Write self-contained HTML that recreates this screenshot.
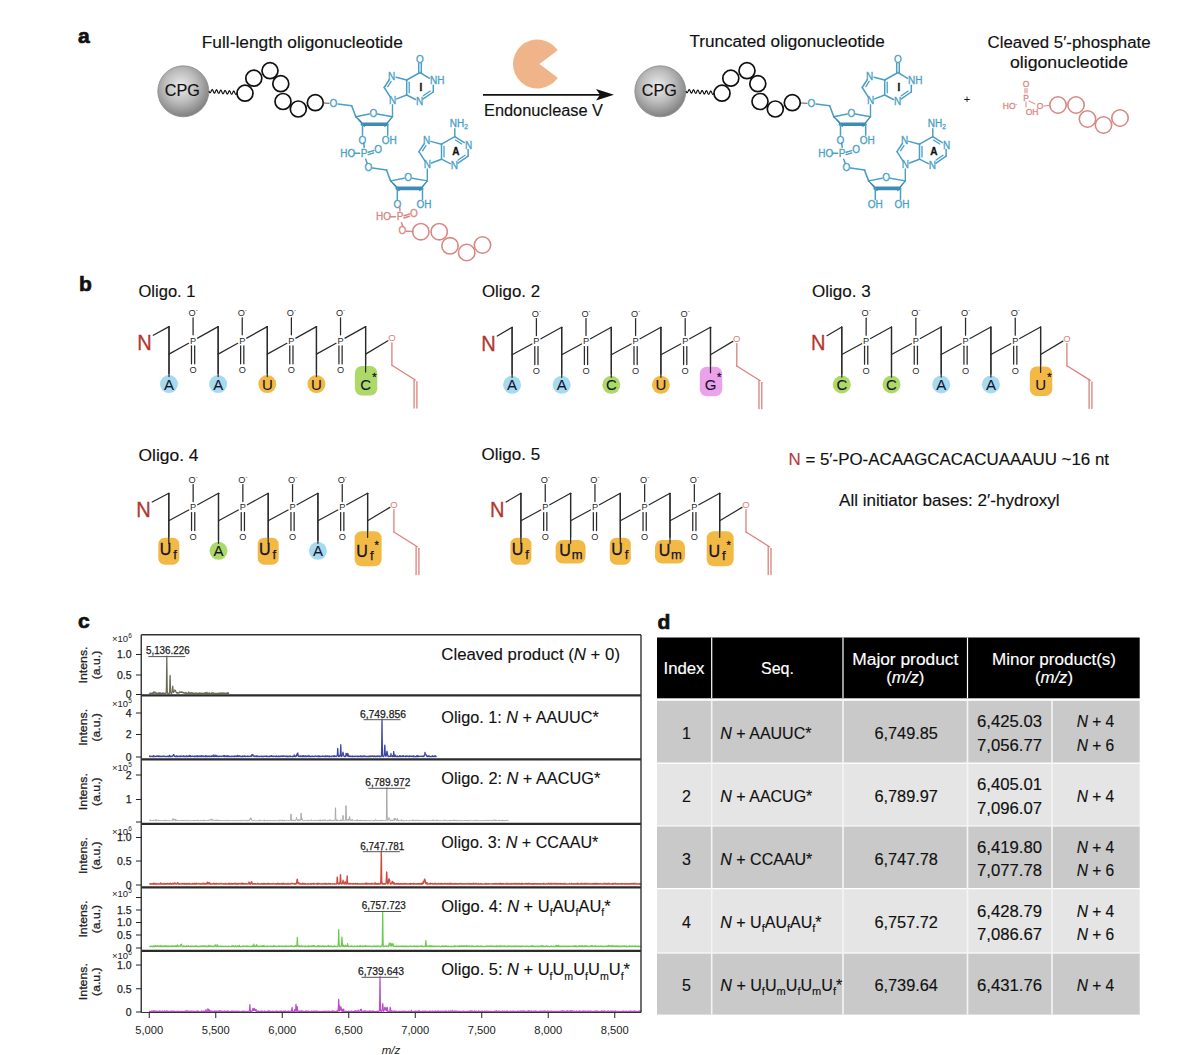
<!DOCTYPE html>
<html><head><meta charset="utf-8"><style>
html,body{margin:0;padding:0;background:#fff;width:1200px;height:1055px;overflow:hidden}
svg{display:block;font-family:"Liberation Sans", sans-serif}
</style></head><body>
<svg width="1200" height="1055" viewBox="0 0 1200 1055">
<defs>
<radialGradient id="sph" cx="0.45" cy="0.4" r="0.62">
<stop offset="0" stop-color="#ececec"/>
<stop offset="0.5" stop-color="#bdbdbd"/>
<stop offset="1" stop-color="#7c7c7c"/>
</radialGradient>
</defs>
<rect width="1200" height="1055" fill="#fff"/>
<text x="78" y="43" font-size="21" text-anchor="start" fill="#111" font-weight="bold" font-style="normal" stroke="#111" stroke-width="0.7" >a</text>
<text x="201.8" y="48.3" font-size="16" text-anchor="start" fill="#111" font-weight="normal" font-style="normal" textLength="201" lengthAdjust="spacingAndGlyphs" stroke="#111" stroke-width="0.15" >Full-length oligonucleotide</text>
<text x="689.4" y="47.3" font-size="16" text-anchor="start" fill="#111" font-weight="normal" font-style="normal" textLength="195.5" lengthAdjust="spacingAndGlyphs" stroke="#111" stroke-width="0.15" >Truncated oligonucleotide</text>
<text x="1069" y="48.3" font-size="16" text-anchor="middle" fill="#111" font-weight="normal" font-style="normal" textLength="163" lengthAdjust="spacingAndGlyphs" stroke="#111" stroke-width="0.15" >Cleaved 5′-phosphate</text>
<text x="1069" y="68.3" font-size="16" text-anchor="middle" fill="#111" font-weight="normal" font-style="normal" textLength="118" lengthAdjust="spacingAndGlyphs" stroke="#111" stroke-width="0.15" >oligonucleotide</text>
<circle cx="183.3" cy="91.3" r="25.5" fill="url(#sph)" stroke="#8a8a8a" stroke-width="0.8"/>
<text x="182.3" y="96.3" font-size="16.5" text-anchor="middle" fill="#111" font-weight="normal" font-style="normal" textLength="35" lengthAdjust="spacingAndGlyphs" stroke="#111" stroke-width="0.2" >CPG</text>
<polyline points="209.00,91.00 209.47,92.10 209.93,92.73 210.40,92.61 210.87,91.82 211.33,90.73 211.80,89.82 212.27,89.54 212.73,90.00 213.20,91.03 213.67,92.18 214.13,92.95 214.60,93.02 215.07,92.36 215.53,91.29 216.00,90.30 216.47,89.84 216.93,90.14 217.40,91.07 217.87,92.24 218.33,93.14 218.80,93.38 219.27,92.87 219.73,91.86 220.20,90.80 220.67,90.19 221.13,90.31 221.60,91.13 222.07,92.29 222.53,93.29 223.00,93.70 223.47,93.35 223.93,92.42 224.40,91.33 224.87,90.58 225.33,90.52 225.80,91.20 226.27,92.32 226.73,93.40 227.20,93.98 227.67,93.81 228.13,92.98 228.60,91.87 229.07,91.01 229.53,90.78 230.00,91.30 230.47,92.36 230.93,93.49 231.40,94.22 231.87,94.22 232.33,93.52 232.80,92.43 233.27,91.47 233.73,91.07 234.20,91.42 234.67,92.39 235.13,93.56 235.60,94.41 236.07,94.60 236.53,94.04 237.00,93.00" fill="none" stroke="#111" stroke-width="1.15"/>
<circle cx="245" cy="93.2" r="8" fill="none" stroke="#111" stroke-width="1.7"/>
<circle cx="253.8" cy="78.2" r="8" fill="none" stroke="#111" stroke-width="1.7"/>
<circle cx="270" cy="70.7" r="8" fill="none" stroke="#111" stroke-width="1.7"/>
<circle cx="280.8" cy="83.7" r="8" fill="none" stroke="#111" stroke-width="1.7"/>
<circle cx="283" cy="101.5" r="8" fill="none" stroke="#111" stroke-width="1.7"/>
<circle cx="298.3" cy="109.0" r="8" fill="none" stroke="#111" stroke-width="1.7"/>
<circle cx="315.3" cy="102.7" r="8" fill="none" stroke="#111" stroke-width="1.7"/>
<text x="333.3" y="107.10" font-size="10" text-anchor="middle" fill="#4a9fc6" font-weight="normal" stroke="#4a9fc6" stroke-width="0.3">O</text>
<line x1="323.50" y1="103.00" x2="329.00" y2="103.30" stroke="#555" stroke-width="1.1" stroke-linecap="round"/>
<line x1="338.00" y1="104.00" x2="351.70" y2="105.80" stroke="#4a9fc6" stroke-width="1.5" stroke-linecap="round"/>
<line x1="351.70" y1="105.80" x2="355.80" y2="116.70" stroke="#4a9fc6" stroke-width="1.6" stroke-linecap="round"/>
<line x1="355.80" y1="116.70" x2="369.30" y2="114.00" stroke="#4a9fc6" stroke-width="1.4" stroke-linecap="round"/>
<text x="373.3" y="116.90" font-size="10" text-anchor="middle" fill="#4a9fc6" font-weight="normal" stroke="#4a9fc6" stroke-width="0.3">O</text>
<line x1="377.30" y1="114.00" x2="392.50" y2="116.70" stroke="#4a9fc6" stroke-width="1.4" stroke-linecap="round"/>
<polygon points="355.8,116.7 361.1,121.8 364.3,126.4 " fill="#3f8bb2" stroke="#3f8bb2" stroke-width="1.2" stroke-linejoin="round"/>
<line x1="362.50" y1="124.20" x2="386.70" y2="124.20" stroke="#3f8bb2" stroke-width="3.6" stroke-linecap="round"/>
<polygon points="392.5,116.7 388.09999999999997,121.8 384.9,126.4" fill="#3f8bb2" stroke="#3f8bb2" stroke-width="1.2" stroke-linejoin="round"/>
<line x1="362.50" y1="124.20" x2="362.50" y2="135.20" stroke="#4a9fc6" stroke-width="1.5" stroke-linecap="round"/>
<text x="362.5" y="143.60" font-size="10" text-anchor="middle" fill="#4a9fc6" font-weight="normal" stroke="#4a9fc6" stroke-width="0.3">O</text>
<line x1="387.70" y1="124.20" x2="387.70" y2="135.20" stroke="#4a9fc6" stroke-width="1.5" stroke-linecap="round"/>
<text x="389.2" y="143.60" font-size="10" text-anchor="middle" fill="#4a9fc6" font-weight="normal" stroke="#4a9fc6" stroke-width="0.3">OH</text>
<line x1="392.50" y1="116.70" x2="392.50" y2="104.70" stroke="#4a9fc6" stroke-width="1.4" stroke-linecap="round"/>
<text x="392.5" y="104.10" font-size="10" text-anchor="middle" fill="#4a9fc6" font-weight="normal" stroke="#4a9fc6" stroke-width="0.3">N</text>
<line x1="390.08" y1="96.71" x2="384.20" y2="87.50" stroke="#4a9fc6" stroke-width="1.5" stroke-linecap="round"/>
<line x1="384.20" y1="87.50" x2="389.24" y2="79.77" stroke="#4a9fc6" stroke-width="1.5" stroke-linecap="round"/>
<line x1="387.79" y1="86.57" x2="391.17" y2="81.39" stroke="#4a9fc6" stroke-width="1.3" stroke-linecap="round"/>
<text x="391.7" y="79.60" font-size="10" text-anchor="middle" fill="#4a9fc6" font-weight="normal" stroke="#4a9fc6" stroke-width="0.3">N</text>
<line x1="396.05" y1="77.16" x2="406.70" y2="80.00" stroke="#4a9fc6" stroke-width="1.5" stroke-linecap="round"/>
<line x1="406.70" y1="80.00" x2="406.70" y2="95.00" stroke="#4a9fc6" stroke-width="1.5" stroke-linecap="round"/>
<line x1="409.20" y1="82.25" x2="409.20" y2="92.75" stroke="#4a9fc6" stroke-width="1.3" stroke-linecap="round"/>
<line x1="406.70" y1="95.00" x2="396.70" y2="98.87" stroke="#4a9fc6" stroke-width="1.5" stroke-linecap="round"/>
<line x1="406.70" y1="80.00" x2="420.00" y2="72.50" stroke="#4a9fc6" stroke-width="1.5" stroke-linecap="round"/>
<text x="419.5" y="105.10" font-size="10" text-anchor="middle" fill="#4a9fc6" font-weight="normal" stroke="#4a9fc6" stroke-width="0.3">N</text>
<line x1="433.30" y1="92.00" x2="423.21" y2="98.95" stroke="#4a9fc6" stroke-width="1.5" stroke-linecap="round"/>
<line x1="430.23" y1="91.08" x2="423.33" y2="95.83" stroke="#4a9fc6" stroke-width="1.3" stroke-linecap="round"/>
<line x1="415.49" y1="99.46" x2="406.70" y2="95.00" stroke="#4a9fc6" stroke-width="1.5" stroke-linecap="round"/>
<line x1="420.00" y1="72.50" x2="429.48" y2="78.42" stroke="#4a9fc6" stroke-width="1.5" stroke-linecap="round"/>
<text x="437.3" y="84.40" font-size="10" text-anchor="middle" fill="#4a9fc6" font-weight="normal" stroke="#4a9fc6" stroke-width="0.3">NH</text>
<line x1="433.30" y1="85.30" x2="433.30" y2="92.00" stroke="#4a9fc6" stroke-width="1.5" stroke-linecap="round"/>
<line x1="418.70" y1="72.50" x2="418.70" y2="63.50" stroke="#4a9fc6" stroke-width="1.5" stroke-linecap="round"/>
<line x1="421.30" y1="72.50" x2="421.30" y2="63.50" stroke="#4a9fc6" stroke-width="1.5" stroke-linecap="round"/>
<text x="420" y="62.60" font-size="10" text-anchor="middle" fill="#4a9fc6" font-weight="normal" stroke="#4a9fc6" stroke-width="0.3">O</text>
<text x="421.0" y="90.60" font-size="10" text-anchor="middle" fill="#111" font-weight="bold" stroke="#111" stroke-width="0.3">I</text>
<text x="364.2" y="156.90" font-size="10" text-anchor="middle" fill="#4a9fc6" font-weight="normal" stroke="#4a9fc6" stroke-width="0.3">P</text>
<text x="347.7" y="156.90" font-size="10" text-anchor="middle" fill="#4a9fc6" font-weight="normal" stroke="#4a9fc6" stroke-width="0.3">HO</text>
<line x1="354.20" y1="153.30" x2="359.70" y2="153.30" stroke="#4a9fc6" stroke-width="1.5" stroke-linecap="round"/>
<text x="378.2" y="153.40" font-size="10" text-anchor="middle" fill="#4a9fc6" font-weight="normal" stroke="#4a9fc6" stroke-width="0.3">O</text>
<line x1="368.20" y1="152.30" x2="373.70" y2="150.60" stroke="#4a9fc6" stroke-width="1.5" stroke-linecap="round"/>
<line x1="368.20" y1="154.60" x2="373.70" y2="152.90" stroke="#4a9fc6" stroke-width="1.5" stroke-linecap="round"/>
<line x1="363.70" y1="142.80" x2="364.20" y2="147.30" stroke="#4a9fc6" stroke-width="1.5" stroke-linecap="round"/>
<line x1="365.70" y1="159.30" x2="367.20" y2="163.30" stroke="#4a9fc6" stroke-width="1.5" stroke-linecap="round"/>
<text x="368.3" y="171.10" font-size="10" text-anchor="middle" fill="#4a9fc6" font-weight="normal" stroke="#4a9fc6" stroke-width="0.3">O</text>
<line x1="372.50" y1="168.00" x2="386.70" y2="170.00" stroke="#4a9fc6" stroke-width="1.5" stroke-linecap="round"/>
<line x1="386.50" y1="170.00" x2="390.60" y2="180.90" stroke="#4a9fc6" stroke-width="1.6" stroke-linecap="round"/>
<line x1="390.60" y1="180.90" x2="404.10" y2="178.20" stroke="#4a9fc6" stroke-width="1.4" stroke-linecap="round"/>
<text x="408.1" y="181.10" font-size="10" text-anchor="middle" fill="#4a9fc6" font-weight="normal" stroke="#4a9fc6" stroke-width="0.3">O</text>
<line x1="412.10" y1="178.20" x2="427.30" y2="180.90" stroke="#4a9fc6" stroke-width="1.4" stroke-linecap="round"/>
<polygon points="390.6,180.9 395.90000000000003,186.0 399.1,190.6 " fill="#3f8bb2" stroke="#3f8bb2" stroke-width="1.2" stroke-linejoin="round"/>
<line x1="397.30" y1="188.40" x2="421.50" y2="188.40" stroke="#3f8bb2" stroke-width="3.6" stroke-linecap="round"/>
<polygon points="427.3,180.9 422.9,186.0 419.7,190.6" fill="#3f8bb2" stroke="#3f8bb2" stroke-width="1.2" stroke-linejoin="round"/>
<line x1="397.30" y1="188.40" x2="397.30" y2="199.40" stroke="#4a9fc6" stroke-width="1.5" stroke-linecap="round"/>
<text x="397.3" y="207.80" font-size="10" text-anchor="middle" fill="#4a9fc6" font-weight="normal" stroke="#4a9fc6" stroke-width="0.3">O</text>
<line x1="422.50" y1="188.40" x2="422.50" y2="199.40" stroke="#4a9fc6" stroke-width="1.5" stroke-linecap="round"/>
<text x="424.0" y="207.80" font-size="10" text-anchor="middle" fill="#4a9fc6" font-weight="normal" stroke="#4a9fc6" stroke-width="0.3">OH</text>
<line x1="427.30" y1="180.90" x2="427.30" y2="168.90" stroke="#4a9fc6" stroke-width="1.4" stroke-linecap="round"/>
<text x="427.3" y="168.30" font-size="10" text-anchor="middle" fill="#4a9fc6" font-weight="normal" stroke="#4a9fc6" stroke-width="0.3">N</text>
<line x1="424.88" y1="160.91" x2="419.00" y2="151.70" stroke="#4a9fc6" stroke-width="1.5" stroke-linecap="round"/>
<line x1="419.00" y1="151.70" x2="424.04" y2="143.97" stroke="#4a9fc6" stroke-width="1.5" stroke-linecap="round"/>
<line x1="422.59" y1="150.77" x2="425.97" y2="145.59" stroke="#4a9fc6" stroke-width="1.3" stroke-linecap="round"/>
<text x="426.5" y="143.80" font-size="10" text-anchor="middle" fill="#4a9fc6" font-weight="normal" stroke="#4a9fc6" stroke-width="0.3">N</text>
<line x1="430.85" y1="141.36" x2="441.50" y2="144.20" stroke="#4a9fc6" stroke-width="1.5" stroke-linecap="round"/>
<line x1="441.50" y1="144.20" x2="441.50" y2="159.20" stroke="#4a9fc6" stroke-width="1.5" stroke-linecap="round"/>
<line x1="444.00" y1="146.45" x2="444.00" y2="156.95" stroke="#4a9fc6" stroke-width="1.3" stroke-linecap="round"/>
<line x1="441.50" y1="159.20" x2="431.50" y2="163.07" stroke="#4a9fc6" stroke-width="1.5" stroke-linecap="round"/>
<line x1="441.50" y1="144.20" x2="454.80" y2="136.70" stroke="#4a9fc6" stroke-width="1.5" stroke-linecap="round"/>
<text x="454.3" y="169.30" font-size="10" text-anchor="middle" fill="#4a9fc6" font-weight="normal" stroke="#4a9fc6" stroke-width="0.3">N</text>
<line x1="468.10" y1="156.20" x2="458.01" y2="163.15" stroke="#4a9fc6" stroke-width="1.5" stroke-linecap="round"/>
<line x1="465.03" y1="155.28" x2="458.13" y2="160.03" stroke="#4a9fc6" stroke-width="1.3" stroke-linecap="round"/>
<line x1="450.29" y1="163.66" x2="441.50" y2="159.20" stroke="#4a9fc6" stroke-width="1.5" stroke-linecap="round"/>
<line x1="454.80" y1="136.70" x2="464.28" y2="142.62" stroke="#4a9fc6" stroke-width="1.5" stroke-linecap="round"/>
<line x1="455.47" y1="140.07" x2="461.72" y2="143.97" stroke="#4a9fc6" stroke-width="1.3" stroke-linecap="round"/>
<text x="468.6" y="148.60" font-size="10" text-anchor="middle" fill="#4a9fc6" font-weight="normal" stroke="#4a9fc6" stroke-width="0.3">N</text>
<line x1="468.10" y1="149.50" x2="468.10" y2="156.20" stroke="#4a9fc6" stroke-width="1.5" stroke-linecap="round"/>
<line x1="454.80" y1="136.70" x2="454.80" y2="128.70" stroke="#4a9fc6" stroke-width="1.5" stroke-linecap="round"/>
<text x="458.8" y="126.80" font-size="10" text-anchor="middle" fill="#4a9fc6" font-weight="normal" stroke="#4a9fc6" stroke-width="0.3">NH<tspan font-size="6.5" dy="2">2</tspan></text>
<text x="455.8" y="154.80" font-size="10" text-anchor="middle" fill="#111" font-weight="bold" stroke="#111" stroke-width="0.3">A</text>
<text x="400" y="220.30" font-size="10" text-anchor="middle" fill="#d68884" font-weight="normal" stroke="#d68884" stroke-width="0.3">P</text>
<text x="383.5" y="220.30" font-size="10" text-anchor="middle" fill="#d68884" font-weight="normal" stroke="#d68884" stroke-width="0.3">HO</text>
<line x1="390.00" y1="216.70" x2="395.50" y2="216.70" stroke="#d68884" stroke-width="1.5" stroke-linecap="round"/>
<text x="414" y="216.80" font-size="10" text-anchor="middle" fill="#d68884" font-weight="normal" stroke="#d68884" stroke-width="0.3">O</text>
<line x1="404.00" y1="215.70" x2="409.50" y2="214.00" stroke="#d68884" stroke-width="1.5" stroke-linecap="round"/>
<line x1="404.00" y1="218.00" x2="409.50" y2="216.30" stroke="#d68884" stroke-width="1.5" stroke-linecap="round"/>
<line x1="399.50" y1="206.20" x2="400.00" y2="210.70" stroke="#d68884" stroke-width="1.5" stroke-linecap="round"/>
<line x1="401.50" y1="222.70" x2="403.00" y2="226.70" stroke="#d68884" stroke-width="1.5" stroke-linecap="round"/>
<text x="402.5" y="234.40" font-size="10" text-anchor="middle" fill="#d68884" font-weight="normal" stroke="#d68884" stroke-width="0.3">O</text>
<line x1="406.50" y1="231.30" x2="412.80" y2="231.50" stroke="#d68884" stroke-width="1.5" stroke-linecap="round"/>
<circle cx="420.8" cy="231.7" r="8.2" fill="none" stroke="#d68884" stroke-width="1.6"/>
<circle cx="439.2" cy="231.7" r="8.2" fill="none" stroke="#d68884" stroke-width="1.6"/>
<circle cx="450" cy="245.8" r="8.2" fill="none" stroke="#d68884" stroke-width="1.6"/>
<circle cx="466.7" cy="252.5" r="8.2" fill="none" stroke="#d68884" stroke-width="1.6"/>
<circle cx="482.5" cy="245" r="8.2" fill="none" stroke="#d68884" stroke-width="1.6"/>
<circle cx="660.3" cy="91.3" r="25.5" fill="url(#sph)" stroke="#8a8a8a" stroke-width="0.8"/>
<text x="659.3" y="96.3" font-size="16.5" text-anchor="middle" fill="#111" font-weight="normal" font-style="normal" textLength="35" lengthAdjust="spacingAndGlyphs" stroke="#111" stroke-width="0.2" >CPG</text>
<polyline points="686.00,91.00 686.47,92.10 686.93,92.73 687.40,92.61 687.87,91.82 688.33,90.73 688.80,89.82 689.27,89.54 689.73,90.00 690.20,91.03 690.67,92.18 691.13,92.95 691.60,93.02 692.07,92.36 692.53,91.29 693.00,90.30 693.47,89.84 693.93,90.14 694.40,91.07 694.87,92.24 695.33,93.14 695.80,93.38 696.27,92.87 696.73,91.86 697.20,90.80 697.67,90.19 698.13,90.31 698.60,91.13 699.07,92.29 699.53,93.29 700.00,93.70 700.47,93.35 700.93,92.42 701.40,91.33 701.87,90.58 702.33,90.52 702.80,91.20 703.27,92.32 703.73,93.40 704.20,93.98 704.67,93.81 705.13,92.98 705.60,91.87 706.07,91.01 706.53,90.78 707.00,91.30 707.47,92.36 707.93,93.49 708.40,94.22 708.87,94.22 709.33,93.52 709.80,92.43 710.27,91.47 710.73,91.07 711.20,91.42 711.67,92.39 712.13,93.56 712.60,94.41 713.07,94.60 713.53,94.04 714.00,93.00" fill="none" stroke="#111" stroke-width="1.15"/>
<circle cx="722" cy="93.2" r="8" fill="none" stroke="#111" stroke-width="1.7"/>
<circle cx="730.8" cy="78.2" r="8" fill="none" stroke="#111" stroke-width="1.7"/>
<circle cx="747" cy="70.7" r="8" fill="none" stroke="#111" stroke-width="1.7"/>
<circle cx="757.8" cy="83.7" r="8" fill="none" stroke="#111" stroke-width="1.7"/>
<circle cx="760" cy="101.5" r="8" fill="none" stroke="#111" stroke-width="1.7"/>
<circle cx="775.3" cy="109.0" r="8" fill="none" stroke="#111" stroke-width="1.7"/>
<circle cx="792.3" cy="102.7" r="8" fill="none" stroke="#111" stroke-width="1.7"/>
<text x="811.3" y="107.10" font-size="10" text-anchor="middle" fill="#4a9fc6" font-weight="normal" stroke="#4a9fc6" stroke-width="0.3">O</text>
<line x1="801.50" y1="103.00" x2="807.00" y2="103.30" stroke="#555" stroke-width="1.1" stroke-linecap="round"/>
<line x1="816.00" y1="104.00" x2="829.70" y2="105.80" stroke="#4a9fc6" stroke-width="1.5" stroke-linecap="round"/>
<line x1="829.70" y1="105.80" x2="833.80" y2="116.70" stroke="#4a9fc6" stroke-width="1.6" stroke-linecap="round"/>
<line x1="833.80" y1="116.70" x2="847.30" y2="114.00" stroke="#4a9fc6" stroke-width="1.4" stroke-linecap="round"/>
<text x="851.3" y="116.90" font-size="10" text-anchor="middle" fill="#4a9fc6" font-weight="normal" stroke="#4a9fc6" stroke-width="0.3">O</text>
<line x1="855.30" y1="114.00" x2="870.50" y2="116.70" stroke="#4a9fc6" stroke-width="1.4" stroke-linecap="round"/>
<polygon points="833.8,116.7 839.1,121.8 842.3,126.4 " fill="#3f8bb2" stroke="#3f8bb2" stroke-width="1.2" stroke-linejoin="round"/>
<line x1="840.50" y1="124.20" x2="864.70" y2="124.20" stroke="#3f8bb2" stroke-width="3.6" stroke-linecap="round"/>
<polygon points="870.5,116.7 866.1,121.8 862.9000000000001,126.4" fill="#3f8bb2" stroke="#3f8bb2" stroke-width="1.2" stroke-linejoin="round"/>
<line x1="840.50" y1="124.20" x2="840.50" y2="135.20" stroke="#4a9fc6" stroke-width="1.5" stroke-linecap="round"/>
<text x="840.5" y="143.60" font-size="10" text-anchor="middle" fill="#4a9fc6" font-weight="normal" stroke="#4a9fc6" stroke-width="0.3">O</text>
<line x1="865.70" y1="124.20" x2="865.70" y2="135.20" stroke="#4a9fc6" stroke-width="1.5" stroke-linecap="round"/>
<text x="867.2" y="143.60" font-size="10" text-anchor="middle" fill="#4a9fc6" font-weight="normal" stroke="#4a9fc6" stroke-width="0.3">OH</text>
<line x1="870.50" y1="116.70" x2="870.50" y2="104.70" stroke="#4a9fc6" stroke-width="1.4" stroke-linecap="round"/>
<text x="870.5" y="104.10" font-size="10" text-anchor="middle" fill="#4a9fc6" font-weight="normal" stroke="#4a9fc6" stroke-width="0.3">N</text>
<line x1="868.08" y1="96.71" x2="862.20" y2="87.50" stroke="#4a9fc6" stroke-width="1.5" stroke-linecap="round"/>
<line x1="862.20" y1="87.50" x2="867.24" y2="79.77" stroke="#4a9fc6" stroke-width="1.5" stroke-linecap="round"/>
<line x1="865.79" y1="86.57" x2="869.17" y2="81.39" stroke="#4a9fc6" stroke-width="1.3" stroke-linecap="round"/>
<text x="869.7" y="79.60" font-size="10" text-anchor="middle" fill="#4a9fc6" font-weight="normal" stroke="#4a9fc6" stroke-width="0.3">N</text>
<line x1="874.05" y1="77.16" x2="884.70" y2="80.00" stroke="#4a9fc6" stroke-width="1.5" stroke-linecap="round"/>
<line x1="884.70" y1="80.00" x2="884.70" y2="95.00" stroke="#4a9fc6" stroke-width="1.5" stroke-linecap="round"/>
<line x1="887.20" y1="82.25" x2="887.20" y2="92.75" stroke="#4a9fc6" stroke-width="1.3" stroke-linecap="round"/>
<line x1="884.70" y1="95.00" x2="874.70" y2="98.87" stroke="#4a9fc6" stroke-width="1.5" stroke-linecap="round"/>
<line x1="884.70" y1="80.00" x2="898.00" y2="72.50" stroke="#4a9fc6" stroke-width="1.5" stroke-linecap="round"/>
<text x="897.5" y="105.10" font-size="10" text-anchor="middle" fill="#4a9fc6" font-weight="normal" stroke="#4a9fc6" stroke-width="0.3">N</text>
<line x1="911.30" y1="92.00" x2="901.21" y2="98.95" stroke="#4a9fc6" stroke-width="1.5" stroke-linecap="round"/>
<line x1="908.23" y1="91.08" x2="901.33" y2="95.83" stroke="#4a9fc6" stroke-width="1.3" stroke-linecap="round"/>
<line x1="893.49" y1="99.46" x2="884.70" y2="95.00" stroke="#4a9fc6" stroke-width="1.5" stroke-linecap="round"/>
<line x1="898.00" y1="72.50" x2="907.48" y2="78.42" stroke="#4a9fc6" stroke-width="1.5" stroke-linecap="round"/>
<text x="915.3" y="84.40" font-size="10" text-anchor="middle" fill="#4a9fc6" font-weight="normal" stroke="#4a9fc6" stroke-width="0.3">NH</text>
<line x1="911.30" y1="85.30" x2="911.30" y2="92.00" stroke="#4a9fc6" stroke-width="1.5" stroke-linecap="round"/>
<line x1="896.70" y1="72.50" x2="896.70" y2="63.50" stroke="#4a9fc6" stroke-width="1.5" stroke-linecap="round"/>
<line x1="899.30" y1="72.50" x2="899.30" y2="63.50" stroke="#4a9fc6" stroke-width="1.5" stroke-linecap="round"/>
<text x="898" y="62.60" font-size="10" text-anchor="middle" fill="#4a9fc6" font-weight="normal" stroke="#4a9fc6" stroke-width="0.3">O</text>
<text x="899.0" y="90.60" font-size="10" text-anchor="middle" fill="#111" font-weight="bold" stroke="#111" stroke-width="0.3">I</text>
<text x="842.2" y="156.90" font-size="10" text-anchor="middle" fill="#4a9fc6" font-weight="normal" stroke="#4a9fc6" stroke-width="0.3">P</text>
<text x="825.7" y="156.90" font-size="10" text-anchor="middle" fill="#4a9fc6" font-weight="normal" stroke="#4a9fc6" stroke-width="0.3">HO</text>
<line x1="832.20" y1="153.30" x2="837.70" y2="153.30" stroke="#4a9fc6" stroke-width="1.5" stroke-linecap="round"/>
<text x="856.2" y="153.40" font-size="10" text-anchor="middle" fill="#4a9fc6" font-weight="normal" stroke="#4a9fc6" stroke-width="0.3">O</text>
<line x1="846.20" y1="152.30" x2="851.70" y2="150.60" stroke="#4a9fc6" stroke-width="1.5" stroke-linecap="round"/>
<line x1="846.20" y1="154.60" x2="851.70" y2="152.90" stroke="#4a9fc6" stroke-width="1.5" stroke-linecap="round"/>
<line x1="841.70" y1="142.80" x2="842.20" y2="147.30" stroke="#4a9fc6" stroke-width="1.5" stroke-linecap="round"/>
<line x1="843.70" y1="159.30" x2="845.20" y2="163.30" stroke="#4a9fc6" stroke-width="1.5" stroke-linecap="round"/>
<text x="846.3" y="171.10" font-size="10" text-anchor="middle" fill="#4a9fc6" font-weight="normal" stroke="#4a9fc6" stroke-width="0.3">O</text>
<line x1="850.50" y1="168.00" x2="864.70" y2="170.00" stroke="#4a9fc6" stroke-width="1.5" stroke-linecap="round"/>
<line x1="864.50" y1="170.00" x2="868.60" y2="180.90" stroke="#4a9fc6" stroke-width="1.6" stroke-linecap="round"/>
<line x1="868.60" y1="180.90" x2="882.10" y2="178.20" stroke="#4a9fc6" stroke-width="1.4" stroke-linecap="round"/>
<text x="886.0999999999999" y="181.10" font-size="10" text-anchor="middle" fill="#4a9fc6" font-weight="normal" stroke="#4a9fc6" stroke-width="0.3">O</text>
<line x1="890.10" y1="178.20" x2="905.30" y2="180.90" stroke="#4a9fc6" stroke-width="1.4" stroke-linecap="round"/>
<polygon points="868.5999999999999,180.9 873.9,186.0 877.0999999999999,190.6 " fill="#3f8bb2" stroke="#3f8bb2" stroke-width="1.2" stroke-linejoin="round"/>
<line x1="875.30" y1="188.40" x2="899.50" y2="188.40" stroke="#3f8bb2" stroke-width="3.6" stroke-linecap="round"/>
<polygon points="905.3,180.9 900.9,186.0 897.7,190.6" fill="#3f8bb2" stroke="#3f8bb2" stroke-width="1.2" stroke-linejoin="round"/>
<line x1="875.30" y1="188.40" x2="875.30" y2="199.40" stroke="#4a9fc6" stroke-width="1.5" stroke-linecap="round"/>
<text x="875.3" y="207.80" font-size="10" text-anchor="middle" fill="#4a9fc6" font-weight="normal" stroke="#4a9fc6" stroke-width="0.3">OH</text>
<line x1="900.50" y1="188.40" x2="900.50" y2="199.40" stroke="#4a9fc6" stroke-width="1.5" stroke-linecap="round"/>
<text x="902.0" y="207.80" font-size="10" text-anchor="middle" fill="#4a9fc6" font-weight="normal" stroke="#4a9fc6" stroke-width="0.3">OH</text>
<line x1="905.30" y1="180.90" x2="905.30" y2="168.90" stroke="#4a9fc6" stroke-width="1.4" stroke-linecap="round"/>
<text x="905.3" y="168.30" font-size="10" text-anchor="middle" fill="#4a9fc6" font-weight="normal" stroke="#4a9fc6" stroke-width="0.3">N</text>
<line x1="902.88" y1="160.91" x2="897.00" y2="151.70" stroke="#4a9fc6" stroke-width="1.5" stroke-linecap="round"/>
<line x1="897.00" y1="151.70" x2="902.04" y2="143.97" stroke="#4a9fc6" stroke-width="1.5" stroke-linecap="round"/>
<line x1="900.59" y1="150.77" x2="903.97" y2="145.59" stroke="#4a9fc6" stroke-width="1.3" stroke-linecap="round"/>
<text x="904.5" y="143.80" font-size="10" text-anchor="middle" fill="#4a9fc6" font-weight="normal" stroke="#4a9fc6" stroke-width="0.3">N</text>
<line x1="908.85" y1="141.36" x2="919.50" y2="144.20" stroke="#4a9fc6" stroke-width="1.5" stroke-linecap="round"/>
<line x1="919.50" y1="144.20" x2="919.50" y2="159.20" stroke="#4a9fc6" stroke-width="1.5" stroke-linecap="round"/>
<line x1="922.00" y1="146.45" x2="922.00" y2="156.95" stroke="#4a9fc6" stroke-width="1.3" stroke-linecap="round"/>
<line x1="919.50" y1="159.20" x2="909.50" y2="163.07" stroke="#4a9fc6" stroke-width="1.5" stroke-linecap="round"/>
<line x1="919.50" y1="144.20" x2="932.80" y2="136.70" stroke="#4a9fc6" stroke-width="1.5" stroke-linecap="round"/>
<text x="932.3" y="169.30" font-size="10" text-anchor="middle" fill="#4a9fc6" font-weight="normal" stroke="#4a9fc6" stroke-width="0.3">N</text>
<line x1="946.10" y1="156.20" x2="936.01" y2="163.15" stroke="#4a9fc6" stroke-width="1.5" stroke-linecap="round"/>
<line x1="943.03" y1="155.28" x2="936.13" y2="160.03" stroke="#4a9fc6" stroke-width="1.3" stroke-linecap="round"/>
<line x1="928.29" y1="163.66" x2="919.50" y2="159.20" stroke="#4a9fc6" stroke-width="1.5" stroke-linecap="round"/>
<line x1="932.80" y1="136.70" x2="942.28" y2="142.62" stroke="#4a9fc6" stroke-width="1.5" stroke-linecap="round"/>
<line x1="933.47" y1="140.07" x2="939.72" y2="143.97" stroke="#4a9fc6" stroke-width="1.3" stroke-linecap="round"/>
<text x="946.5999999999999" y="148.60" font-size="10" text-anchor="middle" fill="#4a9fc6" font-weight="normal" stroke="#4a9fc6" stroke-width="0.3">N</text>
<line x1="946.10" y1="149.50" x2="946.10" y2="156.20" stroke="#4a9fc6" stroke-width="1.5" stroke-linecap="round"/>
<line x1="932.80" y1="136.70" x2="932.80" y2="128.70" stroke="#4a9fc6" stroke-width="1.5" stroke-linecap="round"/>
<text x="936.8" y="126.80" font-size="10" text-anchor="middle" fill="#4a9fc6" font-weight="normal" stroke="#4a9fc6" stroke-width="0.3">NH<tspan font-size="6.5" dy="2">2</tspan></text>
<text x="933.8" y="154.80" font-size="10" text-anchor="middle" fill="#111" font-weight="bold" stroke="#111" stroke-width="0.3">A</text>
<path d="M539.5,64 L557.81,50.30 A24.5,24.5 0 1 0 557.81,77.70 Z" fill="#f0b48a"/>
<line x1="483" y1="94.8" x2="606" y2="94.8" stroke="#111" stroke-width="1.7"/>
<path d="M614,94.8 L596,89 L600,94.8 L596,100.6 Z" fill="#111"/>
<text x="484" y="116" font-size="16" text-anchor="start" fill="#111" font-weight="normal" font-style="normal" textLength="119" lengthAdjust="spacingAndGlyphs" stroke="#111" stroke-width="0.15" >Endonuclease V</text>
<text x="967" y="103" font-size="11" text-anchor="middle" fill="#111" font-weight="normal" font-style="normal" >+</text>
<text x="1026" y="87.06" font-size="8.5" text-anchor="middle" fill="#d68884" font-weight="normal" stroke="#d68884" stroke-width="0.3">O</text>
<line x1="1025.00" y1="88.50" x2="1025.00" y2="93.00" stroke="#d68884" stroke-width="1" stroke-linecap="round"/>
<line x1="1027.00" y1="88.50" x2="1027.00" y2="93.00" stroke="#d68884" stroke-width="1" stroke-linecap="round"/>
<text x="1026" y="101.06" font-size="8.5" text-anchor="middle" fill="#d68884" font-weight="normal" stroke="#d68884" stroke-width="0.3">P</text>
<text x="1010" y="109.06" font-size="8.5" text-anchor="middle" fill="#d68884" font-weight="normal" stroke="#d68884" stroke-width="0.3">HO<tspan font-size="5" dy="-3">-</tspan></text>
<text x="1032" y="115.06" font-size="8.5" text-anchor="middle" fill="#d68884" font-weight="normal" stroke="#d68884" stroke-width="0.3">OH</text>
<line x1="1026.00" y1="102.00" x2="1026.00" y2="107.00" stroke="#d68884" stroke-width="1" stroke-linecap="round"/>
<line x1="1029.00" y1="101.00" x2="1035.00" y2="104.00" stroke="#d68884" stroke-width="1" stroke-linecap="round"/>
<text x="1040" y="109.06" font-size="8.5" text-anchor="middle" fill="#d68884" font-weight="normal" stroke="#d68884" stroke-width="0.3">O</text>
<line x1="1044.00" y1="106.00" x2="1049.50" y2="105.50" stroke="#d68884" stroke-width="1" stroke-linecap="round"/>
<circle cx="1058" cy="105" r="8.2" fill="none" stroke="#d68884" stroke-width="1.6"/>
<circle cx="1076" cy="105" r="8.2" fill="none" stroke="#d68884" stroke-width="1.6"/>
<circle cx="1087.5" cy="119" r="8.2" fill="none" stroke="#d68884" stroke-width="1.6"/>
<circle cx="1103.5" cy="125" r="8.2" fill="none" stroke="#d68884" stroke-width="1.6"/>
<circle cx="1120" cy="118" r="8.2" fill="none" stroke="#d68884" stroke-width="1.6"/>
<text x="79" y="291.3" font-size="21" text-anchor="start" fill="#111" font-weight="bold" font-style="normal" stroke="#111" stroke-width="0.7" >b</text>
<text x="138.5" y="296.7" font-size="17" text-anchor="start" fill="#111" font-weight="normal" font-style="normal" textLength="57" lengthAdjust="spacingAndGlyphs" stroke="#111" stroke-width="0.15" >Oligo. 1</text>
<text x="144.5" y="349.8" font-size="22" text-anchor="middle" fill="#b3362f" font-weight="normal" font-style="normal" textLength="14.5" lengthAdjust="spacingAndGlyphs" stroke="#b3362f" stroke-width="0.3" >N</text>
<line x1="153.30" y1="335.30" x2="169.00" y2="326.60" stroke="#2a2a2a" stroke-width="1.25" stroke-linecap="round"/>
<line x1="169.00" y1="326.60" x2="169.00" y2="373.60" stroke="#2a2a2a" stroke-width="1.25" stroke-linecap="round"/>
<line x1="169.00" y1="354.10" x2="188.58" y2="343.30" stroke="#2a2a2a" stroke-width="1.25" stroke-linecap="round"/>
<text x="193.08" y="343.60" font-size="9.2" text-anchor="middle" fill="#2a2a2a">P</text>
<line x1="197.58" y1="338.10" x2="218.15" y2="326.60" stroke="#2a2a2a" stroke-width="1.25" stroke-linecap="round"/>
<line x1="193.08" y1="334.80" x2="193.08" y2="317.80" stroke="#2a2a2a" stroke-width="1.25" stroke-linecap="round"/>
<text x="193.08" y="316.00" font-size="9.2" text-anchor="middle" fill="#2a2a2a">O<tspan font-size="6" dy="-4">-</tspan></text>
<line x1="191.48" y1="345.80" x2="191.48" y2="363.80" stroke="#2a2a2a" stroke-width="1.25" stroke-linecap="round"/>
<line x1="194.68" y1="345.80" x2="194.68" y2="363.80" stroke="#2a2a2a" stroke-width="1.25" stroke-linecap="round"/>
<text x="193.08" y="373.10" font-size="9.2" text-anchor="middle" fill="#2a2a2a">O</text>
<circle cx="169.0" cy="384.1" r="9" fill="#a6dbef"/>
<line x1="169.00" y1="326.60" x2="169.00" y2="376.60" stroke="#2a2a2a" stroke-width="1.25" stroke-linecap="round"/>
<text x="169.00" y="389.50" font-size="15" text-anchor="middle" fill="#14142e" stroke="#14142e" stroke-width="0.1">A</text>
<line x1="218.15" y1="326.60" x2="218.15" y2="373.60" stroke="#2a2a2a" stroke-width="1.25" stroke-linecap="round"/>
<line x1="218.15" y1="354.10" x2="237.73" y2="343.30" stroke="#2a2a2a" stroke-width="1.25" stroke-linecap="round"/>
<text x="242.23" y="343.60" font-size="9.2" text-anchor="middle" fill="#2a2a2a">P</text>
<line x1="246.73" y1="338.10" x2="267.30" y2="326.60" stroke="#2a2a2a" stroke-width="1.25" stroke-linecap="round"/>
<line x1="242.23" y1="334.80" x2="242.23" y2="317.80" stroke="#2a2a2a" stroke-width="1.25" stroke-linecap="round"/>
<text x="242.23" y="316.00" font-size="9.2" text-anchor="middle" fill="#2a2a2a">O<tspan font-size="6" dy="-4">-</tspan></text>
<line x1="240.63" y1="345.80" x2="240.63" y2="363.80" stroke="#2a2a2a" stroke-width="1.25" stroke-linecap="round"/>
<line x1="243.83" y1="345.80" x2="243.83" y2="363.80" stroke="#2a2a2a" stroke-width="1.25" stroke-linecap="round"/>
<text x="242.23" y="373.10" font-size="9.2" text-anchor="middle" fill="#2a2a2a">O</text>
<circle cx="218.15" cy="384.1" r="9" fill="#a6dbef"/>
<line x1="218.15" y1="326.60" x2="218.15" y2="376.60" stroke="#2a2a2a" stroke-width="1.25" stroke-linecap="round"/>
<text x="218.15" y="389.50" font-size="15" text-anchor="middle" fill="#14142e" stroke="#14142e" stroke-width="0.1">A</text>
<line x1="267.30" y1="326.60" x2="267.30" y2="373.60" stroke="#2a2a2a" stroke-width="1.25" stroke-linecap="round"/>
<line x1="267.30" y1="354.10" x2="286.88" y2="343.30" stroke="#2a2a2a" stroke-width="1.25" stroke-linecap="round"/>
<text x="291.38" y="343.60" font-size="9.2" text-anchor="middle" fill="#2a2a2a">P</text>
<line x1="295.88" y1="338.10" x2="316.45" y2="326.60" stroke="#2a2a2a" stroke-width="1.25" stroke-linecap="round"/>
<line x1="291.38" y1="334.80" x2="291.38" y2="317.80" stroke="#2a2a2a" stroke-width="1.25" stroke-linecap="round"/>
<text x="291.38" y="316.00" font-size="9.2" text-anchor="middle" fill="#2a2a2a">O<tspan font-size="6" dy="-4">-</tspan></text>
<line x1="289.78" y1="345.80" x2="289.78" y2="363.80" stroke="#2a2a2a" stroke-width="1.25" stroke-linecap="round"/>
<line x1="292.98" y1="345.80" x2="292.98" y2="363.80" stroke="#2a2a2a" stroke-width="1.25" stroke-linecap="round"/>
<text x="291.38" y="373.10" font-size="9.2" text-anchor="middle" fill="#2a2a2a">O</text>
<circle cx="267.3" cy="384.1" r="9" fill="#f2b945"/>
<line x1="267.30" y1="326.60" x2="267.30" y2="376.60" stroke="#2a2a2a" stroke-width="1.25" stroke-linecap="round"/>
<text x="267.30" y="389.50" font-size="15" text-anchor="middle" fill="#14142e" stroke="#14142e" stroke-width="0.1">U</text>
<line x1="316.45" y1="326.60" x2="316.45" y2="373.60" stroke="#2a2a2a" stroke-width="1.25" stroke-linecap="round"/>
<line x1="316.45" y1="354.10" x2="336.03" y2="343.30" stroke="#2a2a2a" stroke-width="1.25" stroke-linecap="round"/>
<text x="340.53" y="343.60" font-size="9.2" text-anchor="middle" fill="#2a2a2a">P</text>
<line x1="345.03" y1="338.10" x2="365.60" y2="326.60" stroke="#2a2a2a" stroke-width="1.25" stroke-linecap="round"/>
<line x1="340.53" y1="334.80" x2="340.53" y2="317.80" stroke="#2a2a2a" stroke-width="1.25" stroke-linecap="round"/>
<text x="340.53" y="316.00" font-size="9.2" text-anchor="middle" fill="#2a2a2a">O<tspan font-size="6" dy="-4">-</tspan></text>
<line x1="338.93" y1="345.80" x2="338.93" y2="363.80" stroke="#2a2a2a" stroke-width="1.25" stroke-linecap="round"/>
<line x1="342.13" y1="345.80" x2="342.13" y2="363.80" stroke="#2a2a2a" stroke-width="1.25" stroke-linecap="round"/>
<text x="340.53" y="373.10" font-size="9.2" text-anchor="middle" fill="#2a2a2a">O</text>
<circle cx="316.45" cy="384.1" r="9" fill="#f2b945"/>
<line x1="316.45" y1="326.60" x2="316.45" y2="376.60" stroke="#2a2a2a" stroke-width="1.25" stroke-linecap="round"/>
<text x="316.45" y="389.50" font-size="15" text-anchor="middle" fill="#14142e" stroke="#14142e" stroke-width="0.1">U</text>
<line x1="365.60" y1="326.60" x2="365.60" y2="364.60" stroke="#2a2a2a" stroke-width="1.25" stroke-linecap="round"/>
<line x1="365.60" y1="354.10" x2="387.90" y2="340.70" stroke="#2a2a2a" stroke-width="1.25" stroke-linecap="round"/>
<text x="391.90" y="341.30" font-size="9.5" text-anchor="middle" fill="#d9827a">O</text>
<line x1="391.90" y1="343.00" x2="391.90" y2="365.30" stroke="#d9827a" stroke-width="1.3" stroke-linecap="round"/>
<line x1="391.90" y1="365.30" x2="415.30" y2="380.00" stroke="#d9827a" stroke-width="1.3" stroke-linecap="round"/>
<line x1="414.10" y1="380.00" x2="414.10" y2="408.00" stroke="#d9827a" stroke-width="1.3" stroke-linecap="round"/>
<line x1="416.90" y1="381.60" x2="416.90" y2="408.00" stroke="#d9827a" stroke-width="1.3" stroke-linecap="round"/>
<rect x="354.90" y="366.00" width="22.4" height="29.6" rx="7" fill="#acd967"/>
<line x1="365.60" y1="326.60" x2="365.60" y2="372.00" stroke="#2a2a2a" stroke-width="1.25" stroke-linecap="round"/>
<text x="365.60" y="389.50" font-size="15" text-anchor="middle" fill="#14142e" stroke="#14142e" stroke-width="0.1">C</text>
<text x="374.30" y="380.60" font-size="11" text-anchor="middle" fill="#14142e" stroke="#14142e" stroke-width="0.3">*</text>
<text x="482" y="296.7" font-size="17" text-anchor="start" fill="#111" font-weight="normal" font-style="normal" textLength="58" lengthAdjust="spacingAndGlyphs" stroke="#111" stroke-width="0.15" >Oligo. 2</text>
<text x="488.5" y="350.5" font-size="22" text-anchor="middle" fill="#b3362f" font-weight="normal" font-style="normal" textLength="14.5" lengthAdjust="spacingAndGlyphs" stroke="#b3362f" stroke-width="0.3" >N</text>
<line x1="497.30" y1="336.00" x2="512.10" y2="327.30" stroke="#2a2a2a" stroke-width="1.25" stroke-linecap="round"/>
<line x1="512.10" y1="327.30" x2="512.10" y2="374.30" stroke="#2a2a2a" stroke-width="1.25" stroke-linecap="round"/>
<line x1="512.10" y1="354.80" x2="531.90" y2="344.00" stroke="#2a2a2a" stroke-width="1.25" stroke-linecap="round"/>
<text x="536.40" y="344.30" font-size="9.2" text-anchor="middle" fill="#2a2a2a">P</text>
<line x1="540.90" y1="338.80" x2="561.70" y2="327.30" stroke="#2a2a2a" stroke-width="1.25" stroke-linecap="round"/>
<line x1="536.40" y1="335.50" x2="536.40" y2="318.50" stroke="#2a2a2a" stroke-width="1.25" stroke-linecap="round"/>
<text x="536.40" y="316.70" font-size="9.2" text-anchor="middle" fill="#2a2a2a">O<tspan font-size="6" dy="-4">-</tspan></text>
<line x1="534.80" y1="346.50" x2="534.80" y2="364.50" stroke="#2a2a2a" stroke-width="1.25" stroke-linecap="round"/>
<line x1="538.00" y1="346.50" x2="538.00" y2="364.50" stroke="#2a2a2a" stroke-width="1.25" stroke-linecap="round"/>
<text x="536.40" y="373.80" font-size="9.2" text-anchor="middle" fill="#2a2a2a">O</text>
<circle cx="512.1" cy="384.8" r="9" fill="#a6dbef"/>
<line x1="512.10" y1="327.30" x2="512.10" y2="377.30" stroke="#2a2a2a" stroke-width="1.25" stroke-linecap="round"/>
<text x="512.10" y="390.20" font-size="15" text-anchor="middle" fill="#14142e" stroke="#14142e" stroke-width="0.1">A</text>
<line x1="561.70" y1="327.30" x2="561.70" y2="374.30" stroke="#2a2a2a" stroke-width="1.25" stroke-linecap="round"/>
<line x1="561.70" y1="354.80" x2="581.50" y2="344.00" stroke="#2a2a2a" stroke-width="1.25" stroke-linecap="round"/>
<text x="586.00" y="344.30" font-size="9.2" text-anchor="middle" fill="#2a2a2a">P</text>
<line x1="590.50" y1="338.80" x2="611.30" y2="327.30" stroke="#2a2a2a" stroke-width="1.25" stroke-linecap="round"/>
<line x1="586.00" y1="335.50" x2="586.00" y2="318.50" stroke="#2a2a2a" stroke-width="1.25" stroke-linecap="round"/>
<text x="586.00" y="316.70" font-size="9.2" text-anchor="middle" fill="#2a2a2a">O<tspan font-size="6" dy="-4">-</tspan></text>
<line x1="584.40" y1="346.50" x2="584.40" y2="364.50" stroke="#2a2a2a" stroke-width="1.25" stroke-linecap="round"/>
<line x1="587.60" y1="346.50" x2="587.60" y2="364.50" stroke="#2a2a2a" stroke-width="1.25" stroke-linecap="round"/>
<text x="586.00" y="373.80" font-size="9.2" text-anchor="middle" fill="#2a2a2a">O</text>
<circle cx="561.7" cy="384.8" r="9" fill="#a6dbef"/>
<line x1="561.70" y1="327.30" x2="561.70" y2="377.30" stroke="#2a2a2a" stroke-width="1.25" stroke-linecap="round"/>
<text x="561.70" y="390.20" font-size="15" text-anchor="middle" fill="#14142e" stroke="#14142e" stroke-width="0.1">A</text>
<line x1="611.30" y1="327.30" x2="611.30" y2="374.30" stroke="#2a2a2a" stroke-width="1.25" stroke-linecap="round"/>
<line x1="611.30" y1="354.80" x2="631.10" y2="344.00" stroke="#2a2a2a" stroke-width="1.25" stroke-linecap="round"/>
<text x="635.60" y="344.30" font-size="9.2" text-anchor="middle" fill="#2a2a2a">P</text>
<line x1="640.10" y1="338.80" x2="660.90" y2="327.30" stroke="#2a2a2a" stroke-width="1.25" stroke-linecap="round"/>
<line x1="635.60" y1="335.50" x2="635.60" y2="318.50" stroke="#2a2a2a" stroke-width="1.25" stroke-linecap="round"/>
<text x="635.60" y="316.70" font-size="9.2" text-anchor="middle" fill="#2a2a2a">O<tspan font-size="6" dy="-4">-</tspan></text>
<line x1="634.00" y1="346.50" x2="634.00" y2="364.50" stroke="#2a2a2a" stroke-width="1.25" stroke-linecap="round"/>
<line x1="637.20" y1="346.50" x2="637.20" y2="364.50" stroke="#2a2a2a" stroke-width="1.25" stroke-linecap="round"/>
<text x="635.60" y="373.80" font-size="9.2" text-anchor="middle" fill="#2a2a2a">O</text>
<circle cx="611.3000000000001" cy="384.8" r="9" fill="#acd967"/>
<line x1="611.30" y1="327.30" x2="611.30" y2="377.30" stroke="#2a2a2a" stroke-width="1.25" stroke-linecap="round"/>
<text x="611.30" y="390.20" font-size="15" text-anchor="middle" fill="#14142e" stroke="#14142e" stroke-width="0.1">C</text>
<line x1="660.90" y1="327.30" x2="660.90" y2="374.30" stroke="#2a2a2a" stroke-width="1.25" stroke-linecap="round"/>
<line x1="660.90" y1="354.80" x2="680.70" y2="344.00" stroke="#2a2a2a" stroke-width="1.25" stroke-linecap="round"/>
<text x="685.20" y="344.30" font-size="9.2" text-anchor="middle" fill="#2a2a2a">P</text>
<line x1="689.70" y1="338.80" x2="710.50" y2="327.30" stroke="#2a2a2a" stroke-width="1.25" stroke-linecap="round"/>
<line x1="685.20" y1="335.50" x2="685.20" y2="318.50" stroke="#2a2a2a" stroke-width="1.25" stroke-linecap="round"/>
<text x="685.20" y="316.70" font-size="9.2" text-anchor="middle" fill="#2a2a2a">O<tspan font-size="6" dy="-4">-</tspan></text>
<line x1="683.60" y1="346.50" x2="683.60" y2="364.50" stroke="#2a2a2a" stroke-width="1.25" stroke-linecap="round"/>
<line x1="686.80" y1="346.50" x2="686.80" y2="364.50" stroke="#2a2a2a" stroke-width="1.25" stroke-linecap="round"/>
<text x="685.20" y="373.80" font-size="9.2" text-anchor="middle" fill="#2a2a2a">O</text>
<circle cx="660.9000000000001" cy="384.8" r="9" fill="#f2b945"/>
<line x1="660.90" y1="327.30" x2="660.90" y2="377.30" stroke="#2a2a2a" stroke-width="1.25" stroke-linecap="round"/>
<text x="660.90" y="390.20" font-size="15" text-anchor="middle" fill="#14142e" stroke="#14142e" stroke-width="0.1">U</text>
<line x1="710.50" y1="327.30" x2="710.50" y2="365.30" stroke="#2a2a2a" stroke-width="1.25" stroke-linecap="round"/>
<line x1="710.50" y1="354.80" x2="732.80" y2="341.40" stroke="#2a2a2a" stroke-width="1.25" stroke-linecap="round"/>
<text x="736.80" y="342.00" font-size="9.5" text-anchor="middle" fill="#d9827a">O</text>
<line x1="736.80" y1="343.70" x2="736.80" y2="366.00" stroke="#d9827a" stroke-width="1.3" stroke-linecap="round"/>
<line x1="736.80" y1="366.00" x2="760.20" y2="380.70" stroke="#d9827a" stroke-width="1.3" stroke-linecap="round"/>
<line x1="759.00" y1="380.70" x2="759.00" y2="408.70" stroke="#d9827a" stroke-width="1.3" stroke-linecap="round"/>
<line x1="761.80" y1="382.30" x2="761.80" y2="408.70" stroke="#d9827a" stroke-width="1.3" stroke-linecap="round"/>
<rect x="699.80" y="366.70" width="22.4" height="29.6" rx="7" fill="#eba2ea"/>
<line x1="710.50" y1="327.30" x2="710.50" y2="372.70" stroke="#2a2a2a" stroke-width="1.25" stroke-linecap="round"/>
<text x="710.50" y="390.20" font-size="15" text-anchor="middle" fill="#14142e" stroke="#14142e" stroke-width="0.1">G</text>
<text x="719.20" y="381.30" font-size="11" text-anchor="middle" fill="#14142e" stroke="#14142e" stroke-width="0.3">*</text>
<text x="812" y="296.8" font-size="17" text-anchor="start" fill="#111" font-weight="normal" font-style="normal" textLength="58.7" lengthAdjust="spacingAndGlyphs" stroke="#111" stroke-width="0.15" >Oligo. 3</text>
<text x="818.2" y="350.2" font-size="22" text-anchor="middle" fill="#b3362f" font-weight="normal" font-style="normal" textLength="14.5" lengthAdjust="spacingAndGlyphs" stroke="#b3362f" stroke-width="0.3" >N</text>
<line x1="827.00" y1="335.70" x2="841.80" y2="327.00" stroke="#2a2a2a" stroke-width="1.25" stroke-linecap="round"/>
<line x1="841.80" y1="327.00" x2="841.80" y2="374.00" stroke="#2a2a2a" stroke-width="1.25" stroke-linecap="round"/>
<line x1="841.80" y1="354.50" x2="861.65" y2="343.70" stroke="#2a2a2a" stroke-width="1.25" stroke-linecap="round"/>
<text x="866.15" y="344.00" font-size="9.2" text-anchor="middle" fill="#2a2a2a">P</text>
<line x1="870.65" y1="338.50" x2="891.50" y2="327.00" stroke="#2a2a2a" stroke-width="1.25" stroke-linecap="round"/>
<line x1="866.15" y1="335.20" x2="866.15" y2="318.20" stroke="#2a2a2a" stroke-width="1.25" stroke-linecap="round"/>
<text x="866.15" y="316.40" font-size="9.2" text-anchor="middle" fill="#2a2a2a">O<tspan font-size="6" dy="-4">-</tspan></text>
<line x1="864.55" y1="346.20" x2="864.55" y2="364.20" stroke="#2a2a2a" stroke-width="1.25" stroke-linecap="round"/>
<line x1="867.75" y1="346.20" x2="867.75" y2="364.20" stroke="#2a2a2a" stroke-width="1.25" stroke-linecap="round"/>
<text x="866.15" y="373.50" font-size="9.2" text-anchor="middle" fill="#2a2a2a">O</text>
<circle cx="841.8" cy="384.5" r="9" fill="#acd967"/>
<line x1="841.80" y1="327.00" x2="841.80" y2="377.00" stroke="#2a2a2a" stroke-width="1.25" stroke-linecap="round"/>
<text x="841.80" y="389.90" font-size="15" text-anchor="middle" fill="#14142e" stroke="#14142e" stroke-width="0.1">C</text>
<line x1="891.50" y1="327.00" x2="891.50" y2="374.00" stroke="#2a2a2a" stroke-width="1.25" stroke-linecap="round"/>
<line x1="891.50" y1="354.50" x2="911.35" y2="343.70" stroke="#2a2a2a" stroke-width="1.25" stroke-linecap="round"/>
<text x="915.85" y="344.00" font-size="9.2" text-anchor="middle" fill="#2a2a2a">P</text>
<line x1="920.35" y1="338.50" x2="941.20" y2="327.00" stroke="#2a2a2a" stroke-width="1.25" stroke-linecap="round"/>
<line x1="915.85" y1="335.20" x2="915.85" y2="318.20" stroke="#2a2a2a" stroke-width="1.25" stroke-linecap="round"/>
<text x="915.85" y="316.40" font-size="9.2" text-anchor="middle" fill="#2a2a2a">O<tspan font-size="6" dy="-4">-</tspan></text>
<line x1="914.25" y1="346.20" x2="914.25" y2="364.20" stroke="#2a2a2a" stroke-width="1.25" stroke-linecap="round"/>
<line x1="917.45" y1="346.20" x2="917.45" y2="364.20" stroke="#2a2a2a" stroke-width="1.25" stroke-linecap="round"/>
<text x="915.85" y="373.50" font-size="9.2" text-anchor="middle" fill="#2a2a2a">O</text>
<circle cx="891.5" cy="384.5" r="9" fill="#acd967"/>
<line x1="891.50" y1="327.00" x2="891.50" y2="377.00" stroke="#2a2a2a" stroke-width="1.25" stroke-linecap="round"/>
<text x="891.50" y="389.90" font-size="15" text-anchor="middle" fill="#14142e" stroke="#14142e" stroke-width="0.1">C</text>
<line x1="941.20" y1="327.00" x2="941.20" y2="374.00" stroke="#2a2a2a" stroke-width="1.25" stroke-linecap="round"/>
<line x1="941.20" y1="354.50" x2="961.05" y2="343.70" stroke="#2a2a2a" stroke-width="1.25" stroke-linecap="round"/>
<text x="965.55" y="344.00" font-size="9.2" text-anchor="middle" fill="#2a2a2a">P</text>
<line x1="970.05" y1="338.50" x2="990.90" y2="327.00" stroke="#2a2a2a" stroke-width="1.25" stroke-linecap="round"/>
<line x1="965.55" y1="335.20" x2="965.55" y2="318.20" stroke="#2a2a2a" stroke-width="1.25" stroke-linecap="round"/>
<text x="965.55" y="316.40" font-size="9.2" text-anchor="middle" fill="#2a2a2a">O<tspan font-size="6" dy="-4">-</tspan></text>
<line x1="963.95" y1="346.20" x2="963.95" y2="364.20" stroke="#2a2a2a" stroke-width="1.25" stroke-linecap="round"/>
<line x1="967.15" y1="346.20" x2="967.15" y2="364.20" stroke="#2a2a2a" stroke-width="1.25" stroke-linecap="round"/>
<text x="965.55" y="373.50" font-size="9.2" text-anchor="middle" fill="#2a2a2a">O</text>
<circle cx="941.1999999999999" cy="384.5" r="9" fill="#a6dbef"/>
<line x1="941.20" y1="327.00" x2="941.20" y2="377.00" stroke="#2a2a2a" stroke-width="1.25" stroke-linecap="round"/>
<text x="941.20" y="389.90" font-size="15" text-anchor="middle" fill="#14142e" stroke="#14142e" stroke-width="0.1">A</text>
<line x1="990.90" y1="327.00" x2="990.90" y2="374.00" stroke="#2a2a2a" stroke-width="1.25" stroke-linecap="round"/>
<line x1="990.90" y1="354.50" x2="1010.75" y2="343.70" stroke="#2a2a2a" stroke-width="1.25" stroke-linecap="round"/>
<text x="1015.25" y="344.00" font-size="9.2" text-anchor="middle" fill="#2a2a2a">P</text>
<line x1="1019.75" y1="338.50" x2="1040.60" y2="327.00" stroke="#2a2a2a" stroke-width="1.25" stroke-linecap="round"/>
<line x1="1015.25" y1="335.20" x2="1015.25" y2="318.20" stroke="#2a2a2a" stroke-width="1.25" stroke-linecap="round"/>
<text x="1015.25" y="316.40" font-size="9.2" text-anchor="middle" fill="#2a2a2a">O<tspan font-size="6" dy="-4">-</tspan></text>
<line x1="1013.65" y1="346.20" x2="1013.65" y2="364.20" stroke="#2a2a2a" stroke-width="1.25" stroke-linecap="round"/>
<line x1="1016.85" y1="346.20" x2="1016.85" y2="364.20" stroke="#2a2a2a" stroke-width="1.25" stroke-linecap="round"/>
<text x="1015.25" y="373.50" font-size="9.2" text-anchor="middle" fill="#2a2a2a">O</text>
<circle cx="990.9" cy="384.5" r="9" fill="#a6dbef"/>
<line x1="990.90" y1="327.00" x2="990.90" y2="377.00" stroke="#2a2a2a" stroke-width="1.25" stroke-linecap="round"/>
<text x="990.90" y="389.90" font-size="15" text-anchor="middle" fill="#14142e" stroke="#14142e" stroke-width="0.1">A</text>
<line x1="1040.60" y1="327.00" x2="1040.60" y2="365.00" stroke="#2a2a2a" stroke-width="1.25" stroke-linecap="round"/>
<line x1="1040.60" y1="354.50" x2="1062.90" y2="341.10" stroke="#2a2a2a" stroke-width="1.25" stroke-linecap="round"/>
<text x="1066.90" y="341.70" font-size="9.5" text-anchor="middle" fill="#d9827a">O</text>
<line x1="1066.90" y1="343.40" x2="1066.90" y2="365.70" stroke="#d9827a" stroke-width="1.3" stroke-linecap="round"/>
<line x1="1066.90" y1="365.70" x2="1090.30" y2="380.40" stroke="#d9827a" stroke-width="1.3" stroke-linecap="round"/>
<line x1="1089.10" y1="380.40" x2="1089.10" y2="408.40" stroke="#d9827a" stroke-width="1.3" stroke-linecap="round"/>
<line x1="1091.90" y1="382.00" x2="1091.90" y2="408.40" stroke="#d9827a" stroke-width="1.3" stroke-linecap="round"/>
<rect x="1029.90" y="366.40" width="22.4" height="29.6" rx="7" fill="#f2b945"/>
<line x1="1040.60" y1="327.00" x2="1040.60" y2="372.40" stroke="#2a2a2a" stroke-width="1.25" stroke-linecap="round"/>
<text x="1040.60" y="389.90" font-size="15" text-anchor="middle" fill="#14142e" stroke="#14142e" stroke-width="0.1">U</text>
<text x="1049.30" y="381.00" font-size="11" text-anchor="middle" fill="#14142e" stroke="#14142e" stroke-width="0.3">*</text>
<text x="138.5" y="460.7" font-size="17" text-anchor="start" fill="#111" font-weight="normal" font-style="normal" textLength="60" lengthAdjust="spacingAndGlyphs" stroke="#111" stroke-width="0.15" >Oligo. 4</text>
<text x="143.39999999999998" y="516.5" font-size="22" text-anchor="middle" fill="#b3362f" font-weight="normal" font-style="normal" textLength="14.5" lengthAdjust="spacingAndGlyphs" stroke="#b3362f" stroke-width="0.3" >N</text>
<line x1="152.20" y1="502.00" x2="168.80" y2="493.30" stroke="#2a2a2a" stroke-width="1.25" stroke-linecap="round"/>
<line x1="168.80" y1="493.30" x2="168.80" y2="537.30" stroke="#2a2a2a" stroke-width="1.25" stroke-linecap="round"/>
<line x1="168.80" y1="520.80" x2="188.65" y2="510.00" stroke="#2a2a2a" stroke-width="1.25" stroke-linecap="round"/>
<text x="193.15" y="510.30" font-size="9.2" text-anchor="middle" fill="#2a2a2a">P</text>
<line x1="197.65" y1="504.80" x2="218.50" y2="493.30" stroke="#2a2a2a" stroke-width="1.25" stroke-linecap="round"/>
<line x1="193.15" y1="501.50" x2="193.15" y2="484.50" stroke="#2a2a2a" stroke-width="1.25" stroke-linecap="round"/>
<text x="193.15" y="482.70" font-size="9.2" text-anchor="middle" fill="#2a2a2a">O<tspan font-size="6" dy="-4">-</tspan></text>
<line x1="191.55" y1="512.50" x2="191.55" y2="530.50" stroke="#2a2a2a" stroke-width="1.25" stroke-linecap="round"/>
<line x1="194.75" y1="512.50" x2="194.75" y2="530.50" stroke="#2a2a2a" stroke-width="1.25" stroke-linecap="round"/>
<text x="193.15" y="539.80" font-size="9.2" text-anchor="middle" fill="#2a2a2a">O</text>
<rect x="158.30" y="537.70" width="21" height="27" rx="6.5" fill="#f2b945"/>
<line x1="168.80" y1="493.30" x2="168.80" y2="543.30" stroke="#2a2a2a" stroke-width="1.25" stroke-linecap="round"/>
<text x="165.50" y="555.10" font-size="16" text-anchor="middle" fill="#14142e" stroke="#14142e" stroke-width="0.3">U</text>
<text x="175.00" y="558.60" font-size="13" text-anchor="middle" fill="#14142e" stroke="#14142e" stroke-width="0.25">f</text>
<line x1="218.50" y1="493.30" x2="218.50" y2="540.30" stroke="#2a2a2a" stroke-width="1.25" stroke-linecap="round"/>
<line x1="218.50" y1="520.80" x2="238.35" y2="510.00" stroke="#2a2a2a" stroke-width="1.25" stroke-linecap="round"/>
<text x="242.85" y="510.30" font-size="9.2" text-anchor="middle" fill="#2a2a2a">P</text>
<line x1="247.35" y1="504.80" x2="268.20" y2="493.30" stroke="#2a2a2a" stroke-width="1.25" stroke-linecap="round"/>
<line x1="242.85" y1="501.50" x2="242.85" y2="484.50" stroke="#2a2a2a" stroke-width="1.25" stroke-linecap="round"/>
<text x="242.85" y="482.70" font-size="9.2" text-anchor="middle" fill="#2a2a2a">O<tspan font-size="6" dy="-4">-</tspan></text>
<line x1="241.25" y1="512.50" x2="241.25" y2="530.50" stroke="#2a2a2a" stroke-width="1.25" stroke-linecap="round"/>
<line x1="244.45" y1="512.50" x2="244.45" y2="530.50" stroke="#2a2a2a" stroke-width="1.25" stroke-linecap="round"/>
<text x="242.85" y="539.80" font-size="9.2" text-anchor="middle" fill="#2a2a2a">O</text>
<circle cx="218.5" cy="550.8" r="9" fill="#acd967"/>
<line x1="218.50" y1="493.30" x2="218.50" y2="543.30" stroke="#2a2a2a" stroke-width="1.25" stroke-linecap="round"/>
<text x="218.50" y="556.20" font-size="15" text-anchor="middle" fill="#14142e" stroke="#14142e" stroke-width="0.1">A</text>
<line x1="268.20" y1="493.30" x2="268.20" y2="537.30" stroke="#2a2a2a" stroke-width="1.25" stroke-linecap="round"/>
<line x1="268.20" y1="520.80" x2="288.05" y2="510.00" stroke="#2a2a2a" stroke-width="1.25" stroke-linecap="round"/>
<text x="292.55" y="510.30" font-size="9.2" text-anchor="middle" fill="#2a2a2a">P</text>
<line x1="297.05" y1="504.80" x2="317.90" y2="493.30" stroke="#2a2a2a" stroke-width="1.25" stroke-linecap="round"/>
<line x1="292.55" y1="501.50" x2="292.55" y2="484.50" stroke="#2a2a2a" stroke-width="1.25" stroke-linecap="round"/>
<text x="292.55" y="482.70" font-size="9.2" text-anchor="middle" fill="#2a2a2a">O<tspan font-size="6" dy="-4">-</tspan></text>
<line x1="290.95" y1="512.50" x2="290.95" y2="530.50" stroke="#2a2a2a" stroke-width="1.25" stroke-linecap="round"/>
<line x1="294.15" y1="512.50" x2="294.15" y2="530.50" stroke="#2a2a2a" stroke-width="1.25" stroke-linecap="round"/>
<text x="292.55" y="539.80" font-size="9.2" text-anchor="middle" fill="#2a2a2a">O</text>
<rect x="257.70" y="537.70" width="21" height="27" rx="6.5" fill="#f2b945"/>
<line x1="268.20" y1="493.30" x2="268.20" y2="543.30" stroke="#2a2a2a" stroke-width="1.25" stroke-linecap="round"/>
<text x="264.90" y="555.10" font-size="16" text-anchor="middle" fill="#14142e" stroke="#14142e" stroke-width="0.3">U</text>
<text x="274.40" y="558.60" font-size="13" text-anchor="middle" fill="#14142e" stroke="#14142e" stroke-width="0.25">f</text>
<line x1="317.90" y1="493.30" x2="317.90" y2="540.30" stroke="#2a2a2a" stroke-width="1.25" stroke-linecap="round"/>
<line x1="317.90" y1="520.80" x2="337.75" y2="510.00" stroke="#2a2a2a" stroke-width="1.25" stroke-linecap="round"/>
<text x="342.25" y="510.30" font-size="9.2" text-anchor="middle" fill="#2a2a2a">P</text>
<line x1="346.75" y1="504.80" x2="367.60" y2="493.30" stroke="#2a2a2a" stroke-width="1.25" stroke-linecap="round"/>
<line x1="342.25" y1="501.50" x2="342.25" y2="484.50" stroke="#2a2a2a" stroke-width="1.25" stroke-linecap="round"/>
<text x="342.25" y="482.70" font-size="9.2" text-anchor="middle" fill="#2a2a2a">O<tspan font-size="6" dy="-4">-</tspan></text>
<line x1="340.65" y1="512.50" x2="340.65" y2="530.50" stroke="#2a2a2a" stroke-width="1.25" stroke-linecap="round"/>
<line x1="343.85" y1="512.50" x2="343.85" y2="530.50" stroke="#2a2a2a" stroke-width="1.25" stroke-linecap="round"/>
<text x="342.25" y="539.80" font-size="9.2" text-anchor="middle" fill="#2a2a2a">O</text>
<circle cx="317.90000000000003" cy="550.8" r="9" fill="#a6dbef"/>
<line x1="317.90" y1="493.30" x2="317.90" y2="543.30" stroke="#2a2a2a" stroke-width="1.25" stroke-linecap="round"/>
<text x="317.90" y="556.20" font-size="15" text-anchor="middle" fill="#14142e" stroke="#14142e" stroke-width="0.1">A</text>
<line x1="367.60" y1="493.30" x2="367.60" y2="531.30" stroke="#2a2a2a" stroke-width="1.25" stroke-linecap="round"/>
<line x1="367.60" y1="520.80" x2="389.90" y2="507.40" stroke="#2a2a2a" stroke-width="1.25" stroke-linecap="round"/>
<text x="393.90" y="508.00" font-size="9.5" text-anchor="middle" fill="#d9827a">O</text>
<line x1="393.90" y1="509.70" x2="393.90" y2="532.00" stroke="#d9827a" stroke-width="1.3" stroke-linecap="round"/>
<line x1="393.90" y1="532.00" x2="417.30" y2="546.70" stroke="#d9827a" stroke-width="1.3" stroke-linecap="round"/>
<line x1="416.10" y1="546.70" x2="416.10" y2="574.70" stroke="#d9827a" stroke-width="1.3" stroke-linecap="round"/>
<line x1="418.90" y1="548.30" x2="418.90" y2="574.70" stroke="#d9827a" stroke-width="1.3" stroke-linecap="round"/>
<rect x="354.60" y="531.30" width="27" height="35" rx="7" fill="#f2b945"/>
<line x1="367.60" y1="493.30" x2="367.60" y2="537.30" stroke="#2a2a2a" stroke-width="1.25" stroke-linecap="round"/>
<text x="362.10" y="556.60" font-size="16" text-anchor="middle" fill="#14142e" stroke="#14142e" stroke-width="0.3">U</text>
<text x="371.80" y="560.30" font-size="13" text-anchor="middle" fill="#14142e" stroke="#14142e" stroke-width="0.25">f</text>
<text x="376.60" y="548.80" font-size="11" text-anchor="middle" fill="#14142e" stroke="#14142e" stroke-width="0.3">*</text>
<text x="481.5" y="460.3" font-size="17" text-anchor="start" fill="#111" font-weight="normal" font-style="normal" textLength="58.6" lengthAdjust="spacingAndGlyphs" stroke="#111" stroke-width="0.15" >Oligo. 5</text>
<text x="497.3" y="516.5" font-size="22" text-anchor="middle" fill="#b3362f" font-weight="normal" font-style="normal" textLength="14.5" lengthAdjust="spacingAndGlyphs" stroke="#b3362f" stroke-width="0.3" >N</text>
<line x1="506.10" y1="502.00" x2="520.90" y2="493.30" stroke="#2a2a2a" stroke-width="1.25" stroke-linecap="round"/>
<line x1="520.90" y1="493.30" x2="520.90" y2="537.30" stroke="#2a2a2a" stroke-width="1.25" stroke-linecap="round"/>
<line x1="520.90" y1="520.80" x2="540.75" y2="510.00" stroke="#2a2a2a" stroke-width="1.25" stroke-linecap="round"/>
<text x="545.25" y="510.30" font-size="9.2" text-anchor="middle" fill="#2a2a2a">P</text>
<line x1="549.75" y1="504.80" x2="570.60" y2="493.30" stroke="#2a2a2a" stroke-width="1.25" stroke-linecap="round"/>
<line x1="545.25" y1="501.50" x2="545.25" y2="484.50" stroke="#2a2a2a" stroke-width="1.25" stroke-linecap="round"/>
<text x="545.25" y="482.70" font-size="9.2" text-anchor="middle" fill="#2a2a2a">O<tspan font-size="6" dy="-4">-</tspan></text>
<line x1="543.65" y1="512.50" x2="543.65" y2="530.50" stroke="#2a2a2a" stroke-width="1.25" stroke-linecap="round"/>
<line x1="546.85" y1="512.50" x2="546.85" y2="530.50" stroke="#2a2a2a" stroke-width="1.25" stroke-linecap="round"/>
<text x="545.25" y="539.80" font-size="9.2" text-anchor="middle" fill="#2a2a2a">O</text>
<rect x="510.40" y="537.70" width="21" height="27" rx="6.5" fill="#f2b945"/>
<line x1="520.90" y1="493.30" x2="520.90" y2="543.30" stroke="#2a2a2a" stroke-width="1.25" stroke-linecap="round"/>
<text x="517.60" y="555.10" font-size="16" text-anchor="middle" fill="#14142e" stroke="#14142e" stroke-width="0.3">U</text>
<text x="527.10" y="558.60" font-size="13" text-anchor="middle" fill="#14142e" stroke="#14142e" stroke-width="0.25">f</text>
<line x1="570.60" y1="493.30" x2="570.60" y2="537.30" stroke="#2a2a2a" stroke-width="1.25" stroke-linecap="round"/>
<line x1="570.60" y1="520.80" x2="590.45" y2="510.00" stroke="#2a2a2a" stroke-width="1.25" stroke-linecap="round"/>
<text x="594.95" y="510.30" font-size="9.2" text-anchor="middle" fill="#2a2a2a">P</text>
<line x1="599.45" y1="504.80" x2="620.30" y2="493.30" stroke="#2a2a2a" stroke-width="1.25" stroke-linecap="round"/>
<line x1="594.95" y1="501.50" x2="594.95" y2="484.50" stroke="#2a2a2a" stroke-width="1.25" stroke-linecap="round"/>
<text x="594.95" y="482.70" font-size="9.2" text-anchor="middle" fill="#2a2a2a">O<tspan font-size="6" dy="-4">-</tspan></text>
<line x1="593.35" y1="512.50" x2="593.35" y2="530.50" stroke="#2a2a2a" stroke-width="1.25" stroke-linecap="round"/>
<line x1="596.55" y1="512.50" x2="596.55" y2="530.50" stroke="#2a2a2a" stroke-width="1.25" stroke-linecap="round"/>
<text x="594.95" y="539.80" font-size="9.2" text-anchor="middle" fill="#2a2a2a">O</text>
<rect x="555.60" y="540.00" width="30" height="23.5" rx="7" fill="#f2b945"/>
<line x1="570.60" y1="493.30" x2="570.60" y2="543.30" stroke="#2a2a2a" stroke-width="1.25" stroke-linecap="round"/>
<text x="565.10" y="555.60" font-size="16" text-anchor="middle" fill="#14142e" stroke="#14142e" stroke-width="0.3">U</text>
<text x="577.10" y="558.60" font-size="13" text-anchor="middle" fill="#14142e" stroke="#14142e" stroke-width="0.25">m</text>
<line x1="620.30" y1="493.30" x2="620.30" y2="537.30" stroke="#2a2a2a" stroke-width="1.25" stroke-linecap="round"/>
<line x1="620.30" y1="520.80" x2="640.15" y2="510.00" stroke="#2a2a2a" stroke-width="1.25" stroke-linecap="round"/>
<text x="644.65" y="510.30" font-size="9.2" text-anchor="middle" fill="#2a2a2a">P</text>
<line x1="649.15" y1="504.80" x2="670.00" y2="493.30" stroke="#2a2a2a" stroke-width="1.25" stroke-linecap="round"/>
<line x1="644.65" y1="501.50" x2="644.65" y2="484.50" stroke="#2a2a2a" stroke-width="1.25" stroke-linecap="round"/>
<text x="644.65" y="482.70" font-size="9.2" text-anchor="middle" fill="#2a2a2a">O<tspan font-size="6" dy="-4">-</tspan></text>
<line x1="643.05" y1="512.50" x2="643.05" y2="530.50" stroke="#2a2a2a" stroke-width="1.25" stroke-linecap="round"/>
<line x1="646.25" y1="512.50" x2="646.25" y2="530.50" stroke="#2a2a2a" stroke-width="1.25" stroke-linecap="round"/>
<text x="644.65" y="539.80" font-size="9.2" text-anchor="middle" fill="#2a2a2a">O</text>
<rect x="609.80" y="537.70" width="21" height="27" rx="6.5" fill="#f2b945"/>
<line x1="620.30" y1="493.30" x2="620.30" y2="543.30" stroke="#2a2a2a" stroke-width="1.25" stroke-linecap="round"/>
<text x="617.00" y="555.10" font-size="16" text-anchor="middle" fill="#14142e" stroke="#14142e" stroke-width="0.3">U</text>
<text x="626.50" y="558.60" font-size="13" text-anchor="middle" fill="#14142e" stroke="#14142e" stroke-width="0.25">f</text>
<line x1="670.00" y1="493.30" x2="670.00" y2="537.30" stroke="#2a2a2a" stroke-width="1.25" stroke-linecap="round"/>
<line x1="670.00" y1="520.80" x2="689.85" y2="510.00" stroke="#2a2a2a" stroke-width="1.25" stroke-linecap="round"/>
<text x="694.35" y="510.30" font-size="9.2" text-anchor="middle" fill="#2a2a2a">P</text>
<line x1="698.85" y1="504.80" x2="719.70" y2="493.30" stroke="#2a2a2a" stroke-width="1.25" stroke-linecap="round"/>
<line x1="694.35" y1="501.50" x2="694.35" y2="484.50" stroke="#2a2a2a" stroke-width="1.25" stroke-linecap="round"/>
<text x="694.35" y="482.70" font-size="9.2" text-anchor="middle" fill="#2a2a2a">O<tspan font-size="6" dy="-4">-</tspan></text>
<line x1="692.75" y1="512.50" x2="692.75" y2="530.50" stroke="#2a2a2a" stroke-width="1.25" stroke-linecap="round"/>
<line x1="695.95" y1="512.50" x2="695.95" y2="530.50" stroke="#2a2a2a" stroke-width="1.25" stroke-linecap="round"/>
<text x="694.35" y="539.80" font-size="9.2" text-anchor="middle" fill="#2a2a2a">O</text>
<rect x="655.00" y="540.00" width="30" height="23.5" rx="7" fill="#f2b945"/>
<line x1="670.00" y1="493.30" x2="670.00" y2="543.30" stroke="#2a2a2a" stroke-width="1.25" stroke-linecap="round"/>
<text x="664.50" y="555.60" font-size="16" text-anchor="middle" fill="#14142e" stroke="#14142e" stroke-width="0.3">U</text>
<text x="676.50" y="558.60" font-size="13" text-anchor="middle" fill="#14142e" stroke="#14142e" stroke-width="0.25">m</text>
<line x1="719.70" y1="493.30" x2="719.70" y2="531.30" stroke="#2a2a2a" stroke-width="1.25" stroke-linecap="round"/>
<line x1="719.70" y1="520.80" x2="742.00" y2="507.40" stroke="#2a2a2a" stroke-width="1.25" stroke-linecap="round"/>
<text x="746.00" y="508.00" font-size="9.5" text-anchor="middle" fill="#d9827a">O</text>
<line x1="746.00" y1="509.70" x2="746.00" y2="532.00" stroke="#d9827a" stroke-width="1.3" stroke-linecap="round"/>
<line x1="746.00" y1="532.00" x2="769.40" y2="546.70" stroke="#d9827a" stroke-width="1.3" stroke-linecap="round"/>
<line x1="768.20" y1="546.70" x2="768.20" y2="574.70" stroke="#d9827a" stroke-width="1.3" stroke-linecap="round"/>
<line x1="771.00" y1="548.30" x2="771.00" y2="574.70" stroke="#d9827a" stroke-width="1.3" stroke-linecap="round"/>
<rect x="706.70" y="531.30" width="27" height="35" rx="7" fill="#f2b945"/>
<line x1="719.70" y1="493.30" x2="719.70" y2="537.30" stroke="#2a2a2a" stroke-width="1.25" stroke-linecap="round"/>
<text x="714.20" y="556.60" font-size="16" text-anchor="middle" fill="#14142e" stroke="#14142e" stroke-width="0.3">U</text>
<text x="723.90" y="560.30" font-size="13" text-anchor="middle" fill="#14142e" stroke="#14142e" stroke-width="0.25">f</text>
<text x="728.70" y="548.80" font-size="11" text-anchor="middle" fill="#14142e" stroke="#14142e" stroke-width="0.3">*</text>
<text x="788.5" y="464.6" font-size="17" fill="#111" stroke="#111" stroke-width="0.15" textLength="320.5" lengthAdjust="spacingAndGlyphs"><tspan fill="#b83a38" stroke="#b83a38">N</tspan> = 5′-PO-ACAAGCACACUAAAUU ~16 nt</text>
<text x="839" y="506" font-size="17" text-anchor="start" fill="#111" font-weight="normal" font-style="normal" textLength="220.5" lengthAdjust="spacingAndGlyphs" stroke="#111" stroke-width="0.15" >All initiator bases: 2′-hydroxyl</text>
<text x="78" y="628" font-size="21" text-anchor="start" fill="#111" font-weight="bold" font-style="normal" stroke="#111" stroke-width="0.7" >c</text>
<polyline points="149.25,693.52 149.45,693.24 149.65,693.36 149.85,693.56 150.05,693.22 150.25,693.44 150.45,693.57 150.65,693.35 150.85,693.52 151.05,693.22 151.25,693.58 151.44,693.53 151.64,693.37 151.84,693.22 152.04,693.46 152.24,693.42 152.44,692.91 152.64,693.57 152.84,693.37 153.04,693.38 153.24,693.34 153.44,692.17 153.60,691.92 153.64,692.16 153.84,692.84 154.04,693.08 154.24,693.28 154.44,692.43 154.56,692.11 154.64,692.12 154.84,691.92 154.97,692.09 155.04,691.84 155.24,692.44 155.27,692.49 155.43,692.76 155.63,693.31 155.83,693.21 156.03,693.45 156.23,693.10 156.43,693.33 156.63,693.33 156.83,692.99 157.03,693.57 157.23,693.25 157.43,693.55 157.63,693.51 157.83,693.59 158.03,693.07 158.23,693.45 158.43,693.13 158.63,693.55 158.83,693.43 159.03,693.47 159.22,692.61 159.42,693.59 159.62,693.54 159.82,693.17 160.02,693.44 160.22,693.40 160.42,692.74 160.62,693.53 160.82,693.26 161.02,693.42 161.22,693.55 161.42,693.16 161.62,693.56 161.82,693.59 162.02,693.46 162.22,692.97 162.42,693.17 162.62,693.22 162.82,693.45 163.02,693.21 163.22,693.26 163.41,693.46 163.61,692.94 163.81,693.36 164.01,693.39 164.21,693.50 164.41,693.20 164.61,693.59 164.81,693.40 165.01,693.35 165.21,693.13 165.41,693.48 165.61,693.31 165.81,693.35 166.01,693.31 166.21,692.79 166.41,686.67 166.61,668.71 166.80,656.20 166.81,656.13 167.01,670.20 167.21,686.93 167.40,692.92 167.60,692.90 167.80,693.53 168.00,693.47 168.20,693.54 168.40,693.59 168.60,693.59 168.80,693.33 169.00,693.22 169.20,693.27 169.40,693.28 169.60,691.47 169.80,685.23 170.00,676.80 170.10,675.46 170.20,676.79 170.40,685.17 170.60,691.13 170.80,693.16 171.00,693.23 171.19,693.26 171.39,693.55 171.59,693.37 171.79,693.32 171.99,692.29 172.19,690.94 172.39,688.79 172.59,686.92 172.70,686.04 172.79,686.39 172.99,688.63 173.19,691.00 173.39,692.05 173.59,692.33 173.79,692.33 173.99,691.79 174.19,691.62 174.39,690.97 174.59,690.80 174.79,689.76 174.99,690.47 175.00,690.19 175.19,690.58 175.38,690.41 175.58,690.92 175.78,691.43 175.98,691.94 176.18,692.10 176.38,692.59 176.58,692.99 176.78,692.54 176.98,693.19 177.18,693.13 177.38,692.72 177.58,693.04 177.78,692.54 177.98,693.25 178.18,692.85 178.38,693.15 178.58,693.04 178.78,692.95 178.98,692.88 179.18,692.49 179.37,691.99 179.57,692.53 179.77,692.57 179.97,691.96 180.17,691.84 180.37,692.37 180.57,692.05 180.77,692.19 180.97,692.18 181.17,692.26 181.17,691.90 181.37,692.20 181.57,692.33 181.77,692.04 181.97,692.18 182.17,692.42 182.37,692.20 182.57,692.34 182.77,692.10 182.97,692.75 183.16,692.83 183.36,692.85 183.56,692.72 183.76,692.48 183.96,693.10 184.16,693.08 184.36,693.06 184.56,693.01 184.76,692.77 184.96,693.11 185.16,693.30 185.36,693.07 185.56,693.08 185.76,692.24 185.91,693.05 185.96,693.11 186.16,692.85 186.36,693.36 186.56,693.46 186.76,693.37 186.96,693.45 187.16,693.56 187.35,693.12 187.55,693.41 187.75,693.31 187.95,693.44 188.15,693.35 188.35,693.17 188.55,692.63 188.71,691.93 188.75,692.45 188.95,692.93 189.15,693.23 189.35,693.52 189.55,693.54 189.75,692.97 189.95,693.29 190.15,693.44 190.35,692.96 190.55,693.34 190.75,693.19 190.95,693.45 191.15,692.96 191.24,693.01 191.34,693.17 191.54,693.10 191.74,692.82 191.83,692.53 191.94,692.73 192.14,693.11 192.34,693.42 192.54,693.50 192.74,692.99 192.94,693.57 193.14,693.55 193.34,693.53 193.54,693.47 193.74,693.05 193.94,693.12 194.14,693.35 194.34,693.54 194.54,693.24 194.74,693.57 194.94,693.44 195.13,693.46 195.33,693.57 195.53,693.02 195.73,692.99 195.93,693.14 196.13,692.93 196.33,692.96 196.53,693.35 196.73,693.44 196.93,693.59 197.13,693.20 197.33,693.19 197.53,693.30 197.73,693.55 197.93,693.59 198.13,693.31 198.33,693.57 198.53,693.29 198.73,693.38 198.93,693.55 199.12,693.48 199.32,692.81 199.52,693.12 199.72,693.43 199.92,693.57 200.12,693.49 200.32,693.13 200.52,693.17 200.72,693.54 200.92,693.40 201.12,693.12 201.32,693.58 201.52,693.16 201.72,693.51 201.92,693.35 202.12,693.35 202.32,693.46 202.52,693.22 202.72,693.56 202.92,693.31 203.12,693.19 203.31,693.28 203.51,693.47 203.71,693.49 203.91,693.31 204.11,693.32 204.31,692.98 204.51,693.37 204.71,693.41 204.91,693.33 205.11,692.88 205.31,692.51 205.31,692.70 205.51,693.24 205.71,693.48 205.91,693.59 206.11,693.46 206.31,693.47 206.51,693.51 206.71,692.76 206.91,692.43 206.94,692.48 207.11,692.41 207.30,692.80 207.50,693.57 207.70,693.37 207.90,693.26 208.10,693.56 208.30,693.47 208.50,693.39 208.70,693.53 208.90,693.43 209.10,692.60 209.30,693.47 209.50,693.32 209.70,693.27 209.90,693.34 210.10,693.34 210.30,693.46 210.50,693.45 210.70,693.48 210.90,693.52 211.09,693.55 211.29,693.30 211.49,692.91 211.69,693.35 211.89,692.86 212.09,693.13 212.29,692.68 212.30,693.07 212.49,692.76 212.60,692.78 212.69,692.99 212.89,693.34 213.09,693.08 213.29,693.60 213.49,693.47 213.69,692.98 213.89,693.45 214.09,693.18 214.29,693.47 214.49,693.37 214.69,693.29 214.89,693.35 215.09,693.41 215.28,693.60 215.48,693.52 215.68,693.38 215.88,693.31 216.08,693.49 216.28,693.55 216.48,693.48 216.68,693.45 216.88,693.41 217.08,693.41 217.28,693.43 217.48,693.29 217.68,693.21 217.88,693.32 218.08,693.60 218.28,693.56 218.48,693.19 218.68,693.53 218.88,693.38 219.07,693.30 219.27,693.38 219.47,693.08 219.67,693.57 219.87,693.19 220.07,693.35 220.27,693.57 220.47,693.22 220.67,693.36 220.87,692.95 221.07,693.17 221.27,693.52 221.47,693.10 221.67,693.47 221.87,693.56 222.07,692.88 222.27,693.55 222.47,693.28 222.67,693.10 222.87,693.38 223.06,693.40 223.26,693.36 223.46,692.96 223.66,693.22 223.86,693.21 224.06,693.56 224.26,693.13 224.46,693.14 224.66,693.01 224.86,693.16 225.06,693.49 225.26,693.48 225.46,693.36 225.66,693.51 225.86,693.15 226.06,693.59 226.26,693.49 226.46,693.37 226.66,693.09 226.86,693.36 227.06,693.26 227.25,693.31 227.45,693.11 227.65,692.65 227.85,693.35 228.05,693.42 228.25,693.14 228.45,693.52 228.65,692.83 228.85,693.41 229.05,693.55" fill="none" stroke="#6a6a55" stroke-width="1.2" stroke-linejoin="round"/>
<polyline points="149.25,756.30 149.45,756.41 149.65,755.78 149.85,756.28 150.05,756.61 150.25,756.19 150.45,756.63 150.65,756.31 150.85,756.62 151.05,756.44 151.25,756.40 151.44,756.51 151.64,756.37 151.84,756.50 152.04,756.02 152.24,756.51 152.44,756.16 152.64,756.69 152.84,756.35 153.04,756.21 153.24,756.58 153.44,756.42 153.64,755.65 153.84,756.62 154.04,756.57 154.24,756.58 154.44,756.39 154.64,756.05 154.84,756.45 155.04,756.54 155.24,756.69 155.43,756.54 155.63,756.49 155.83,756.41 156.03,756.57 156.23,755.79 156.43,756.27 156.63,756.36 156.83,756.50 157.03,756.43 157.23,756.47 157.43,755.80 157.63,756.07 157.83,756.37 158.03,756.28 158.23,756.62 158.43,756.38 158.63,756.11 158.83,755.73 159.03,756.14 159.22,755.98 159.42,756.58 159.62,756.36 159.82,756.65 160.02,756.60 160.22,756.46 160.42,756.42 160.62,756.07 160.82,756.60 161.02,756.61 161.22,756.44 161.42,756.68 161.62,756.30 161.82,756.61 162.02,756.14 162.22,756.21 162.42,756.39 162.62,756.43 162.82,756.22 163.02,756.61 163.22,756.63 163.41,755.97 163.61,756.08 163.81,756.26 164.01,756.24 164.21,756.16 164.41,756.38 164.61,756.65 164.81,756.49 165.01,756.37 165.21,756.31 165.41,756.41 165.61,756.53 165.81,756.53 166.01,756.31 166.21,756.47 166.41,756.45 166.61,756.68 166.81,756.36 167.01,756.61 167.21,756.33 167.40,756.41 167.60,756.13 167.80,756.63 168.00,756.60 168.20,756.58 168.40,756.44 168.60,756.64 168.80,756.17 169.00,756.34 169.20,755.41 169.40,756.63 169.60,755.37 169.80,756.12 170.00,756.65 170.20,756.21 170.40,756.70 170.60,756.10 170.80,756.13 171.00,756.13 171.19,756.61 171.39,756.36 171.59,756.21 171.79,756.44 171.99,756.58 172.19,756.69 172.39,756.38 172.59,755.94 172.72,755.78 172.79,755.56 172.99,756.06 173.19,755.61 173.32,755.11 173.39,754.72 173.42,754.55 173.59,755.43 173.79,755.07 173.89,754.57 173.99,755.19 174.19,755.41 174.39,755.97 174.59,756.53 174.79,756.21 174.99,756.48 175.19,756.57 175.38,756.63 175.58,756.22 175.78,756.43 175.98,756.62 176.18,756.52 176.38,756.56 176.58,756.29 176.78,755.69 176.98,756.58 177.18,756.41 177.38,756.46 177.58,756.27 177.78,756.66 177.98,756.02 178.18,756.62 178.38,756.39 178.58,756.47 178.78,756.34 178.98,756.13 179.18,756.21 179.37,756.65 179.57,756.26 179.77,756.42 179.97,756.54 180.17,756.12 180.37,756.37 180.57,756.54 180.77,755.97 180.97,755.95 181.17,756.03 181.37,756.35 181.57,756.49 181.77,756.15 181.97,756.31 182.17,756.38 182.37,756.69 182.57,756.25 182.77,756.53 182.97,756.54 183.16,755.93 183.36,756.28 183.56,755.98 183.76,755.82 183.96,756.66 184.16,756.61 184.36,756.28 184.56,756.04 184.76,756.61 184.96,756.18 185.16,756.39 185.36,756.31 185.56,756.59 185.76,756.36 185.96,756.19 186.16,756.62 186.36,755.92 186.56,756.47 186.76,755.92 186.96,756.35 187.16,756.61 187.35,756.39 187.55,756.35 187.75,756.68 187.95,756.09 188.15,756.40 188.35,756.18 188.55,756.41 188.75,756.62 188.95,756.52 189.15,755.73 189.35,755.46 189.55,756.42 189.75,756.33 189.95,756.53 190.15,756.62 190.35,755.63 190.55,755.88 190.75,756.56 190.95,756.51 191.15,756.61 191.34,756.39 191.54,756.37 191.74,756.10 191.94,756.19 192.14,756.49 192.34,756.27 192.54,756.34 192.74,755.98 192.94,756.47 193.14,756.25 193.34,756.39 193.54,756.63 193.74,756.36 193.94,756.30 194.14,756.39 194.34,756.57 194.54,756.26 194.74,755.91 194.94,756.68 195.13,756.47 195.33,756.59 195.53,756.60 195.73,756.66 195.93,755.93 196.13,756.18 196.33,756.47 196.53,756.21 196.73,756.24 196.93,756.65 197.13,756.44 197.33,755.68 197.53,756.56 197.73,756.21 197.93,756.31 198.13,756.60 198.33,756.68 198.53,756.04 198.73,756.64 198.93,755.82 199.12,756.60 199.32,756.08 199.52,756.15 199.72,756.32 199.92,756.07 200.12,756.61 200.32,756.20 200.52,756.66 200.72,756.48 200.92,755.79 201.12,756.21 201.32,756.03 201.52,755.63 201.72,756.58 201.92,756.62 202.12,756.09 202.32,755.93 202.52,756.18 202.72,756.03 202.92,756.21 203.12,756.67 203.31,756.40 203.51,756.68 203.71,756.10 203.91,756.41 204.11,755.94 204.31,756.30 204.51,756.23 204.71,756.38 204.91,756.56 205.11,756.24 205.31,756.50 205.51,756.37 205.71,755.57 205.91,756.67 206.11,756.68 206.31,755.85 206.51,756.62 206.71,756.29 206.91,756.07 207.11,756.03 207.30,756.64 207.50,756.52 207.70,756.39 207.90,756.59 208.10,756.70 208.30,756.04 208.50,756.34 208.70,756.35 208.90,756.03 209.10,756.60 209.30,756.25 209.50,756.34 209.70,755.99 209.90,756.54 210.10,756.52 210.30,756.47 210.50,756.32 210.70,756.33 210.90,756.62 211.09,756.13 211.29,756.66 211.49,756.28 211.69,756.60 211.89,756.11 212.09,756.14 212.15,755.37 212.29,756.04 212.49,756.40 212.69,756.09 212.89,756.14 213.09,756.64 213.29,756.53 213.49,756.35 213.69,755.41 213.78,754.92 213.86,754.77 213.89,754.69 214.09,755.96 214.29,756.28 214.49,756.59 214.69,756.53 214.89,756.40 215.09,756.37 215.28,755.82 215.48,756.33 215.68,755.68 215.79,755.07 215.88,755.69 216.08,756.14 216.28,756.37 216.48,756.61 216.68,756.51 216.88,755.58 217.08,756.07 217.28,756.16 217.48,756.39 217.68,756.41 217.88,756.62 218.08,756.54 218.28,756.44 218.48,756.63 218.68,756.35 218.88,756.57 219.07,755.90 219.27,756.08 219.47,756.10 219.67,756.47 219.87,756.34 220.07,756.53 220.27,756.43 220.47,756.51 220.67,756.45 220.87,756.07 221.07,756.40 221.27,756.40 221.47,756.61 221.67,756.39 221.87,756.47 222.07,756.11 222.27,756.02 222.47,756.21 222.67,756.19 222.87,755.93 223.06,756.22 223.26,756.46 223.46,756.30 223.66,755.68 223.86,756.66 224.06,755.95 224.26,755.98 224.46,755.93 224.66,756.67 224.86,755.45 225.06,756.54 225.26,756.09 225.46,756.49 225.66,756.32 225.86,756.48 226.06,756.53 226.26,756.29 226.46,756.59 226.66,755.76 226.86,756.56 227.06,756.25 227.25,755.65 227.45,756.63 227.65,756.62 227.85,756.45 228.05,756.36 228.25,755.89 228.45,756.24 228.65,756.67 228.85,756.22 229.05,756.38 229.25,756.61 229.45,756.48 229.65,756.31 229.85,756.56 230.05,756.07 230.25,756.47 230.45,756.38 230.65,756.52 230.85,756.61 231.05,756.51 231.24,756.46 231.44,756.70 231.64,756.23 231.84,756.70 232.04,756.29 232.24,756.69 232.44,756.37 232.64,756.39 232.84,756.44 233.04,756.16 233.24,756.15 233.44,756.47 233.64,756.61 233.84,756.42 234.04,756.32 234.24,756.66 234.44,756.46 234.64,755.84 234.84,756.57 235.04,756.30 235.23,756.05 235.43,756.35 235.63,756.41 235.83,756.25 236.03,756.69 236.23,756.08 236.43,756.60 236.63,756.35 236.83,755.92 237.03,756.21 237.23,756.36 237.43,755.43 237.63,756.39 237.83,755.84 238.03,756.64 238.23,756.26 238.43,756.57 238.63,756.56 238.83,756.68 239.03,755.56 239.22,755.77 239.42,755.97 239.62,755.94 239.82,756.27 240.02,755.80 240.22,756.36 240.42,756.52 240.62,756.68 240.82,756.64 241.02,756.37 241.22,756.44 241.42,756.58 241.62,756.48 241.82,756.60 242.02,756.53 242.22,756.06 242.42,756.58 242.62,755.78 242.82,756.40 243.01,756.67 243.21,756.18 243.41,756.47 243.61,756.61 243.81,756.54 244.01,756.70 244.21,756.39 244.41,755.74 244.61,756.46 244.81,756.21 245.01,756.32 245.21,755.86 245.41,756.37 245.61,756.30 245.81,756.55 246.01,756.54 246.21,756.46 246.41,756.50 246.61,756.40 246.81,756.60 247.00,756.24 247.20,756.27 247.40,756.09 247.60,755.94 247.80,756.59 248.00,756.18 248.20,756.47 248.40,756.57 248.60,756.05 248.80,756.19 249.00,756.48 249.20,756.48 249.40,756.43 249.60,756.44 249.80,756.27 250.00,756.50 250.20,756.05 250.40,756.22 250.60,756.48 250.80,756.16 251.00,756.34 251.19,756.60 251.39,756.28 251.59,754.80 251.60,756.02 251.79,755.50 251.99,755.64 252.07,754.95 252.19,754.56 252.36,754.76 252.39,754.85 252.59,755.71 252.79,755.89 252.99,755.52 253.14,754.93 253.19,754.98 253.39,756.12 253.59,756.17 253.79,755.96 253.99,756.47 254.19,756.32 254.39,755.93 254.59,756.60 254.79,756.63 254.99,756.63 255.18,756.50 255.38,756.33 255.58,756.27 255.78,756.26 255.98,755.66 256.18,755.75 256.38,756.57 256.58,756.34 256.78,756.62 256.98,756.49 257.18,755.89 257.38,756.59 257.58,756.35 257.78,756.22 257.98,756.36 258.18,756.30 258.38,756.46 258.58,756.61 258.78,756.21 258.98,756.58 259.17,756.51 259.37,756.59 259.57,756.36 259.77,756.44 259.97,756.53 260.17,756.42 260.37,756.22 260.57,756.27 260.77,756.36 260.97,756.43 261.17,756.56 261.37,756.60 261.57,756.01 261.77,756.59 261.97,756.22 262.17,756.30 262.37,756.58 262.57,756.36 262.77,756.64 262.97,756.51 263.16,756.22 263.36,756.52 263.56,756.23 263.76,756.35 263.96,756.53 264.16,756.41 264.36,756.16 264.56,756.50 264.76,756.45 264.96,756.21 265.16,756.26 265.36,756.19 265.56,756.25 265.76,756.59 265.96,756.41 266.16,756.50 266.36,756.38 266.56,755.79 266.76,756.63 266.96,756.57 267.15,756.33 267.35,756.55 267.55,756.39 267.75,756.63 267.95,756.29 268.15,756.26 268.35,756.53 268.55,756.66 268.75,756.63 268.95,756.49 269.15,756.58 269.35,756.34 269.55,756.20 269.75,756.58 269.95,756.58 270.15,755.85 270.35,756.18 270.55,756.38 270.75,756.28 270.94,756.39 271.14,755.75 271.34,756.48 271.54,756.39 271.74,755.70 271.94,756.47 272.14,756.50 272.34,756.03 272.54,756.28 272.74,756.27 272.94,756.54 273.14,756.18 273.34,756.67 273.54,756.39 273.74,756.08 273.94,756.45 274.14,756.30 274.34,756.22 274.54,756.33 274.74,756.40 274.94,756.26 275.13,756.62 275.33,756.27 275.53,756.63 275.73,756.63 275.93,756.39 276.13,755.89 276.33,756.53 276.53,755.78 276.73,756.12 276.93,756.63 277.13,756.57 277.33,756.58 277.53,756.26 277.73,756.49 277.93,756.68 278.13,756.16 278.33,756.66 278.53,756.58 278.73,756.12 278.93,756.49 279.12,756.00 279.32,756.68 279.52,756.60 279.72,756.47 279.92,756.67 280.12,756.45 280.32,756.39 280.52,756.09 280.72,756.55 280.92,756.05 281.12,755.84 281.32,756.24 281.52,756.36 281.72,756.13 281.92,756.35 282.12,756.47 282.32,756.61 282.52,756.45 282.72,756.09 282.92,755.63 283.11,756.52 283.31,756.45 283.51,756.38 283.71,756.16 283.91,756.41 284.11,756.08 284.31,756.21 284.51,755.99 284.71,755.87 284.91,756.17 285.11,756.09 285.31,756.27 285.51,756.37 285.71,756.60 285.91,756.68 286.11,756.24 286.31,755.98 286.51,756.03 286.71,756.67 286.90,755.99 287.10,756.70 287.30,756.58 287.50,756.56 287.70,756.10 287.90,756.55 288.10,756.27 288.30,756.52 288.50,756.63 288.70,756.44 288.90,756.12 289.10,756.53 289.30,755.88 289.50,756.52 289.70,756.53 289.90,756.37 290.10,756.59 290.30,756.63 290.50,756.68 290.70,755.91 290.89,756.34 291.09,756.42 291.29,756.52 291.49,756.58 291.69,756.56 291.89,756.60 292.09,756.67 292.29,756.41 292.49,756.24 292.69,756.68 292.89,756.33 293.09,756.70 293.29,756.61 293.49,756.58 293.69,756.14 293.89,756.46 294.09,754.99 294.23,754.87 294.29,755.17 294.49,755.94 294.69,756.24 294.88,756.59 295.08,756.12 295.28,756.60 295.48,756.22 295.68,756.65 295.88,755.68 296.08,756.27 296.28,756.37 296.48,755.13 296.68,754.58 296.68,754.38 296.88,755.42 297.08,755.35 297.28,753.29 297.34,753.67 297.48,753.53 297.68,753.78 297.82,752.96 297.88,753.34 298.08,755.12 298.28,756.42 298.48,756.38 298.68,756.53 298.88,756.56 299.07,755.96 299.27,755.90 299.47,756.45 299.67,756.62 299.87,756.63 300.07,756.42 300.27,755.88 300.47,756.14 300.67,756.60 300.87,756.08 301.07,756.41 301.27,756.69 301.47,755.99 301.67,756.12 301.87,756.05 302.07,756.06 302.27,756.54 302.47,756.18 302.67,756.51 302.87,755.62 303.06,756.43 303.26,756.69 303.46,756.23 303.66,755.74 303.86,756.67 304.06,756.69 304.26,756.05 304.46,756.48 304.66,756.64 304.86,756.19 305.06,756.34 305.26,755.59 305.46,756.37 305.66,756.26 305.86,756.61 306.06,756.13 306.26,756.19 306.46,756.56 306.66,756.30 306.86,756.58 307.05,756.30 307.25,756.30 307.45,756.17 307.65,756.43 307.85,756.33 308.05,755.36 308.25,756.69 308.45,756.54 308.65,756.27 308.85,756.20 309.05,756.39 309.25,756.16 309.45,756.33 309.65,756.50 309.85,755.76 310.05,756.38 310.25,756.11 310.45,756.60 310.65,756.62 310.85,756.49 311.04,756.64 311.24,756.30 311.44,756.55 311.64,756.12 311.84,756.25 312.04,756.33 312.24,755.93 312.44,756.62 312.64,756.54 312.84,756.33 313.04,756.43 313.24,756.27 313.44,756.46 313.64,756.63 313.84,756.65 314.04,756.18 314.24,756.60 314.44,756.67 314.64,756.56 314.84,756.45 315.03,756.25 315.23,755.74 315.43,755.98 315.63,756.25 315.83,756.25 316.03,756.42 316.23,756.55 316.43,756.49 316.63,756.52 316.83,756.42 317.03,755.90 317.23,756.04 317.43,756.40 317.63,756.34 317.83,756.62 318.03,756.11 318.23,756.69 318.43,756.65 318.63,755.83 318.83,756.42 319.02,756.67 319.22,756.66 319.42,755.88 319.62,756.64 319.82,756.38 320.02,756.42 320.22,756.53 320.42,756.31 320.62,756.25 320.82,756.43 321.02,756.68 321.22,756.28 321.42,756.42 321.62,756.52 321.82,756.48 322.02,756.48 322.22,756.04 322.42,755.93 322.62,756.31 322.81,756.10 323.01,756.17 323.21,756.49 323.41,756.47 323.61,756.69 323.81,756.68 324.01,756.02 324.21,756.31 324.41,756.61 324.61,756.43 324.81,756.02 325.01,756.18 325.21,755.78 325.41,756.64 325.61,756.50 325.81,756.15 326.01,756.47 326.21,756.66 326.41,756.43 326.61,756.63 326.81,756.39 327.00,755.83 327.20,755.60 327.40,756.37 327.60,756.47 327.80,756.60 328.00,756.52 328.20,756.68 328.40,756.50 328.60,756.19 328.80,756.59 329.00,756.35 329.20,755.77 329.40,756.54 329.60,756.58 329.80,756.25 330.00,756.28 330.20,756.28 330.40,756.41 330.60,756.63 330.80,756.30 330.99,756.60 331.19,756.65 331.39,756.45 331.59,756.62 331.79,756.08 331.99,756.16 332.19,756.09 332.39,756.16 332.59,756.01 332.79,756.13 332.99,755.86 333.19,756.48 333.39,756.66 333.59,756.08 333.79,756.23 333.99,755.69 334.19,756.67 334.39,755.60 334.59,756.53 334.78,756.38 334.98,756.42 335.18,756.00 335.38,756.51 335.58,756.51 335.78,756.16 335.98,756.62 336.18,756.69 336.38,756.24 336.58,756.15 336.78,756.21 336.98,756.08 337.18,755.75 337.38,753.74 337.58,749.85 337.75,748.62 337.78,748.38 337.98,751.55 338.18,754.48 338.38,756.19 338.58,756.46 338.77,756.65 338.97,756.29 339.17,755.83 339.37,756.18 339.57,756.00 339.77,756.48 339.97,756.32 340.17,755.22 340.37,752.98 340.57,747.68 340.75,744.96 340.77,744.51 340.97,748.77 341.17,754.11 341.37,755.96 341.57,756.56 341.77,756.50 341.97,756.37 342.17,755.80 342.37,755.01 342.57,754.14 342.76,753.13 342.96,752.36 343.00,752.12 343.16,752.73 343.36,753.90 343.56,754.98 343.76,755.42 343.96,756.30 344.16,755.98 344.36,756.51 344.56,756.36 344.76,756.37 344.96,756.67 345.16,756.38 345.36,756.63 345.56,756.09 345.76,755.86 345.96,754.03 346.05,753.34 346.16,753.56 346.36,755.75 346.56,755.93 346.75,755.36 346.93,754.42 346.95,754.38 347.15,753.64 347.25,753.33 347.35,754.31 347.55,755.65 347.75,756.17 347.95,754.60 348.09,753.92 348.15,754.01 348.35,755.48 348.55,755.93 348.75,756.41 348.95,756.67 349.15,756.13 349.35,756.53 349.55,756.43 349.75,755.97 349.95,755.82 350.15,755.93 350.35,756.35 350.55,756.58 350.75,756.47 350.94,756.40 351.14,756.47 351.34,756.65 351.54,756.68 351.74,756.09 351.94,756.38 352.14,756.55 352.34,756.45 352.54,755.90 352.74,756.69 352.94,756.42 353.14,756.43 353.34,756.50 353.54,756.41 353.74,756.66 353.94,756.36 354.14,756.64 354.34,756.16 354.54,756.55 354.74,756.34 354.93,756.25 355.13,756.44 355.33,756.28 355.53,756.06 355.73,756.42 355.93,756.67 356.13,756.57 356.33,756.35 356.53,756.21 356.73,756.45 356.93,756.35 357.13,756.52 357.33,756.65 357.53,756.68 357.73,755.86 357.93,756.29 358.13,756.51 358.33,756.65 358.53,756.42 358.73,756.25 358.92,756.07 359.12,756.58 359.32,756.53 359.52,756.44 359.72,756.41 359.92,756.03 360.12,756.22 360.32,756.65 360.52,755.77 360.72,756.53 360.92,755.75 361.12,756.65 361.32,756.61 361.52,756.55 361.72,756.60 361.92,756.47 362.12,755.97 362.32,756.63 362.52,756.56 362.72,756.41 362.91,756.67 363.11,756.57 363.31,755.81 363.51,756.34 363.71,756.33 363.91,756.59 364.11,755.98 364.31,756.69 364.51,756.45 364.71,755.77 364.91,756.16 365.11,756.47 365.31,756.46 365.51,756.23 365.71,756.69 365.91,756.34 366.11,756.69 366.31,756.60 366.51,756.37 366.71,756.39 366.90,756.58 367.10,756.62 367.30,756.64 367.50,756.41 367.70,756.53 367.90,756.37 368.10,756.07 368.30,756.53 368.50,756.42 368.70,756.64 368.90,756.29 369.10,756.57 369.30,756.22 369.50,756.62 369.70,756.28 369.90,755.87 370.10,756.32 370.30,756.58 370.50,756.42 370.70,756.54 370.89,756.20 371.09,756.24 371.29,756.24 371.49,756.18 371.69,756.51 371.89,756.07 372.09,756.33 372.29,756.00 372.49,755.96 372.69,756.29 372.89,756.12 373.09,756.58 373.29,756.27 373.49,756.64 373.69,756.05 373.89,756.60 374.09,756.67 374.29,756.19 374.49,755.79 374.69,756.34 374.88,756.24 375.08,756.31 375.28,756.66 375.48,756.67 375.68,756.50 375.88,756.01 376.08,756.26 376.28,756.07 376.48,756.62 376.68,756.63 376.88,756.36 377.08,756.64 377.28,756.11 377.48,756.63 377.68,755.83 377.88,756.29 378.08,756.18 378.28,756.29 378.48,756.39 378.68,756.12 378.87,756.42 379.07,756.53 379.27,755.96 379.47,756.06 379.67,756.58 379.87,756.15 380.07,756.35 380.27,756.63 380.47,756.68 380.67,756.37 380.87,756.56 381.07,756.04 381.27,756.48 381.47,754.82 381.67,745.77 381.87,726.26 382.00,719.13 382.07,721.30 382.27,739.54 382.47,753.03 382.67,756.09 382.86,755.83 383.06,756.63 383.26,756.47 383.46,756.62 383.66,756.36 383.86,756.22 384.06,755.90 384.26,754.47 384.46,750.55 384.66,746.40 384.80,745.02 384.86,745.19 385.06,748.40 385.26,753.12 385.46,755.47 385.66,756.34 385.86,755.47 386.06,756.26 386.26,755.82 386.46,754.66 386.65,753.08 386.85,751.37 387.00,751.60 387.05,751.42 387.25,752.35 387.45,753.46 387.65,755.24 387.85,755.71 388.05,756.53 388.25,756.54 388.45,756.53 388.65,756.07 388.85,756.56 389.05,756.63 389.25,756.07 389.45,756.36 389.65,756.33 389.85,756.30 390.05,756.38 390.25,756.53 390.45,756.45 390.64,755.98 390.84,754.55 391.03,753.46 391.04,753.63 391.24,755.14 391.44,756.21 391.64,756.31 391.84,756.24 392.04,756.31 392.24,756.63 392.44,755.70 392.64,756.69 392.84,756.49 393.04,756.63 393.24,756.37 393.44,754.59 393.64,751.62 393.69,751.59 393.75,751.64 393.84,751.96 394.04,755.53 394.24,756.59 394.44,756.26 394.63,756.27 394.83,755.69 395.03,755.14 395.07,754.75 395.23,755.66 395.43,756.55 395.63,756.42 395.83,755.85 396.03,756.16 396.23,756.61 396.43,756.54 396.63,756.58 396.83,756.17 397.03,756.35 397.23,756.62 397.43,756.58 397.63,755.89 397.83,756.65 398.03,756.32 398.23,756.68 398.43,756.51 398.62,756.65 398.82,756.60 399.02,756.49 399.22,756.69 399.42,755.96 399.62,755.64 399.82,756.07 400.02,756.57 400.22,755.96 400.42,756.25 400.62,755.88 400.82,756.54 401.02,756.61 401.22,756.55 401.42,756.41 401.62,756.47 401.82,756.65 402.02,755.80 402.22,756.55 402.42,756.44 402.62,755.93 402.81,756.29 403.01,755.85 403.21,755.56 403.41,756.61 403.61,756.08 403.81,756.39 404.01,756.39 404.21,756.43 404.41,756.53 404.61,756.40 404.81,756.32 405.01,756.05 405.21,756.64 405.41,756.35 405.61,755.95 405.81,756.24 406.01,756.58 406.21,756.60 406.41,756.04 406.61,756.47 406.80,755.81 407.00,756.53 407.20,756.27 407.40,756.14 407.60,755.99 407.80,756.08 408.00,756.47 408.20,756.25 408.40,756.62 408.60,756.43 408.80,756.45 409.00,756.70 409.20,755.77 409.40,755.95 409.60,756.64 409.80,756.09 410.00,756.12 410.20,756.35 410.40,756.11 410.60,756.19 410.79,756.15 410.99,756.58 411.19,756.01 411.39,756.33 411.59,756.39 411.79,756.62 411.99,756.03 412.19,756.28 412.39,756.21 412.59,756.41 412.79,756.59 412.99,756.25 413.19,755.81 413.39,756.68 413.59,755.94 413.79,756.48 413.99,756.22 414.19,756.59 414.39,756.55 414.59,756.18 414.78,756.47 414.98,756.58 415.18,756.53 415.38,756.69 415.58,756.66 415.78,756.61 415.98,756.36 416.18,756.25 416.38,755.74 416.58,756.59 416.78,756.20 416.98,756.18 417.18,756.62 417.38,755.63 417.58,756.42 417.78,756.25 417.98,756.59 418.18,756.06 418.38,756.59 418.57,755.88 418.77,756.54 418.97,756.29 419.17,756.41 419.37,756.57 419.57,756.46 419.77,756.41 419.97,756.15 420.17,756.35 420.37,756.25 420.57,756.49 420.77,756.50 420.97,756.30 421.17,756.02 421.37,756.23 421.57,756.30 421.77,756.39 421.97,756.37 422.17,756.10 422.37,756.61 422.56,756.58 422.76,756.58 422.96,756.70 423.16,756.10 423.36,756.02 423.56,756.50 423.76,755.92 423.96,756.36 424.16,756.15 424.36,754.97 424.42,755.37 424.56,755.10 424.76,754.15 424.85,752.95 424.96,752.30 424.96,752.43 425.00,752.45 425.16,753.19 425.36,753.86 425.50,753.68 425.56,754.20 425.76,754.12 425.96,754.82 426.16,755.15 426.36,755.89 426.56,755.68 426.75,755.77 426.95,756.47 427.15,756.66 427.35,756.66 427.55,756.26 427.75,756.09 427.95,756.63 428.15,755.69 428.35,756.30 428.55,756.44 428.75,756.01 428.95,756.11 429.15,756.55 429.35,755.96 429.55,756.37 429.75,756.61 429.95,756.43 430.15,756.67 430.35,756.51 430.55,756.45 430.74,756.51 430.94,756.64 431.14,756.37 431.34,756.44 431.54,756.34 431.74,756.50 431.94,756.18 432.14,756.27 432.34,756.38 432.54,755.68 432.74,756.55 432.94,756.39 433.14,756.13 433.34,756.66 433.54,756.65 433.74,756.35 433.94,756.20 434.14,756.48 434.34,756.21 434.54,756.40 434.73,756.29 434.93,756.52 435.13,755.55 435.33,755.81 435.53,756.49 435.73,756.67 435.93,756.10 436.13,756.22 436.33,756.62 436.53,756.53" fill="none" stroke="#3b45a6" stroke-width="1.2" stroke-linejoin="round"/>
<polyline points="149.25,820.05 149.45,820.36 149.65,820.42 149.85,819.96 150.05,820.04 150.25,819.84 150.45,820.69 150.65,820.59 150.85,820.14 151.05,820.01 151.25,820.37 151.44,820.51 151.64,820.74 151.84,820.53 152.04,820.54 152.24,820.34 152.44,820.77 152.64,820.66 152.84,820.06 153.04,819.84 153.24,820.19 153.44,820.42 153.64,820.61 153.84,820.68 154.04,820.61 154.24,820.14 154.44,820.72 154.64,820.71 154.84,820.71 155.04,820.72 155.24,820.73 155.43,820.45 155.63,819.98 155.83,820.04 156.03,819.36 156.23,820.75 156.43,820.74 156.63,820.65 156.83,820.72 157.03,820.74 157.23,820.67 157.43,820.41 157.63,820.62 157.83,820.65 158.03,820.02 158.23,820.59 158.43,820.41 158.63,819.87 158.83,820.49 159.03,820.56 159.22,820.33 159.42,820.68 159.62,820.47 159.82,820.38 160.02,820.28 160.22,820.60 160.42,820.36 160.62,820.63 160.82,820.22 161.02,820.53 161.22,820.77 161.42,820.46 161.62,820.32 161.82,820.73 162.02,820.74 162.22,820.78 162.42,820.35 162.62,820.53 162.82,820.25 163.02,820.73 163.22,820.71 163.41,820.70 163.61,820.49 163.81,820.48 164.01,820.64 164.21,820.46 164.41,820.63 164.61,820.17 164.81,820.66 165.01,820.78 165.21,820.34 165.41,819.88 165.61,820.80 165.81,820.36 166.01,820.51 166.21,820.61 166.41,820.57 166.61,820.54 166.81,820.43 167.01,820.41 167.21,820.68 167.40,820.43 167.60,820.79 167.80,820.71 168.00,820.21 168.20,820.53 168.40,820.70 168.60,820.54 168.80,820.70 169.00,820.52 169.20,820.64 169.40,820.41 169.60,820.74 169.80,820.62 170.00,820.64 170.20,820.48 170.40,820.58 170.60,820.43 170.80,820.65 171.00,820.61 171.19,820.50 171.39,820.30 171.59,820.47 171.79,820.51 171.99,820.77 172.19,820.60 172.39,820.54 172.59,820.70 172.79,819.99 172.99,818.44 173.06,818.90 173.19,819.18 173.39,820.31 173.59,820.10 173.79,819.81 173.95,819.08 173.99,819.21 174.19,819.67 174.39,819.41 174.48,819.04 174.59,819.36 174.79,820.15 174.99,820.41 175.19,820.47 175.38,820.05 175.50,820.00 175.58,819.22 175.78,820.59 175.98,819.93 176.18,819.99 176.38,819.90 176.58,820.41 176.78,820.55 176.98,820.68 177.18,820.78 177.38,820.04 177.58,820.55 177.78,820.39 177.98,820.71 178.18,820.45 178.38,820.78 178.58,820.65 178.78,820.52 178.98,820.63 179.18,820.76 179.37,820.69 179.57,820.29 179.77,820.45 179.97,820.04 180.17,820.41 180.37,820.38 180.57,820.49 180.77,820.14 180.97,820.75 181.17,820.64 181.37,820.50 181.57,820.55 181.77,820.38 181.97,819.99 182.17,820.31 182.37,820.52 182.57,820.56 182.77,820.79 182.97,820.00 183.16,820.11 183.36,820.70 183.56,820.64 183.76,820.59 183.96,820.08 184.16,820.64 184.36,820.46 184.56,820.18 184.76,820.16 184.96,820.46 185.16,820.78 185.36,820.76 185.56,820.25 185.76,820.22 185.96,820.50 186.16,820.70 186.36,820.74 186.56,820.31 186.76,820.40 186.96,820.59 187.16,820.80 187.35,820.78 187.55,820.60 187.75,820.73 187.95,820.69 188.15,820.69 188.35,820.02 188.55,820.68 188.75,820.40 188.95,820.56 189.15,820.66 189.35,820.48 189.55,820.46 189.75,820.34 189.95,820.48 190.15,820.60 190.35,820.67 190.55,820.47 190.75,820.44 190.95,820.44 191.15,820.72 191.34,820.42 191.54,820.58 191.74,820.68 191.94,820.42 192.14,820.41 192.34,820.72 192.54,820.42 192.74,820.62 192.94,820.27 193.14,820.45 193.34,820.64 193.54,820.18 193.74,820.78 193.94,820.26 194.14,820.51 194.34,820.51 194.54,820.73 194.74,820.20 194.94,820.66 195.13,820.42 195.33,820.62 195.53,820.06 195.73,820.43 195.93,820.44 196.13,820.65 196.33,820.23 196.53,820.38 196.73,820.77 196.93,820.35 197.13,820.28 197.33,820.29 197.53,820.36 197.73,820.09 197.93,820.64 198.13,820.23 198.33,820.75 198.53,820.29 198.73,820.38 198.93,820.48 199.12,820.58 199.32,820.79 199.52,820.78 199.72,820.68 199.92,820.65 200.12,820.70 200.32,820.62 200.52,820.63 200.72,820.04 200.92,820.69 201.12,820.24 201.32,820.27 201.52,820.45 201.72,820.13 201.92,820.30 202.12,820.64 202.32,820.77 202.52,820.70 202.72,820.75 202.92,820.32 203.12,820.76 203.31,820.61 203.51,820.79 203.71,819.87 203.91,820.47 204.11,820.67 204.31,820.11 204.51,820.51 204.71,820.79 204.91,820.55 205.11,820.80 205.31,820.25 205.51,820.79 205.71,820.40 205.91,820.53 206.11,820.50 206.31,820.55 206.51,820.46 206.71,820.39 206.91,820.56 207.11,820.39 207.30,820.73 207.50,820.80 207.70,820.56 207.90,820.56 208.10,820.17 208.30,820.58 208.50,820.36 208.70,820.09 208.90,820.07 209.04,819.69 209.10,819.79 209.30,819.95 209.50,820.40 209.70,820.38 209.90,820.56 210.10,820.18 210.30,820.31 210.50,819.91 210.55,819.70 210.70,820.05 210.90,820.13 211.09,820.22 211.29,819.31 211.34,819.17 211.49,818.99 211.69,820.13 211.89,819.08 211.98,818.87 212.09,819.38 212.29,820.29 212.49,820.62 212.69,820.78 212.89,820.72 213.09,820.41 213.29,820.75 213.49,820.62 213.69,820.47 213.89,820.50 214.09,820.18 214.29,820.04 214.49,819.83 214.69,820.26 214.89,820.73 215.09,820.06 215.28,820.65 215.48,820.58 215.68,820.34 215.88,820.17 216.08,820.73 216.28,820.55 216.48,820.48 216.68,820.70 216.88,819.79 217.08,820.52 217.28,820.74 217.48,820.74 217.68,820.17 217.88,820.34 218.08,819.90 218.28,820.62 218.48,820.56 218.68,820.69 218.88,820.51 219.07,820.56 219.27,820.22 219.47,820.26 219.67,820.13 219.87,820.77 220.07,820.00 220.27,820.64 220.47,820.41 220.67,820.78 220.87,820.63 221.07,820.17 221.27,820.38 221.47,820.70 221.67,820.44 221.87,820.27 222.07,820.51 222.27,820.44 222.47,820.78 222.67,820.38 222.87,820.62 223.06,820.67 223.26,820.29 223.46,820.42 223.66,820.69 223.86,820.61 224.06,820.74 224.26,820.71 224.46,820.22 224.66,820.16 224.86,820.26 225.06,820.65 225.26,820.70 225.46,820.44 225.66,820.66 225.86,820.71 226.06,820.13 226.26,820.63 226.46,820.22 226.66,820.39 226.86,820.20 227.06,820.73 227.25,820.13 227.45,820.22 227.65,820.66 227.85,820.61 228.05,820.76 228.25,820.43 228.45,820.79 228.65,820.68 228.85,820.21 229.05,820.57 229.25,820.70 229.45,820.46 229.65,820.35 229.85,820.44 230.05,820.04 230.25,820.69 230.45,820.63 230.65,820.60 230.85,820.71 231.05,820.49 231.24,820.24 231.44,820.38 231.64,820.51 231.84,820.53 232.04,820.45 232.24,820.70 232.44,820.57 232.64,820.22 232.84,820.53 233.04,820.79 233.24,820.30 233.44,820.78 233.64,820.42 233.84,820.76 234.04,820.41 234.24,820.72 234.44,820.72 234.64,820.50 234.84,820.79 235.04,820.76 235.23,820.43 235.43,820.60 235.63,820.45 235.83,820.14 236.03,820.62 236.23,820.33 236.43,820.18 236.63,820.56 236.83,820.59 237.03,820.64 237.23,820.69 237.43,820.68 237.63,820.17 237.83,820.70 238.03,820.56 238.23,820.23 238.43,820.47 238.63,820.53 238.83,820.19 239.03,820.61 239.22,820.68 239.42,820.59 239.62,820.64 239.82,820.29 240.02,820.71 240.22,820.71 240.42,820.51 240.62,820.78 240.82,820.70 241.02,820.52 241.22,820.00 241.42,820.43 241.62,820.68 241.82,820.30 242.02,820.63 242.22,820.07 242.42,819.98 242.62,820.67 242.82,820.49 243.01,820.51 243.21,820.45 243.41,820.28 243.61,820.42 243.81,820.11 244.01,820.79 244.21,820.56 244.41,820.40 244.61,820.36 244.81,820.73 245.01,820.63 245.21,820.34 245.41,820.34 245.61,820.69 245.81,820.54 246.01,820.46 246.21,819.87 246.41,820.39 246.61,820.63 246.81,820.66 247.00,820.65 247.20,820.26 247.40,820.44 247.60,820.68 247.80,820.78 248.00,820.64 248.20,819.91 248.40,820.58 248.60,820.44 248.80,820.08 249.00,820.73 249.20,820.60 249.40,820.46 249.60,820.36 249.80,819.88 250.00,818.95 250.12,818.72 250.20,818.54 250.40,819.47 250.60,817.95 250.72,817.79 250.80,817.73 250.91,818.66 251.00,818.78 251.19,819.39 251.37,818.91 251.39,818.77 251.59,819.88 251.79,820.46 251.99,820.40 252.19,820.64 252.39,820.33 252.59,820.29 252.79,820.53 252.99,820.65 253.19,820.38 253.39,820.78 253.59,820.40 253.79,820.44 253.99,820.02 254.19,820.73 254.39,820.42 254.59,820.46 254.79,820.44 254.99,820.57 255.18,820.64 255.38,820.53 255.58,820.80 255.78,820.75 255.98,820.58 256.18,820.54 256.38,820.73 256.58,820.74 256.78,820.56 256.98,820.60 257.18,820.66 257.38,820.61 257.58,820.77 257.78,820.57 257.98,820.40 258.18,820.72 258.38,820.77 258.58,820.41 258.78,820.67 258.98,820.76 259.17,820.68 259.37,820.47 259.57,820.57 259.77,819.78 259.97,820.63 260.17,820.77 260.37,820.63 260.57,820.56 260.77,820.76 260.97,820.54 261.17,820.54 261.37,820.71 261.57,820.71 261.77,820.76 261.97,820.48 262.17,820.69 262.37,820.36 262.57,820.49 262.77,820.66 262.97,820.80 263.16,820.49 263.36,820.58 263.56,820.28 263.76,820.70 263.96,820.65 264.16,820.36 264.36,819.84 264.56,820.77 264.76,820.78 264.96,820.63 265.16,820.77 265.36,820.75 265.56,820.70 265.76,820.25 265.96,820.61 266.16,820.58 266.36,820.64 266.56,820.35 266.76,820.73 266.96,820.50 267.15,819.96 267.35,820.70 267.55,820.76 267.75,820.62 267.95,820.29 268.15,820.64 268.35,820.74 268.55,820.59 268.75,820.05 268.95,820.50 269.15,820.54 269.35,820.50 269.55,820.28 269.75,820.58 269.95,820.69 270.15,820.76 270.35,820.15 270.55,820.54 270.75,820.36 270.94,820.46 271.14,820.62 271.34,820.55 271.54,820.65 271.74,820.72 271.94,820.35 272.14,820.77 272.34,820.56 272.54,820.70 272.74,820.26 272.94,820.70 273.14,820.42 273.34,820.57 273.54,820.78 273.74,820.78 273.94,820.72 274.14,820.14 274.34,820.66 274.54,820.72 274.74,820.64 274.94,820.74 275.13,820.03 275.33,820.29 275.53,820.16 275.73,820.50 275.93,820.49 276.13,820.28 276.33,820.41 276.53,820.61 276.73,820.47 276.93,820.44 277.13,820.62 277.33,820.62 277.53,820.75 277.73,820.62 277.93,820.72 278.13,820.29 278.33,820.52 278.53,820.79 278.73,820.67 278.93,820.47 279.12,820.33 279.32,820.75 279.52,820.77 279.72,820.67 279.92,819.76 280.12,820.70 280.32,820.29 280.52,820.19 280.72,820.46 280.92,820.24 281.12,820.37 281.32,820.55 281.52,820.74 281.72,820.73 281.92,820.65 282.12,820.71 282.32,820.63 282.52,819.77 282.72,820.64 282.92,820.53 283.11,820.00 283.31,820.42 283.51,820.57 283.71,820.67 283.91,820.06 284.11,820.37 284.31,820.42 284.51,820.74 284.71,819.99 284.91,820.49 285.11,820.35 285.31,820.62 285.51,820.73 285.71,820.53 285.91,820.34 286.11,820.69 286.31,820.55 286.51,820.37 286.71,820.69 286.90,820.78 287.10,820.64 287.30,820.54 287.50,820.42 287.70,820.34 287.90,820.58 288.10,820.76 288.30,820.38 288.50,820.47 288.70,820.36 288.90,820.72 289.10,820.44 289.30,820.44 289.50,820.79 289.70,820.65 289.90,820.73 290.10,820.75 290.30,820.55 290.50,819.97 290.70,818.66 290.89,814.75 291.00,813.97 291.09,814.73 291.29,818.17 291.49,820.11 291.69,820.69 291.89,819.98 292.09,820.52 292.29,820.36 292.49,820.66 292.69,820.74 292.89,820.40 293.09,819.90 293.29,820.78 293.49,820.56 293.69,819.90 293.89,820.73 294.09,820.64 294.29,820.74 294.49,820.47 294.69,820.23 294.88,820.73 295.08,820.16 295.28,820.63 295.48,820.73 295.68,820.35 295.88,820.23 296.08,819.38 296.28,818.65 296.48,817.48 296.50,817.53 296.68,818.21 296.88,819.58 297.08,820.44 297.28,820.37 297.48,820.24 297.68,820.46 297.88,819.76 298.08,819.99 298.28,820.69 298.48,820.60 298.68,820.24 298.88,819.44 298.94,819.10 299.07,819.34 299.27,820.51 299.47,820.29 299.67,820.20 299.87,820.70 300.07,820.36 300.27,820.25 300.47,820.32 300.67,820.55 300.87,818.53 301.07,814.14 301.14,813.34 301.16,813.07 301.27,814.54 301.47,819.11 301.67,819.96 301.87,818.26 301.94,818.19 302.07,818.78 302.27,819.91 302.47,820.08 302.67,820.71 302.87,820.69 303.06,820.79 303.26,820.77 303.46,820.74 303.66,820.47 303.86,820.65 304.06,820.32 304.26,820.64 304.46,820.51 304.66,820.61 304.86,820.79 305.06,820.08 305.26,820.53 305.46,820.65 305.66,820.39 305.86,820.68 306.06,820.38 306.26,820.37 306.46,820.18 306.66,820.42 306.86,820.80 307.05,820.58 307.25,820.76 307.45,820.09 307.65,820.05 307.85,820.76 308.05,820.49 308.25,820.70 308.45,820.76 308.65,820.74 308.85,820.27 309.05,820.13 309.25,820.43 309.45,820.55 309.65,820.33 309.85,820.01 310.05,820.59 310.25,820.30 310.45,820.38 310.65,820.55 310.85,820.68 311.04,820.58 311.24,820.30 311.44,819.66 311.64,820.41 311.84,820.68 312.04,820.54 312.24,820.45 312.44,820.66 312.64,820.39 312.84,820.58 313.04,820.74 313.24,820.61 313.44,820.35 313.64,820.14 313.84,820.39 314.04,820.37 314.24,819.98 314.44,820.72 314.64,820.74 314.84,820.35 315.03,820.57 315.23,820.48 315.43,820.77 315.63,820.58 315.83,819.95 316.03,820.32 316.23,820.44 316.43,820.47 316.63,820.45 316.83,819.99 317.03,820.18 317.23,820.64 317.43,820.59 317.63,820.58 317.83,820.68 318.03,820.24 318.23,820.30 318.43,820.67 318.63,820.51 318.83,819.89 319.02,820.50 319.22,820.64 319.42,820.44 319.62,820.76 319.82,820.59 320.02,820.80 320.22,819.68 320.42,820.55 320.62,820.66 320.82,820.75 321.02,820.65 321.22,820.15 321.42,820.69 321.62,820.50 321.82,820.32 322.02,820.78 322.22,820.76 322.42,820.60 322.62,819.80 322.81,820.51 323.01,820.67 323.21,820.49 323.41,820.77 323.61,820.68 323.81,820.76 324.01,820.71 324.21,819.80 324.41,820.26 324.61,820.12 324.81,820.25 325.01,819.67 325.21,820.54 325.41,820.29 325.61,820.72 325.81,820.70 326.01,820.79 326.21,820.55 326.41,820.52 326.61,820.11 326.81,820.71 327.00,820.71 327.20,820.32 327.40,820.68 327.60,820.66 327.80,820.67 328.00,819.89 328.20,820.04 328.40,820.76 328.60,820.59 328.80,820.67 329.00,820.64 329.20,820.27 329.40,820.09 329.60,820.57 329.80,820.68 330.00,819.54 330.20,820.29 330.40,820.50 330.60,820.76 330.80,820.20 330.99,820.02 331.19,820.18 331.39,820.74 331.59,820.77 331.79,820.72 331.99,820.43 332.19,820.25 332.39,820.70 332.59,820.29 332.79,820.32 332.99,820.69 333.19,820.34 333.39,820.62 333.59,820.67 333.79,820.57 333.99,820.03 334.19,820.28 334.39,820.65 334.59,820.59 334.78,820.05 334.98,820.34 335.18,817.57 335.38,809.84 335.50,807.76 335.58,808.90 335.78,816.28 335.98,820.29 336.18,820.65 336.38,820.66 336.58,820.00 336.78,820.73 336.98,820.46 337.18,819.61 337.38,820.61 337.58,820.35 337.78,820.78 337.98,820.62 338.18,820.38 338.38,820.69 338.58,820.47 338.77,820.37 338.97,820.59 339.17,820.37 339.37,820.55 339.57,820.55 339.77,820.46 339.97,820.38 340.17,819.87 340.37,820.69 340.57,820.31 340.77,820.22 340.97,820.55 341.17,819.73 341.37,820.77 341.57,820.60 341.77,820.15 341.97,820.79 342.17,820.45 342.37,820.02 342.57,819.27 342.76,816.39 342.96,815.41 343.00,815.67 343.16,815.87 343.36,818.67 343.56,819.78 343.76,820.68 343.96,820.27 344.16,820.60 344.36,820.42 344.56,820.62 344.76,820.40 344.96,820.23 345.16,820.07 345.36,820.47 345.56,819.06 345.76,813.63 345.96,806.01 346.00,805.59 346.16,809.47 346.36,818.14 346.56,819.89 346.75,820.46 346.95,820.71 347.15,820.43 347.35,820.65 347.55,820.33 347.75,820.22 347.95,819.47 348.06,818.97 348.15,818.94 348.35,820.27 348.55,820.66 348.75,820.73 348.95,820.38 349.15,820.00 349.35,818.08 349.44,817.02 349.55,816.60 349.71,817.11 349.75,817.39 349.95,818.81 350.15,820.47 350.35,820.16 350.55,820.66 350.75,820.44 350.94,820.13 351.14,820.43 351.34,820.58 351.54,820.69 351.74,820.30 351.94,819.51 352.02,819.43 352.14,819.12 352.34,820.48 352.54,820.73 352.74,820.55 352.94,820.56 353.14,820.32 353.34,820.72 353.54,820.75 353.74,820.77 353.94,820.76 354.14,820.67 354.34,820.58 354.54,820.74 354.74,820.41 354.93,820.38 355.13,820.77 355.33,820.39 355.53,820.38 355.73,820.63 355.93,820.73 356.13,820.19 356.33,820.72 356.53,820.43 356.73,820.58 356.93,820.77 357.13,819.56 357.33,820.75 357.53,820.78 357.73,820.38 357.93,820.75 358.13,820.21 358.33,820.34 358.53,820.60 358.73,820.44 358.92,820.08 359.12,820.39 359.32,820.68 359.52,820.42 359.72,820.31 359.92,820.50 360.12,819.88 360.32,820.64 360.52,820.28 360.72,820.72 360.92,820.55 361.12,820.65 361.32,820.03 361.52,820.65 361.72,820.48 361.92,820.72 362.12,820.22 362.32,820.73 362.52,820.54 362.72,820.75 362.91,820.54 363.11,819.98 363.31,820.47 363.51,820.43 363.71,820.53 363.91,820.54 364.11,820.70 364.31,819.93 364.51,820.39 364.71,820.29 364.91,820.76 365.11,820.67 365.31,820.48 365.51,820.66 365.71,820.52 365.91,820.04 366.11,820.64 366.31,820.07 366.51,820.61 366.71,820.72 366.90,820.46 367.10,820.59 367.30,820.74 367.50,820.55 367.70,820.34 367.90,820.69 368.10,820.22 368.30,820.28 368.50,820.73 368.70,820.68 368.90,820.48 369.10,820.57 369.30,820.67 369.50,820.53 369.70,820.75 369.90,820.19 370.10,820.70 370.30,820.64 370.50,820.72 370.70,820.38 370.89,820.52 371.09,820.68 371.29,820.71 371.49,820.54 371.69,820.54 371.89,820.32 372.09,820.50 372.29,820.20 372.49,820.41 372.69,820.49 372.89,820.34 373.09,820.48 373.29,820.67 373.49,820.75 373.69,820.62 373.89,820.03 374.09,820.27 374.29,820.77 374.49,820.70 374.69,819.95 374.88,820.69 375.08,820.54 375.28,820.32 375.48,819.73 375.68,820.05 375.88,819.72 376.08,820.55 376.28,820.77 376.48,820.72 376.68,820.44 376.88,820.74 377.08,820.27 377.28,820.42 377.48,820.49 377.68,820.53 377.88,820.43 378.08,820.03 378.28,820.60 378.48,820.36 378.68,820.65 378.87,820.15 379.07,820.43 379.27,820.75 379.47,820.63 379.67,820.76 379.87,820.29 380.07,820.53 380.27,820.00 380.47,820.43 380.67,820.47 380.87,820.04 381.07,820.74 381.27,820.80 381.47,820.47 381.67,820.20 381.87,820.76 382.07,820.77 382.27,820.43 382.47,820.29 382.67,820.73 382.86,820.80 383.06,820.18 383.26,820.44 383.46,820.65 383.66,820.41 383.86,820.48 384.06,820.53 384.26,820.22 384.46,820.61 384.66,820.45 384.86,820.66 385.06,820.41 385.26,820.63 385.46,820.71 385.66,820.37 385.86,820.64 386.06,820.65 386.26,819.89 386.46,814.84 386.65,796.64 386.80,787.42 386.85,789.45 387.05,807.66 387.25,818.77 387.45,820.61 387.65,820.70 387.85,820.69 388.05,820.28 388.25,820.10 388.45,819.57 388.65,818.33 388.85,817.86 389.00,817.51 389.05,817.70 389.25,818.08 389.45,819.14 389.65,819.56 389.85,820.28 390.05,820.62 390.25,820.51 390.45,820.09 390.64,820.73 390.84,820.71 391.04,819.94 391.24,820.29 391.44,820.44 391.64,820.80 391.84,820.51 392.04,819.76 392.24,820.51 392.44,820.49 392.64,820.20 392.84,820.50 393.04,820.29 393.24,820.74 393.44,820.33 393.64,820.23 393.84,820.00 394.04,819.47 394.21,818.20 394.24,818.54 394.44,819.52 394.63,820.49 394.83,819.65 395.03,818.58 395.04,818.94 395.23,819.74 395.43,820.01 395.63,819.03 395.67,818.76 395.83,819.63 396.03,819.97 396.23,819.80 396.43,820.77 396.63,820.43 396.83,820.27 397.03,820.65 397.23,820.06 397.43,818.43 397.48,818.75 397.63,819.32 397.83,820.44 398.03,820.18 398.23,819.86 398.43,820.77 398.62,820.34 398.82,820.78 399.02,820.57 399.22,820.23 399.42,820.64 399.62,820.61 399.82,820.66 400.02,820.43 400.22,820.38 400.42,820.64 400.62,820.66 400.82,820.63 401.02,820.79 401.22,820.71 401.42,820.41 401.62,819.57 401.82,820.45 402.02,820.56 402.22,820.60 402.42,820.79 402.62,820.78 402.81,820.68 403.01,820.19 403.21,820.75 403.41,820.71 403.61,820.45 403.81,820.76 404.01,820.62 404.21,820.77 404.41,820.67 404.61,820.42 404.81,820.65 405.01,820.39 405.21,820.62 405.41,820.49 405.61,820.73 405.81,820.37 406.01,820.69 406.21,820.45 406.41,820.75 406.61,820.39 406.80,820.51 407.00,820.60 407.20,820.35 407.40,820.58 407.60,820.53 407.80,820.61 408.00,820.71 408.20,820.79 408.40,820.66 408.60,820.58 408.80,820.51 409.00,820.67 409.20,820.76 409.40,820.26 409.60,820.46 409.80,820.24 410.00,820.38 410.20,820.74 410.40,820.75 410.60,820.67 410.79,820.67 410.99,820.35 411.19,820.06 411.39,820.26 411.59,820.31 411.79,820.52 411.99,820.61 412.19,820.72 412.39,820.56 412.59,820.80 412.79,819.78 412.99,819.66 413.19,820.46 413.39,820.47 413.59,820.50 413.79,820.76 413.99,820.43 414.19,820.61 414.39,820.35 414.59,820.77 414.78,820.17 414.98,820.78 415.18,820.21 415.38,820.16 415.58,820.23 415.78,820.62 415.98,820.65 416.18,820.37 416.38,820.69 416.58,820.48 416.78,820.42 416.98,820.38 417.18,819.92 417.38,820.25 417.58,819.81 417.78,820.52 417.98,820.74 418.18,820.64 418.38,820.78 418.57,820.31 418.77,820.74 418.97,820.33 419.17,820.69 419.37,820.68 419.57,820.58 419.77,820.37 419.97,820.76 420.17,820.79 420.37,820.25 420.57,820.55 420.77,820.43 420.97,820.61 421.17,820.68 421.37,820.30 421.57,820.45 421.77,820.52 421.97,820.72 422.17,820.74 422.37,820.58 422.56,820.18 422.76,820.78 422.96,820.35 423.16,820.78 423.36,820.42 423.56,820.41 423.76,820.26 423.96,820.36 424.16,820.68 424.36,820.69 424.56,820.45 424.76,820.52 424.96,820.69 425.16,820.33 425.36,820.52 425.56,820.79 425.76,820.55 425.96,820.60 426.16,820.65 426.36,820.49 426.56,820.80 426.75,820.42 426.95,820.46 427.15,820.57 427.35,820.44 427.55,820.17 427.75,820.64 427.95,820.80 428.15,820.42 428.35,820.75 428.55,820.48 428.75,820.75 428.95,820.52 429.15,820.62 429.35,820.28 429.55,820.40 429.75,820.30 429.95,820.26 430.15,820.39 430.35,820.41 430.55,820.75 430.74,820.37 430.94,820.79 431.14,820.68 431.34,820.42 431.54,820.41 431.74,820.30 431.94,820.57 432.14,820.67 432.34,820.24 432.54,820.35 432.74,820.54 432.94,819.71 433.14,820.35 433.34,820.27 433.54,820.64 433.74,820.68 433.94,820.00 434.14,820.26 434.34,820.59 434.54,820.04 434.73,820.44 434.93,820.56 435.13,820.63 435.33,820.58 435.53,820.60 435.73,820.43 435.93,820.63 436.13,820.40 436.33,820.52 436.53,820.67 436.73,819.83 436.93,820.69 437.13,820.64 437.33,820.44 437.53,820.48 437.73,820.75 437.93,820.08 438.13,820.37 438.33,820.79 438.53,820.52 438.72,820.53 438.92,820.69 439.12,820.51 439.32,820.59 439.52,820.71 439.72,820.54 439.92,820.31 440.12,820.67 440.32,820.42 440.52,820.52 440.72,820.57 440.92,820.07 441.12,820.19 441.32,820.53 441.52,820.73 441.72,820.66 441.92,820.80 442.12,820.53 442.32,820.21 442.52,819.93 442.71,820.07 442.91,820.30 443.11,820.61 443.31,820.73 443.51,820.68 443.71,820.74 443.91,820.54 444.11,820.62 444.31,820.57 444.51,819.86 444.71,820.52 444.91,819.94 445.11,820.58 445.31,820.25 445.51,820.13 445.71,820.27 445.91,820.50 446.11,820.58 446.31,820.50 446.50,820.36 446.70,820.80 446.90,820.59 447.10,820.72 447.30,820.76 447.50,820.55 447.70,820.53 447.90,820.63 448.10,820.49 448.30,820.54 448.50,820.57 448.70,820.41 448.90,820.69 449.10,820.63 449.30,820.51 449.50,820.11 449.70,820.74 449.90,820.17 450.10,820.54 450.30,820.60 450.50,820.78 450.69,820.43 450.89,820.12 451.09,820.41 451.29,820.75 451.49,820.03 451.69,820.72 451.89,820.53 452.09,820.53 452.29,820.76 452.49,820.76 452.69,820.36 452.89,820.67 453.09,820.36 453.29,820.79 453.49,820.18 453.69,820.69 453.89,820.36 454.09,819.76 454.29,820.20 454.49,820.27 454.68,820.48 454.88,820.17 455.08,820.79 455.28,820.64 455.48,820.06 455.68,820.61 455.88,820.34 456.08,820.12 456.28,820.67 456.48,820.78 456.68,820.66 456.88,820.67 457.08,820.79 457.28,820.36 457.48,820.77 457.68,820.09 457.88,820.20 458.08,820.80 458.28,820.44 458.48,820.44 458.67,820.06 458.87,820.39 459.07,820.66 459.27,820.71 459.47,820.64 459.67,820.52 459.87,820.75 460.07,820.72 460.27,820.65 460.47,820.18 460.67,820.34 460.87,820.69 461.07,820.54 461.27,820.69 461.47,820.61 461.67,820.17 461.87,820.30 462.07,820.33 462.27,820.78 462.47,820.74 462.66,820.62 462.86,820.34 463.06,820.53 463.26,820.75 463.46,820.62 463.66,820.69 463.86,820.55 464.06,820.44 464.26,820.21 464.46,820.72 464.66,820.38 464.86,820.31 465.06,820.56 465.26,820.05 465.46,820.74 465.66,820.51 465.86,820.36 466.06,820.06 466.26,820.43 466.46,820.65 466.65,820.19 466.85,820.72 467.05,820.65 467.25,820.47 467.45,820.73 467.65,820.11 467.85,820.76 468.05,820.65 468.25,820.22 468.45,820.52 468.65,820.46 468.85,820.57 469.05,820.39 469.25,820.69 469.45,820.76 469.65,820.62 469.85,820.48 470.05,820.36 470.25,820.16 470.44,820.07 470.64,820.54 470.84,820.44 471.04,820.51 471.24,820.34 471.44,820.45 471.64,820.49 471.84,820.34 472.04,820.73 472.24,820.67 472.44,820.57 472.64,820.73 472.84,820.47 473.04,820.71 473.24,820.67 473.44,820.37 473.64,820.76 473.84,820.74 474.04,820.54 474.24,820.78 474.44,820.59 474.63,820.31 474.83,820.60 475.03,820.55 475.23,820.80 475.43,820.49 475.63,819.85 475.83,820.30 476.03,820.66 476.23,820.66 476.43,820.23 476.63,820.57 476.83,820.25 477.03,820.37 477.23,820.80 477.43,820.68 477.63,820.79 477.83,820.71 478.03,820.46 478.23,820.65 478.43,820.26 478.62,820.40 478.82,820.56 479.02,820.49 479.22,820.43 479.42,820.72 479.62,820.68 479.82,820.44 480.02,820.68 480.22,820.44 480.42,820.72 480.62,820.69 480.82,820.80 481.02,820.70 481.22,820.65 481.42,820.49 481.62,820.38 481.82,820.75 482.02,820.17 482.22,820.70 482.42,820.69 482.61,820.80 482.81,820.51 483.01,820.58 483.21,820.80 483.41,820.73 483.61,820.50 483.81,820.32 484.01,820.24 484.21,820.60 484.41,820.69 484.61,820.24 484.81,820.53 485.01,819.96 485.21,820.48 485.41,820.30 485.61,820.02 485.81,820.62 486.01,820.27 486.21,820.49 486.41,820.75 486.60,820.73 486.80,820.61 487.00,820.50 487.20,820.15 487.40,820.25 487.60,820.43 487.80,820.15 488.00,820.30 488.20,820.76 488.40,820.19 488.60,820.73 488.80,820.70 489.00,820.76 489.20,820.42 489.40,820.26 489.60,820.54 489.80,820.32 490.00,820.35 490.20,820.24 490.40,820.53 490.59,820.50 490.79,820.43 490.99,820.79 491.19,820.07 491.39,820.54 491.59,820.53 491.79,820.58 491.99,820.61 492.19,820.80 492.39,820.80 492.59,820.53 492.79,820.43 492.99,820.62 493.19,820.31 493.39,819.79 493.59,820.63 493.79,820.40 493.99,820.45 494.19,820.23 494.38,820.20 494.58,820.42 494.78,820.15 494.98,820.19 495.18,819.74 495.38,820.78 495.58,820.40 495.78,820.64 495.98,820.24 496.18,820.64 496.38,820.15 496.58,820.13 496.78,820.46 496.98,820.59 497.18,820.53 497.38,820.31 497.58,820.47 497.78,820.43 497.98,820.44 498.18,820.27 498.38,820.57 498.57,820.47 498.77,820.77 498.97,819.97 499.17,820.69 499.37,820.78 499.57,820.48 499.77,820.58 499.97,820.19 500.17,820.54 500.37,820.28 500.57,820.65 500.77,820.18 500.97,820.42 501.17,820.74 501.37,820.43 501.57,820.57 501.77,820.40 501.97,820.26 502.17,820.61 502.37,820.78 502.56,819.93 502.76,820.38 502.96,820.51 503.16,820.36 503.36,820.74 503.56,820.72 503.76,820.65 503.96,820.26 504.16,820.50 504.36,820.63 504.56,820.65 504.76,820.66 504.96,820.50 505.16,820.75 505.36,820.14 505.56,820.50 505.76,820.14 505.96,820.69 506.16,820.44 506.36,820.48 506.55,820.38 506.75,820.13 506.95,820.74 507.15,820.13 507.35,820.16 507.55,820.43 507.75,820.29 507.95,820.76 508.15,820.66 508.35,820.79" fill="none" stroke="#a8a8a8" stroke-width="1.0" stroke-linejoin="round"/>
<polyline points="149.25,883.97 149.45,884.06 149.65,883.98 149.85,883.96 150.05,883.79 150.25,883.68 150.45,883.98 150.65,883.74 150.85,884.05 151.05,884.10 151.25,883.93 151.44,884.09 151.64,884.15 151.84,883.65 152.04,884.17 152.24,883.84 152.44,884.01 152.64,883.80 152.84,883.60 153.04,884.04 153.24,883.41 153.44,883.59 153.64,884.10 153.84,883.19 154.04,883.87 154.24,884.16 154.44,883.52 154.64,884.05 154.84,883.39 155.04,883.69 155.24,883.66 155.43,883.69 155.63,884.13 155.83,883.95 156.03,884.00 156.23,884.13 156.43,883.45 156.63,883.51 156.83,884.17 157.03,884.15 157.23,883.97 157.43,884.13 157.63,884.12 157.83,883.83 158.03,884.15 158.23,884.02 158.43,883.78 158.63,884.15 158.83,884.16 159.03,884.06 159.22,883.97 159.42,884.12 159.62,884.10 159.82,884.00 160.02,883.75 160.22,884.08 160.42,884.19 160.62,882.81 160.82,883.85 161.02,883.86 161.22,884.14 161.42,883.79 161.62,883.75 161.82,884.16 162.02,884.18 162.22,883.79 162.42,883.79 162.62,884.10 162.82,884.19 163.02,883.36 163.22,883.97 163.41,883.79 163.61,883.90 163.81,884.14 164.01,884.19 164.21,883.93 164.41,884.11 164.61,883.40 164.81,884.12 165.01,884.10 165.21,883.74 165.41,883.97 165.61,883.79 165.81,884.18 166.01,883.73 166.21,883.86 166.41,884.03 166.61,883.56 166.81,884.02 167.01,884.19 167.21,884.00 167.40,883.41 167.60,883.47 167.80,883.66 168.00,883.90 168.20,883.70 168.40,884.02 168.60,883.65 168.80,884.01 169.00,883.75 169.20,883.86 169.40,883.70 169.60,884.10 169.80,883.30 170.00,884.05 170.20,884.16 170.40,883.19 170.60,884.02 170.80,884.14 171.00,884.09 171.19,884.03 171.39,884.08 171.59,883.62 171.79,884.08 171.99,883.98 172.19,884.11 172.39,883.86 172.59,883.81 172.79,884.18 172.99,883.28 173.19,884.19 173.39,884.17 173.59,884.14 173.79,884.15 173.99,883.83 174.19,883.28 174.27,883.07 174.39,882.85 174.59,883.61 174.79,883.48 174.95,883.45 174.99,883.47 175.19,883.77 175.38,883.55 175.58,883.05 175.59,883.15 175.78,883.40 175.98,884.07 176.18,884.09 176.38,884.18 176.58,883.82 176.78,883.94 176.98,883.84 177.18,883.76 177.38,883.63 177.58,882.78 177.67,882.86 177.78,882.67 177.98,883.18 178.18,884.13 178.38,884.12 178.58,884.05 178.78,883.82 178.98,884.09 179.18,884.12 179.37,883.86 179.57,884.15 179.77,883.74 179.97,884.03 180.17,884.16 180.37,883.78 180.57,883.83 180.77,883.84 180.97,883.88 181.17,883.48 181.37,883.88 181.57,884.18 181.77,884.05 181.97,884.01 182.17,884.02 182.37,883.95 182.57,883.48 182.77,883.57 182.97,883.86 183.16,883.80 183.36,883.49 183.56,884.10 183.76,884.00 183.96,883.84 184.16,884.19 184.36,883.36 184.56,883.97 184.76,884.19 184.96,884.16 185.16,884.01 185.36,883.74 185.56,883.57 185.76,884.15 185.96,884.04 186.16,884.18 186.36,884.18 186.56,883.42 186.76,883.78 186.96,883.67 187.16,883.64 187.35,884.15 187.55,883.96 187.75,883.71 187.95,883.86 188.15,883.39 188.35,883.34 188.55,884.02 188.75,883.92 188.95,883.44 189.15,884.07 189.35,883.66 189.55,883.99 189.75,884.12 189.95,884.15 190.15,883.82 190.35,884.09 190.55,884.02 190.75,884.01 190.95,884.09 191.15,884.11 191.34,883.97 191.54,883.89 191.74,883.98 191.94,883.87 192.14,884.03 192.34,884.07 192.54,884.08 192.74,883.43 192.94,883.66 193.14,883.95 193.34,883.67 193.54,884.04 193.74,883.90 193.94,884.12 194.14,884.19 194.34,883.49 194.54,883.96 194.74,883.97 194.94,883.51 195.13,883.98 195.33,884.13 195.53,883.80 195.73,883.96 195.93,883.36 196.13,883.78 196.33,884.13 196.53,883.15 196.73,883.77 196.93,883.81 197.13,883.90 197.33,883.61 197.53,883.64 197.73,883.69 197.93,883.90 198.13,883.33 198.33,883.75 198.53,883.90 198.73,883.70 198.93,883.82 199.12,884.09 199.32,883.93 199.52,883.94 199.72,883.70 199.92,883.34 200.12,884.18 200.32,883.87 200.52,883.96 200.72,884.07 200.92,883.90 201.12,884.14 201.32,884.17 201.52,884.00 201.72,883.74 201.92,884.01 202.12,883.68 202.32,883.55 202.52,883.46 202.72,884.03 202.92,884.04 203.12,883.22 203.31,883.75 203.51,883.30 203.71,884.13 203.91,883.92 204.11,883.99 204.31,883.94 204.51,884.03 204.71,884.04 204.91,883.30 205.11,883.66 205.31,883.77 205.51,884.02 205.71,883.96 205.91,883.90 206.11,883.27 206.31,883.83 206.51,883.59 206.71,883.98 206.91,883.56 207.11,882.93 207.19,882.66 207.30,882.16 207.36,882.39 207.50,883.00 207.70,883.94 207.90,884.11 208.10,884.01 208.30,882.94 208.50,883.21 208.65,883.26 208.70,882.68 208.90,883.76 209.10,883.54 209.30,883.42 209.50,882.74 209.56,883.06 209.70,883.27 209.90,883.53 210.10,883.97 210.30,884.12 210.50,883.70 210.70,883.97 210.90,884.20 211.09,883.94 211.29,883.82 211.49,883.98 211.69,884.10 211.89,883.98 212.09,883.98 212.29,883.73 212.49,883.82 212.69,883.97 212.89,883.93 213.09,883.88 213.29,883.93 213.49,883.39 213.69,884.06 213.89,883.19 214.09,884.08 214.29,884.07 214.49,884.01 214.69,883.77 214.89,883.59 215.09,884.14 215.28,883.70 215.48,883.57 215.68,884.11 215.88,883.90 216.08,883.51 216.28,883.57 216.48,884.19 216.68,883.37 216.88,883.75 217.08,883.64 217.28,883.67 217.48,883.93 217.68,883.74 217.88,883.77 218.08,883.85 218.28,883.91 218.48,884.02 218.68,883.68 218.88,883.52 219.07,884.11 219.27,884.14 219.47,883.99 219.67,883.97 219.87,883.83 220.07,883.74 220.27,883.90 220.47,883.40 220.67,883.94 220.87,883.94 221.07,883.77 221.27,883.47 221.47,883.55 221.67,883.68 221.87,883.86 222.07,883.68 222.27,883.81 222.47,883.90 222.67,883.83 222.87,884.17 223.06,883.65 223.26,883.89 223.46,883.70 223.66,884.19 223.86,883.95 224.06,884.03 224.26,884.15 224.46,884.05 224.66,884.03 224.86,883.34 225.06,884.13 225.26,884.01 225.46,883.46 225.66,884.10 225.86,884.18 226.06,884.20 226.26,883.89 226.46,883.74 226.66,884.14 226.86,884.15 227.06,884.19 227.25,884.09 227.45,883.98 227.65,884.17 227.85,883.66 228.05,883.55 228.25,884.19 228.45,883.46 228.65,884.08 228.85,883.82 229.05,884.12 229.25,884.14 229.45,883.27 229.65,883.63 229.85,884.18 230.05,883.40 230.25,884.02 230.45,883.62 230.65,884.05 230.85,883.59 231.05,883.97 231.24,884.10 231.44,883.37 231.64,884.11 231.84,883.91 232.04,884.07 232.24,884.19 232.44,883.79 232.64,883.67 232.84,883.65 233.04,883.96 233.24,883.70 233.44,884.18 233.64,883.72 233.84,883.89 234.04,884.14 234.24,883.99 234.44,883.34 234.64,883.75 234.84,883.70 235.04,883.20 235.23,883.59 235.43,884.11 235.63,884.05 235.83,883.98 236.03,883.30 236.23,883.79 236.43,883.47 236.63,884.00 236.83,884.20 237.03,883.96 237.23,883.83 237.43,883.96 237.63,884.19 237.83,884.17 238.03,883.43 238.23,883.40 238.43,883.50 238.63,884.05 238.83,883.70 239.03,883.74 239.22,883.46 239.42,883.51 239.62,883.85 239.82,883.93 240.02,883.63 240.22,883.53 240.42,884.08 240.62,884.09 240.82,883.95 241.02,883.85 241.22,884.12 241.42,883.66 241.62,883.19 241.82,883.90 242.02,883.96 242.22,883.95 242.42,884.18 242.62,883.98 242.82,883.22 243.01,883.62 243.21,884.02 243.41,884.06 243.61,884.18 243.81,883.69 244.01,883.84 244.21,883.82 244.41,883.53 244.61,883.99 244.81,884.04 245.01,883.90 245.21,883.85 245.41,883.72 245.61,884.06 245.81,883.77 246.01,883.70 246.21,883.84 246.41,883.63 246.61,883.98 246.81,884.15 247.00,884.14 247.20,883.91 247.40,883.96 247.60,884.08 247.80,883.94 248.00,883.94 248.20,883.79 248.40,883.72 248.60,883.85 248.80,883.37 248.99,882.22 249.00,881.95 249.20,883.55 249.40,884.03 249.60,883.93 249.80,883.50 250.00,884.09 250.20,883.26 250.40,884.08 250.60,884.20 250.80,883.91 251.00,882.98 251.19,882.39 251.23,882.34 251.39,882.25 251.59,881.88 251.60,881.91 251.75,881.75 251.79,882.20 251.99,883.49 252.19,884.00 252.39,883.56 252.59,884.03 252.79,884.10 252.99,884.06 253.19,883.71 253.39,883.84 253.59,883.92 253.79,883.72 253.99,884.12 254.19,883.97 254.39,883.70 254.59,883.76 254.79,883.88 254.99,884.19 255.18,884.12 255.38,883.54 255.58,883.92 255.78,884.12 255.98,884.11 256.18,884.07 256.38,883.90 256.58,883.88 256.78,884.06 256.98,884.04 257.18,884.02 257.38,883.86 257.58,883.70 257.78,883.23 257.98,883.92 258.18,883.92 258.38,884.08 258.58,883.95 258.78,883.77 258.98,883.83 259.17,884.10 259.37,884.03 259.57,884.00 259.77,884.00 259.97,884.16 260.17,883.80 260.37,883.84 260.57,883.98 260.77,884.18 260.97,884.07 261.17,883.68 261.37,883.50 261.57,883.96 261.77,884.08 261.97,884.08 262.17,883.55 262.37,883.95 262.57,883.80 262.77,883.89 262.97,884.19 263.16,884.06 263.36,883.41 263.56,884.08 263.76,884.09 263.96,883.76 264.16,884.08 264.36,883.60 264.56,883.39 264.76,883.99 264.96,884.10 265.16,883.80 265.36,883.71 265.56,884.19 265.76,883.73 265.96,883.59 266.16,883.82 266.36,884.01 266.56,883.83 266.76,884.00 266.96,883.92 267.15,884.03 267.35,883.64 267.55,883.38 267.75,884.09 267.95,883.96 268.15,883.41 268.35,883.75 268.55,884.14 268.75,884.20 268.95,883.87 269.15,884.19 269.35,883.78 269.55,884.15 269.75,883.72 269.95,883.89 270.15,883.92 270.35,883.71 270.55,883.70 270.75,884.17 270.94,884.15 271.14,884.06 271.34,884.00 271.54,884.12 271.74,883.66 271.94,883.79 272.14,884.04 272.34,883.87 272.54,884.11 272.74,883.68 272.94,883.78 273.14,883.81 273.34,883.30 273.54,883.77 273.74,883.82 273.94,883.63 274.14,883.80 274.34,884.08 274.54,884.07 274.74,883.84 274.94,884.17 275.13,883.71 275.33,883.91 275.53,884.13 275.73,884.03 275.93,884.03 276.13,883.62 276.33,884.14 276.53,883.69 276.73,884.06 276.93,883.96 277.13,884.09 277.33,883.61 277.53,884.04 277.73,884.05 277.93,883.22 278.13,883.86 278.33,884.09 278.53,884.08 278.73,883.87 278.93,884.09 279.12,883.87 279.32,884.08 279.52,883.75 279.72,884.10 279.92,883.83 280.12,884.02 280.32,883.90 280.52,883.73 280.72,883.66 280.92,883.84 281.12,883.53 281.32,884.12 281.52,884.04 281.72,884.10 281.92,884.20 282.12,883.40 282.32,884.17 282.52,883.62 282.72,884.19 282.92,883.93 283.11,884.10 283.31,884.17 283.51,883.15 283.71,883.97 283.91,884.02 284.11,883.59 284.31,883.97 284.51,884.16 284.71,884.03 284.91,884.15 285.11,884.03 285.31,884.16 285.51,884.19 285.71,883.77 285.91,884.18 286.11,884.16 286.31,883.69 286.51,883.84 286.71,884.14 286.90,883.85 287.10,883.71 287.30,883.82 287.50,884.20 287.70,884.17 287.90,883.68 288.10,883.26 288.30,884.14 288.50,883.61 288.70,883.93 288.90,884.07 289.10,884.09 289.30,883.99 289.50,884.02 289.70,883.88 289.90,884.14 290.10,883.89 290.30,883.89 290.50,884.15 290.70,883.53 290.89,883.94 291.09,883.97 291.29,883.79 291.49,883.47 291.69,883.50 291.89,883.66 292.09,883.48 292.29,883.66 292.49,883.38 292.69,883.44 292.89,883.89 293.09,883.65 293.29,883.62 293.49,883.95 293.69,883.82 293.89,883.84 294.09,883.54 294.29,883.57 294.49,884.12 294.69,883.85 294.88,883.40 295.08,884.02 295.28,883.79 295.48,883.77 295.68,884.18 295.88,883.94 296.08,883.36 296.28,883.97 296.48,883.53 296.68,882.51 296.88,880.47 296.89,880.65 297.02,879.76 297.08,879.63 297.28,879.15 297.30,879.67 297.42,879.69 297.48,879.55 297.68,881.75 297.88,882.77 298.08,883.48 298.28,883.48 298.48,883.40 298.52,882.82 298.68,883.18 298.88,883.88 299.07,883.51 299.27,884.10 299.47,883.93 299.67,883.18 299.87,883.61 300.07,883.92 300.27,883.93 300.47,883.81 300.67,884.17 300.87,883.50 301.07,883.67 301.27,883.81 301.47,884.05 301.67,883.93 301.87,884.01 302.07,884.02 302.27,884.05 302.47,884.00 302.67,883.21 302.87,884.09 303.06,883.97 303.26,883.95 303.46,883.49 303.66,883.99 303.86,884.17 304.06,883.97 304.26,883.89 304.46,883.50 304.66,883.91 304.86,884.06 305.06,884.06 305.26,884.15 305.46,883.60 305.66,883.97 305.86,884.02 306.06,883.98 306.26,884.16 306.46,884.06 306.66,884.01 306.86,884.04 307.05,883.94 307.25,884.19 307.45,884.12 307.65,883.93 307.85,883.74 308.05,884.16 308.25,883.90 308.45,883.78 308.65,883.65 308.85,883.91 309.05,883.89 309.25,884.02 309.45,884.07 309.65,884.05 309.85,884.20 310.05,884.02 310.25,883.96 310.45,883.92 310.65,884.00 310.85,883.41 311.04,884.00 311.24,884.02 311.44,884.19 311.64,883.74 311.84,884.08 312.04,884.10 312.24,883.86 312.44,883.74 312.64,883.66 312.84,883.64 313.04,884.09 313.24,883.46 313.44,884.08 313.64,883.79 313.84,883.83 314.04,883.39 314.24,884.03 314.44,884.06 314.64,883.99 314.84,883.81 315.03,883.88 315.23,883.83 315.43,883.97 315.63,883.90 315.83,883.92 316.03,884.08 316.23,884.00 316.43,883.96 316.63,883.80 316.83,884.18 317.03,883.44 317.23,883.88 317.43,883.99 317.63,883.31 317.83,884.11 318.03,883.98 318.23,884.03 318.43,883.28 318.63,883.60 318.83,884.06 319.02,883.81 319.22,883.88 319.42,883.88 319.62,883.75 319.82,883.89 320.02,883.43 320.22,884.05 320.42,884.16 320.62,884.14 320.82,884.05 321.02,884.03 321.22,884.16 321.42,883.88 321.62,884.14 321.82,883.88 322.02,883.59 322.22,883.92 322.42,883.52 322.62,883.92 322.81,884.04 323.01,884.16 323.21,884.18 323.41,883.76 323.61,883.88 323.81,883.96 324.01,883.80 324.21,883.93 324.41,883.96 324.61,884.13 324.81,883.95 325.01,883.18 325.21,884.04 325.41,883.85 325.61,883.61 325.81,884.15 326.01,884.11 326.21,884.04 326.41,883.57 326.61,883.72 326.81,884.09 327.00,884.03 327.20,884.02 327.40,883.88 327.60,883.84 327.80,884.01 328.00,883.81 328.20,883.78 328.40,883.42 328.60,883.95 328.80,883.57 329.00,884.04 329.20,883.77 329.40,884.19 329.60,884.01 329.80,883.83 330.00,883.64 330.20,883.47 330.40,883.68 330.60,883.74 330.80,884.19 330.99,884.03 331.19,884.16 331.39,883.85 331.59,883.84 331.79,883.76 331.99,883.87 332.19,883.94 332.39,883.80 332.59,884.02 332.79,883.85 332.99,884.05 333.19,883.88 333.39,883.92 333.59,883.91 333.79,883.98 333.99,883.81 334.19,884.04 334.39,883.90 334.59,884.14 334.78,883.78 334.98,884.16 335.18,884.10 335.38,884.14 335.58,884.08 335.78,884.00 335.98,884.03 336.18,884.15 336.38,884.10 336.58,883.82 336.78,883.53 336.98,881.23 337.18,877.36 337.30,877.11 337.38,877.47 337.58,880.58 337.78,882.83 337.98,883.81 338.18,883.93 338.38,883.85 338.58,883.81 338.77,884.04 338.97,884.06 339.17,883.02 339.37,883.99 339.57,884.13 339.77,883.48 339.97,883.02 340.17,880.50 340.37,875.96 340.50,874.66 340.57,875.04 340.77,879.02 340.97,882.55 341.17,883.57 341.37,883.50 341.57,884.14 341.77,883.62 341.97,883.87 342.17,883.81 342.37,883.25 342.57,882.41 342.76,881.38 342.96,881.17 343.00,880.09 343.16,881.03 343.36,882.21 343.56,881.96 343.76,883.71 343.96,883.95 344.16,884.11 344.36,883.92 344.56,883.89 344.76,883.93 344.96,883.05 345.16,881.59 345.25,881.85 345.36,882.15 345.56,883.03 345.76,883.96 345.96,883.97 346.16,884.14 346.36,883.57 346.56,883.90 346.75,882.95 346.95,878.95 347.03,877.57 347.15,876.21 347.18,875.79 347.31,877.04 347.35,878.18 347.55,882.25 347.75,883.91 347.95,883.78 348.15,883.89 348.35,883.56 348.55,883.74 348.75,884.06 348.95,883.36 349.15,883.92 349.35,883.92 349.55,884.11 349.75,883.72 349.95,883.42 350.15,883.93 350.35,883.80 350.55,883.53 350.75,883.87 350.94,884.17 351.14,884.01 351.34,883.94 351.54,883.91 351.74,883.88 351.94,883.62 352.14,884.13 352.34,883.81 352.54,883.72 352.74,884.03 352.94,883.63 353.14,883.89 353.34,883.38 353.54,883.83 353.74,883.88 353.94,884.19 354.14,883.84 354.34,883.94 354.54,883.71 354.74,883.66 354.93,883.65 355.13,884.04 355.33,883.97 355.53,883.78 355.73,883.86 355.93,883.25 356.13,884.14 356.33,883.82 356.53,883.99 356.73,883.93 356.93,883.81 357.13,883.85 357.33,883.99 357.53,883.66 357.73,883.55 357.93,884.03 358.13,883.56 358.33,883.97 358.53,884.00 358.73,883.95 358.92,884.10 359.12,883.82 359.32,883.92 359.52,884.03 359.72,883.94 359.92,884.02 360.12,884.06 360.32,883.89 360.52,883.97 360.72,884.05 360.92,884.14 361.12,883.75 361.32,884.17 361.52,884.01 361.72,883.89 361.92,883.95 362.12,883.91 362.32,883.72 362.52,884.02 362.72,883.78 362.91,884.11 363.11,883.84 363.31,883.91 363.51,883.79 363.71,883.79 363.91,883.54 364.11,883.78 364.31,883.86 364.51,883.83 364.71,884.03 364.91,883.66 365.11,883.96 365.31,883.67 365.51,883.37 365.71,883.80 365.91,884.00 366.11,882.90 366.31,883.67 366.51,883.99 366.71,884.13 366.90,884.13 367.10,883.93 367.30,883.78 367.50,884.16 367.70,883.49 367.90,883.87 368.10,883.71 368.30,883.70 368.50,883.84 368.70,883.54 368.90,883.85 369.10,884.13 369.30,884.11 369.50,883.86 369.70,884.18 369.90,883.60 370.10,883.96 370.30,884.17 370.50,883.93 370.70,884.13 370.89,884.07 371.09,884.15 371.29,883.46 371.49,884.02 371.69,884.08 371.89,883.41 372.09,883.27 372.29,883.73 372.49,883.97 372.69,884.03 372.89,884.03 373.09,884.05 373.29,883.87 373.49,883.92 373.69,883.85 373.89,883.69 374.09,883.51 374.29,883.07 374.49,884.20 374.69,883.36 374.88,883.63 375.08,884.12 375.28,884.09 375.48,882.96 375.68,884.16 375.88,883.84 376.08,883.59 376.28,884.00 376.48,883.88 376.68,884.04 376.88,883.65 377.08,883.74 377.28,884.02 377.48,883.74 377.68,883.98 377.88,884.17 378.08,884.05 378.28,883.79 378.48,883.96 378.68,883.47 378.87,883.94 379.07,883.68 379.27,884.17 379.47,883.60 379.67,884.13 379.87,883.85 380.07,884.01 380.27,884.02 380.47,883.40 380.67,883.41 380.87,879.50 381.07,866.01 381.27,850.88 381.30,851.61 381.47,859.99 381.67,876.33 381.87,882.66 382.07,884.11 382.27,883.89 382.47,884.17 382.67,883.54 382.86,883.96 383.06,884.12 383.26,883.72 383.46,883.77 383.66,883.82 383.86,883.59 384.06,883.79 384.26,883.99 384.46,883.88 384.66,883.79 384.86,884.16 385.06,883.91 385.26,883.98 385.46,884.11 385.66,884.11 385.86,883.78 386.06,883.06 386.26,879.74 386.46,875.71 386.65,872.01 386.70,872.09 386.85,873.26 387.05,878.13 387.25,881.45 387.45,883.59 387.65,884.08 387.85,883.77 388.05,883.63 388.25,883.16 388.45,881.48 388.65,880.07 388.85,878.98 389.00,878.81 389.05,879.05 389.25,879.56 389.45,880.57 389.65,880.27 389.75,881.19 389.85,881.82 390.05,883.22 390.25,884.04 390.45,883.95 390.64,883.55 390.84,884.14 391.04,884.04 391.24,883.77 391.44,883.16 391.64,883.60 391.84,882.37 392.04,881.81 392.06,881.75 392.24,881.90 392.44,882.68 392.64,881.76 392.66,881.46 392.84,882.45 393.04,883.44 393.24,884.10 393.44,883.86 393.64,883.67 393.84,883.28 394.04,882.60 394.08,882.80 394.24,882.99 394.44,883.99 394.63,883.45 394.83,884.06 395.03,884.19 395.23,883.99 395.43,884.09 395.63,883.98 395.83,883.81 396.03,884.16 396.23,884.00 396.43,883.98 396.63,883.46 396.83,883.54 397.03,884.06 397.23,884.04 397.43,883.58 397.63,883.91 397.83,884.06 398.03,884.11 398.23,883.85 398.43,883.76 398.62,883.50 398.82,884.03 399.02,884.07 399.22,884.11 399.42,883.99 399.62,883.60 399.82,883.64 400.02,884.17 400.22,883.89 400.42,883.70 400.62,883.80 400.82,884.08 401.02,883.87 401.22,883.92 401.42,884.07 401.62,884.19 401.82,883.63 402.02,883.51 402.22,883.70 402.42,883.88 402.62,884.14 402.81,883.95 403.01,883.92 403.21,883.92 403.41,884.16 403.61,883.57 403.81,884.04 404.01,883.78 404.21,883.35 404.41,883.87 404.61,884.05 404.81,883.60 405.01,883.95 405.21,883.96 405.41,883.69 405.61,884.05 405.81,883.63 406.01,884.16 406.21,883.99 406.41,883.96 406.61,883.77 406.80,884.10 407.00,884.01 407.20,883.98 407.40,884.03 407.60,883.88 407.80,883.82 408.00,884.13 408.20,883.92 408.40,883.87 408.60,884.03 408.80,884.06 409.00,883.94 409.20,884.18 409.40,883.99 409.60,883.68 409.80,883.79 410.00,883.92 410.20,883.52 410.40,884.00 410.60,884.19 410.79,883.62 410.99,883.81 411.19,883.64 411.39,883.88 411.59,884.11 411.79,883.87 411.99,883.61 412.19,883.77 412.39,883.57 412.59,883.53 412.79,884.02 412.99,883.72 413.19,883.70 413.39,884.07 413.59,883.27 413.79,883.69 413.99,884.15 414.19,883.95 414.39,883.59 414.59,884.19 414.78,883.90 414.98,883.87 415.18,883.92 415.38,884.18 415.58,884.10 415.78,883.90 415.98,883.83 416.18,883.92 416.38,884.14 416.58,884.08 416.78,883.62 416.98,883.95 417.18,884.16 417.38,883.72 417.58,883.60 417.78,883.88 417.98,883.97 418.18,883.84 418.38,884.18 418.57,883.61 418.77,883.64 418.97,884.11 419.17,884.01 419.37,883.40 419.57,884.02 419.77,884.17 419.97,883.79 420.17,883.77 420.37,884.01 420.57,883.81 420.77,884.11 420.97,883.94 421.17,883.89 421.37,883.96 421.57,884.20 421.77,883.16 421.97,884.17 422.17,884.02 422.37,883.65 422.56,883.61 422.76,883.95 422.96,883.24 423.16,881.75 423.19,881.56 423.36,882.37 423.56,883.45 423.76,882.55 423.96,881.56 424.12,880.75 424.16,879.92 424.36,880.84 424.56,880.07 424.76,879.68 424.80,879.13 424.89,879.02 424.96,879.84 425.16,880.45 425.36,882.06 425.56,882.62 425.76,883.25 425.96,883.50 426.16,884.06 426.36,883.39 426.56,883.50 426.75,883.29 426.95,882.29 426.98,882.80 427.15,883.23 427.35,883.71 427.55,884.08 427.75,883.60 427.95,884.08 428.15,883.88 428.35,883.84 428.55,883.82 428.75,883.89 428.95,884.10 429.15,883.83 429.35,883.59 429.55,883.90 429.75,884.01 429.95,883.63 430.15,883.49 430.35,883.10 430.55,883.66 430.74,884.10 430.94,883.49 431.14,884.17 431.34,883.87 431.54,883.84 431.74,883.70 431.94,883.65 432.14,883.68 432.34,883.85 432.54,884.01 432.74,883.50 432.94,883.90 433.14,883.83 433.34,883.87 433.54,884.16 433.74,883.69 433.94,884.20 434.14,884.00 434.34,884.15 434.54,883.95 434.73,884.16 434.93,883.71 435.13,883.15 435.33,883.86 435.53,883.85 435.73,883.99 435.93,883.93 436.13,884.13 436.33,883.93 436.53,883.70 436.73,884.02 436.93,883.94 437.13,884.09 437.33,883.76 437.53,884.02 437.73,884.10 437.93,883.92 438.13,884.08 438.33,883.39 438.53,883.94 438.72,883.58 438.92,883.91 439.12,883.76 439.32,883.76 439.52,883.78 439.72,883.75 439.92,884.07 440.12,883.60 440.32,884.03 440.52,883.82 440.72,884.19 440.92,883.47 441.12,884.10 441.32,883.43 441.52,884.15 441.72,883.74 441.92,883.51 442.12,884.10 442.32,883.93 442.52,884.18 442.71,884.08 442.91,883.77 443.11,883.65 443.31,884.14 443.51,883.87 443.71,884.05 443.91,884.00 444.11,883.77 444.31,883.88 444.51,884.11 444.71,883.74 444.91,883.33 445.11,883.81 445.31,883.59 445.51,883.94 445.71,883.71 445.91,883.52 446.11,884.04 446.31,883.89 446.50,884.06 446.70,883.62 446.90,884.14 447.10,883.57 447.30,884.04 447.50,884.08 447.70,884.08 447.90,883.40 448.10,883.86 448.30,884.13 448.50,884.05 448.70,883.99 448.90,884.02 449.10,883.71 449.30,883.53 449.50,884.11 449.70,883.28 449.90,884.11 450.10,884.11 450.30,883.74 450.50,883.82 450.69,884.14 450.89,883.23 451.09,884.16 451.29,884.12 451.49,884.00 451.69,883.60 451.89,883.53 452.09,883.72 452.29,884.19 452.49,883.87 452.69,883.90 452.89,883.79 453.09,884.07 453.29,884.19 453.49,883.88 453.69,884.10 453.89,884.09 454.09,883.52 454.29,884.04 454.49,884.06 454.68,884.05 454.88,883.67 455.08,883.59 455.28,883.86 455.48,884.10 455.68,883.87 455.88,883.51 456.08,884.03 456.28,883.64 456.48,883.93 456.68,884.06 456.88,884.05 457.08,883.70 457.28,883.79 457.48,883.96 457.68,883.82 457.88,884.00 458.08,884.17 458.28,883.61 458.48,883.56 458.67,883.84 458.87,884.04 459.07,884.00 459.27,884.15 459.47,883.96 459.67,883.58 459.87,883.73 460.07,883.88 460.27,883.96 460.47,883.65 460.67,883.45 460.87,884.11 461.07,883.43 461.27,884.18 461.47,884.14 461.67,884.05 461.87,883.93 462.07,883.69 462.27,884.10 462.47,883.93 462.66,884.05 462.86,883.97 463.06,884.17 463.26,884.12 463.46,883.86 463.66,883.69 463.86,883.99 464.06,883.70 464.26,884.04 464.46,884.03 464.66,883.94 464.86,883.75 465.06,883.90 465.26,884.18 465.46,883.95 465.66,884.17 465.86,883.68 466.06,883.81 466.26,884.12 466.46,883.99 466.65,884.01 466.85,883.89 467.05,883.93 467.25,883.90 467.45,883.53 467.65,883.85 467.85,884.09 468.05,883.71 468.25,884.11 468.45,883.94 468.65,883.83 468.85,884.13 469.05,883.43 469.25,884.17 469.45,884.04 469.65,883.81 469.85,883.75 470.05,883.85 470.25,884.19 470.44,883.98 470.64,884.18 470.84,883.69 471.04,884.10 471.24,883.69 471.44,883.98 471.64,884.10 471.84,884.15 472.04,883.69 472.24,884.18 472.44,884.02 472.64,883.90 472.84,883.61 473.04,883.98 473.24,884.01 473.44,883.11 473.64,884.00 473.84,884.14 474.04,883.81 474.24,883.91 474.44,884.13 474.63,884.15 474.83,883.55 475.03,883.91 475.23,883.43 475.43,883.35 475.63,883.73 475.83,884.03 476.03,883.74 476.23,883.91 476.43,883.49 476.63,884.02 476.83,883.84 477.03,884.17 477.23,883.86 477.43,884.00 477.63,883.99 477.83,884.09 478.03,883.92 478.23,883.60 478.43,883.97 478.62,883.71 478.82,883.79 479.02,884.14 479.22,883.90 479.42,884.20 479.62,884.06 479.82,884.03 480.02,883.97 480.22,883.86 480.42,884.11 480.62,883.62 480.82,884.18 481.02,884.06 481.22,883.88 481.42,884.04 481.62,884.18 481.82,884.20 482.02,883.73 482.22,883.84 482.42,884.19 482.61,884.08 482.81,884.14 483.01,884.05 483.21,884.19 483.41,884.07 483.61,883.91 483.81,883.85 484.01,884.06 484.21,883.96 484.41,884.02 484.61,883.82 484.81,883.87 485.01,884.08 485.21,884.05 485.41,883.89 485.61,884.17 485.81,883.54 486.01,883.89 486.21,883.58 486.41,884.10 486.60,883.85 486.80,883.78 487.00,884.05 487.20,884.09 487.40,884.14 487.60,884.13 487.80,883.77 488.00,884.11 488.20,883.76 488.40,884.09 488.60,883.84 488.80,883.92 489.00,883.87 489.20,884.07 489.40,883.99 489.60,883.96 489.80,883.77 490.00,883.79 490.20,883.81 490.40,883.93 490.59,884.00 490.79,883.92 490.99,883.84 491.19,883.92 491.39,883.87 491.59,883.74 491.79,883.90 491.99,884.15 492.19,883.85 492.39,884.04 492.59,883.86 492.79,884.04 492.99,884.18 493.19,883.82 493.39,884.08 493.59,884.11 493.79,883.69 493.99,884.16 494.19,883.76 494.38,884.16 494.58,883.86 494.78,883.92 494.98,883.51 495.18,883.94 495.38,884.10 495.58,883.68 495.78,883.56 495.98,883.47 496.18,883.91 496.38,883.58 496.58,883.66 496.78,884.00 496.98,884.16 497.18,884.14 497.38,883.80 497.58,883.64 497.78,883.78 497.98,884.04 498.18,883.97 498.38,883.60 498.57,883.87 498.77,883.94 498.97,883.52 499.17,884.17 499.37,883.67 499.57,883.71 499.77,884.20 499.97,884.07 500.17,884.03 500.37,884.13 500.57,883.17 500.77,883.61 500.97,883.58 501.17,884.15 501.37,883.85 501.57,883.60 501.77,883.85 501.97,884.04 502.17,884.19 502.37,883.56 502.56,883.97 502.76,884.07 502.96,884.08 503.16,883.51 503.36,883.65 503.56,884.14 503.76,883.65 503.96,883.97 504.16,883.80 504.36,883.79 504.56,883.97 504.76,884.03 504.96,884.19 505.16,884.04 505.36,883.80 505.56,883.99 505.76,883.69 505.96,884.11 506.16,884.01 506.36,884.13 506.55,884.16 506.75,883.75 506.95,883.94 507.15,884.11 507.35,883.26 507.55,884.14 507.75,884.17 507.95,884.18 508.15,884.07 508.35,884.11 508.55,883.69 508.75,883.67 508.95,883.36 509.15,884.10 509.35,883.97 509.55,884.02 509.75,884.14 509.95,884.08 510.15,883.80 510.35,884.11 510.54,884.08 510.74,883.77 510.94,884.18 511.14,883.63 511.34,884.04 511.54,883.54 511.74,884.12 511.94,884.02 512.14,884.16 512.34,883.86 512.54,883.79 512.74,883.51 512.94,883.99 513.14,884.05 513.34,884.11 513.54,883.68 513.74,883.62 513.94,883.81 514.14,883.79 514.34,883.55 514.53,883.32 514.73,884.13 514.93,884.19 515.13,883.63 515.33,883.48 515.53,884.04 515.73,884.19 515.93,884.14 516.13,883.73 516.33,884.12 516.53,884.08 516.73,884.07 516.93,883.47 517.13,883.72 517.33,884.11 517.53,883.96 517.73,883.89 517.93,884.16 518.13,883.56 518.33,883.63 518.52,884.13 518.72,883.73 518.92,884.12 519.12,883.53 519.32,883.86 519.52,883.89 519.72,883.32 519.92,883.91 520.12,883.65 520.32,884.19 520.52,884.09 520.72,884.17 520.92,883.70 521.12,883.96 521.32,884.19 521.52,883.37 521.72,884.00 521.92,883.84 522.12,883.53 522.32,884.17 522.51,883.49 522.71,883.90 522.91,883.74 523.11,884.00 523.31,883.94 523.51,884.13 523.71,884.02 523.91,884.04 524.11,884.16 524.31,884.00 524.51,883.66 524.71,883.60 524.91,883.63 525.11,883.87 525.31,883.73 525.51,883.54 525.71,883.85 525.91,884.08 526.11,883.83 526.31,883.59 526.50,883.88 526.70,884.07 526.90,883.51 527.10,883.87 527.30,884.00 527.50,883.89 527.70,884.10 527.90,883.37 528.10,884.16 528.30,883.83 528.50,884.05 528.70,883.81 528.90,883.19 529.10,883.99 529.30,883.73 529.50,883.81 529.70,883.87 529.90,884.18 530.10,883.94 530.30,884.06 530.49,883.70 530.69,884.03 530.89,884.11 531.09,884.02 531.29,883.73 531.49,883.89 531.69,884.08 531.89,884.18 532.09,883.67 532.29,884.11 532.49,883.82 532.69,883.60 532.89,884.04 533.09,883.74 533.29,883.68 533.49,883.89 533.69,884.20 533.89,884.03 534.09,884.11 534.29,883.66 534.48,884.06 534.68,883.66 534.88,883.98 535.08,884.00 535.28,883.91 535.48,883.54 535.68,883.76 535.88,883.87 536.08,884.10 536.28,883.56 536.48,883.93 536.68,884.15 536.88,884.07 537.08,884.10 537.28,883.59 537.48,884.11 537.68,884.03 537.88,884.13 538.08,883.91 538.28,883.60 538.47,884.19 538.67,883.98 538.87,883.90 539.07,883.91 539.27,883.69 539.47,884.14 539.67,884.09 539.87,884.16 540.07,883.95 540.27,883.94 540.47,883.68 540.67,884.06 540.87,883.65 541.07,883.70 541.27,884.18 541.47,883.98 541.67,884.03 541.87,883.91 542.07,883.89 542.27,883.87 542.46,883.94 542.66,884.18 542.86,884.15 543.06,883.71 543.26,883.42 543.46,884.03 543.66,884.08 543.86,883.45 544.06,883.72 544.26,884.01 544.46,884.00 544.66,883.98 544.86,884.15 545.06,884.03 545.26,884.14 545.46,884.03 545.66,884.06 545.86,884.04 546.06,883.87 546.25,883.76 546.45,883.59 546.65,883.84 546.85,883.66 547.05,884.17 547.25,883.88 547.45,884.14 547.65,884.07 547.85,883.94 548.05,883.65 548.25,883.87 548.45,883.29 548.65,883.60 548.85,883.97 549.05,883.31 549.25,883.91 549.45,884.00 549.65,883.82 549.85,884.13 550.05,883.72 550.25,883.43 550.44,883.77 550.64,884.02 550.84,884.05 551.04,884.15 551.24,884.12 551.44,884.01 551.64,884.09 551.84,883.19 552.04,884.20 552.24,884.00 552.44,883.68 552.64,883.95 552.84,883.93 553.04,883.62 553.24,883.90 553.44,883.81 553.64,883.56 553.84,884.10 554.04,883.40 554.24,883.83 554.43,884.00 554.63,883.84 554.83,883.94 555.03,883.84 555.23,883.78 555.43,884.04 555.63,883.74 555.83,883.12 556.03,883.64 556.23,883.98 556.43,883.72 556.63,884.14 556.83,884.09 557.03,884.16 557.23,883.79 557.43,884.03 557.63,884.15 557.83,883.80 558.03,884.16 558.23,883.87 558.42,884.08 558.62,884.08 558.82,883.42 559.02,883.47 559.22,883.83 559.42,883.84 559.62,883.92 559.82,884.11 560.02,883.64 560.22,884.05 560.42,883.31 560.62,884.10 560.82,883.68 561.02,884.06 561.22,884.08 561.42,884.15 561.62,883.75 561.82,884.04 562.02,883.73 562.22,884.16 562.41,884.01 562.61,884.09 562.81,883.61 563.01,883.86 563.21,883.98 563.41,884.15 563.61,883.99 563.81,883.69 564.01,883.84 564.21,884.11 564.41,883.87 564.61,883.42 564.81,884.12 565.01,883.43 565.21,884.10 565.41,884.01 565.61,884.17 565.81,883.86 566.01,883.94 566.21,883.85 566.40,883.82 566.60,884.17 566.80,884.19 567.00,884.13 567.20,884.00 567.40,883.92 567.60,883.99 567.80,884.08 568.00,884.16 568.20,884.17 568.40,884.11 568.60,883.93 568.80,883.95 569.00,884.09 569.20,883.97 569.40,883.90 569.60,883.50 569.80,883.80 570.00,883.92 570.20,883.93 570.39,884.06 570.59,884.12 570.79,884.17 570.99,883.71 571.19,884.18 571.39,883.28 571.59,884.15 571.79,884.04 571.99,884.09 572.19,883.78 572.39,883.86 572.59,883.81 572.79,884.16 572.99,884.12 573.19,883.76 573.39,883.75 573.59,884.18 573.79,884.11 573.99,884.05 574.18,883.80 574.38,884.07 574.58,884.09 574.78,883.68 574.98,883.89 575.18,883.87 575.38,884.03 575.58,884.11 575.78,884.19 575.98,883.85 576.18,883.63 576.38,884.07 576.58,883.96 576.78,884.13 576.98,884.09 577.18,884.00 577.38,883.07 577.58,883.48 577.78,883.74 577.98,884.16 578.17,883.88 578.37,883.79 578.57,884.17 578.77,883.92 578.97,883.96 579.17,883.92 579.37,884.09 579.57,884.10 579.77,884.14 579.97,883.84 580.17,883.74 580.37,884.02 580.57,883.77 580.77,883.72 580.97,884.15 581.17,883.27 581.37,884.08 581.57,884.01 581.77,883.65 581.97,883.60 582.16,884.08 582.36,883.90 582.56,884.13 582.76,883.37 582.96,883.57 583.16,883.93 583.36,883.90 583.56,883.88 583.76,884.16 583.96,883.90 584.16,884.14 584.36,883.42 584.56,884.19 584.76,883.89 584.96,884.17 585.16,883.46 585.36,884.13 585.56,883.35 585.76,884.09 585.96,884.10 586.15,883.91 586.35,883.98 586.55,884.01 586.75,883.67 586.95,883.33 587.15,883.77 587.35,883.71 587.55,884.04 587.75,884.16 587.95,884.17 588.15,883.87 588.35,883.40 588.55,883.77 588.75,883.57 588.95,883.55 589.15,883.91 589.35,884.18 589.55,883.85 589.75,883.90 589.95,883.81 590.14,883.86 590.34,883.71 590.54,884.10 590.74,883.93 590.94,884.08 591.14,883.83 591.34,883.93 591.54,883.72 591.74,884.01 591.94,883.85 592.14,883.90 592.34,883.70 592.54,884.16 592.74,883.93 592.94,884.19 593.14,884.03 593.34,883.51 593.54,884.11 593.74,884.17 593.94,884.11 594.13,883.48 594.33,884.04 594.53,884.05 594.73,883.55 594.93,884.04 595.13,883.78 595.33,883.34 595.53,883.68 595.73,884.02 595.93,883.58 596.13,883.96 596.33,884.12 596.53,883.54 596.73,883.98 596.93,883.37 597.13,884.02 597.33,884.10 597.53,884.14 597.73,884.09 597.93,883.58 598.12,884.05 598.32,883.71 598.52,884.02 598.72,883.82 598.92,883.86 599.12,883.96 599.32,883.84 599.52,884.18 599.72,884.01 599.92,883.77 600.12,883.83 600.32,883.87 600.52,883.55 600.72,883.55 600.92,884.12 601.12,883.96 601.32,884.18 601.52,883.90 601.72,884.00 601.92,884.16 602.12,884.02 602.31,883.80 602.51,883.80 602.71,884.18 602.91,883.94 603.11,884.00 603.31,883.69 603.51,883.89 603.71,883.86 603.91,883.23 604.11,883.93 604.31,884.18 604.51,884.18 604.71,883.98 604.91,884.08 605.11,884.14 605.31,884.12 605.51,883.88 605.71,883.53 605.91,883.69 606.11,883.31 606.30,883.76 606.50,884.07 606.70,883.90 606.90,883.87 607.10,884.13 607.30,883.82 607.50,884.20 607.70,884.10 607.90,883.72 608.10,884.13 608.30,883.17 608.50,883.78 608.70,883.84 608.90,884.15 609.10,883.81 609.30,883.61 609.50,883.90 609.70,883.79 609.90,883.74 610.10,883.96 610.29,883.82 610.49,883.82 610.69,884.20 610.89,884.16 611.09,884.04 611.29,883.77 611.49,883.91 611.69,883.83 611.89,883.99 612.09,884.04 612.29,884.19 612.49,883.73 612.69,884.15 612.89,883.51 613.09,883.77 613.29,883.65 613.49,883.97 613.69,883.56 613.89,883.31 614.09,883.65 614.28,883.69 614.48,883.70 614.68,883.81 614.88,884.14 615.08,884.03 615.28,883.40 615.48,883.93 615.68,883.47 615.88,884.05 616.08,883.86 616.28,883.85 616.48,884.03 616.68,884.13 616.88,884.01 617.08,883.95 617.28,884.03 617.48,884.04 617.68,884.01 617.88,883.71 618.08,884.16 618.27,883.63 618.47,884.19 618.67,884.17 618.87,883.86 619.07,883.97 619.27,883.81 619.47,883.95 619.67,883.92 619.87,883.97 620.07,884.12 620.27,883.88 620.47,883.98 620.67,883.78 620.87,883.97 621.07,884.06 621.27,884.02 621.47,883.61 621.67,883.72 621.87,883.95 622.07,883.79 622.26,883.54 622.46,883.71 622.66,884.01 622.86,883.90 623.06,884.09 623.26,883.97 623.46,883.97 623.66,883.85 623.86,883.62 624.06,884.09 624.26,884.01 624.46,883.98 624.66,884.03 624.86,884.18 625.06,884.14 625.26,883.51 625.46,883.76 625.66,883.89 625.86,884.13 626.06,884.06 626.25,883.96 626.45,883.87 626.65,884.13 626.85,883.79 627.05,884.17 627.25,884.05 627.45,884.10 627.65,883.74 627.85,884.01 628.05,884.00 628.25,884.00 628.45,883.76 628.65,884.07 628.85,884.17 629.05,883.72 629.25,883.78 629.45,883.87 629.65,884.15 629.85,883.68 630.05,883.90 630.24,883.78 630.44,884.16 630.64,884.20 630.84,884.07 631.04,883.67 631.24,884.10 631.44,883.54 631.64,883.72 631.84,883.78 632.04,883.73 632.24,883.93 632.44,883.76 632.64,883.46 632.84,883.72 633.04,884.00 633.24,884.17 633.44,883.72 633.64,883.53 633.84,883.73 634.04,884.00 634.23,884.05 634.43,884.07 634.63,883.49 634.83,883.95 635.03,883.04 635.23,883.77 635.43,883.71 635.63,883.58 635.83,884.04 636.03,884.04 636.23,884.15 636.43,884.04 636.63,883.93 636.83,883.86 637.03,884.18 637.23,883.92 637.43,884.06 637.63,883.80 637.83,883.98 638.03,884.07 638.22,884.19 638.42,883.97 638.62,884.12 638.82,884.13 639.02,884.16 639.22,883.90 639.42,884.14 639.62,883.80 639.82,883.67 640.02,883.40 640.22,883.99 640.42,883.77 640.62,883.82 640.82,883.73 641.02,884.13 641.22,883.83" fill="none" stroke="#cf4a3c" stroke-width="1.3" stroke-linejoin="round"/>
<polyline points="149.25,946.40 149.45,946.47 149.65,946.53 149.85,946.49 150.05,946.60 150.25,946.57 150.45,946.51 150.65,946.12 150.85,946.02 151.05,946.69 151.25,946.50 151.44,946.37 151.64,946.48 151.84,946.23 152.04,946.49 152.24,946.23 152.44,946.66 152.64,946.55 152.84,946.60 153.04,946.68 153.24,946.70 153.44,945.83 153.64,945.91 153.84,946.61 154.04,946.31 154.24,946.26 154.44,946.56 154.64,946.69 154.84,946.23 155.04,945.68 155.24,946.45 155.43,945.99 155.63,945.73 155.83,946.24 156.03,946.46 156.23,946.35 156.43,945.93 156.63,946.58 156.83,946.12 157.03,946.23 157.23,946.44 157.43,945.85 157.63,945.64 157.83,946.45 158.03,946.35 158.23,946.48 158.43,945.93 158.63,946.05 158.83,946.15 159.03,945.84 159.22,946.33 159.42,946.59 159.62,946.59 159.82,946.44 160.02,946.47 160.22,946.58 160.42,946.13 160.62,945.29 160.82,946.63 161.02,946.58 161.22,946.15 161.42,946.65 161.62,946.42 161.82,946.52 162.02,946.00 162.22,946.23 162.42,946.25 162.62,946.57 162.82,945.76 163.02,946.36 163.22,946.19 163.41,946.59 163.61,946.57 163.81,946.50 164.01,946.57 164.21,945.61 164.41,946.16 164.61,946.12 164.81,946.32 165.01,946.40 165.21,946.19 165.41,946.00 165.61,946.56 165.81,946.23 166.01,945.82 166.21,946.70 166.41,946.21 166.61,946.63 166.81,945.97 167.01,946.65 167.21,946.33 167.40,946.65 167.60,946.49 167.80,946.56 168.00,945.74 168.20,945.76 168.40,946.09 168.60,946.54 168.80,946.29 169.00,946.70 169.20,946.40 169.40,946.51 169.60,946.52 169.80,945.81 170.00,946.19 170.20,946.10 170.40,946.59 170.60,946.02 170.80,946.31 171.00,946.05 171.19,946.24 171.39,946.17 171.59,946.60 171.79,946.19 171.99,946.61 172.19,946.02 172.39,946.40 172.59,945.66 172.79,946.35 172.99,946.22 173.19,946.14 173.39,946.66 173.59,946.70 173.79,946.03 173.99,945.89 174.19,946.51 174.39,946.22 174.59,946.06 174.79,946.33 174.99,946.17 175.19,946.64 175.38,945.86 175.58,946.19 175.78,946.00 175.98,946.23 176.18,946.20 176.38,945.59 176.58,946.53 176.78,946.15 176.98,946.62 177.18,946.05 177.38,945.06 177.49,945.10 177.58,945.50 177.78,946.15 177.98,946.01 178.18,946.67 178.38,946.43 178.58,946.59 178.78,946.12 178.98,946.46 179.18,946.29 179.37,946.15 179.57,946.16 179.77,946.23 179.97,946.15 180.17,946.41 180.37,946.26 180.57,944.78 180.65,944.99 180.77,945.37 180.97,945.39 181.17,945.07 181.28,944.49 181.37,944.03 181.57,944.51 181.57,944.35 181.77,945.69 181.97,946.46 182.17,946.44 182.37,946.66 182.57,946.59 182.77,946.27 182.97,946.60 183.16,946.24 183.36,946.31 183.56,946.63 183.76,945.73 183.96,946.24 184.16,946.70 184.36,946.62 184.56,946.25 184.76,946.06 184.96,946.14 185.16,946.61 185.36,946.61 185.56,946.55 185.76,946.57 185.96,946.31 186.16,946.59 186.36,945.71 186.56,946.15 186.76,946.50 186.96,946.27 187.16,946.45 187.35,946.10 187.55,946.53 187.75,946.52 187.95,946.22 188.15,946.37 188.35,945.56 188.55,946.39 188.75,946.38 188.95,946.44 189.15,946.68 189.35,946.69 189.55,946.25 189.75,946.34 189.95,946.51 190.15,946.54 190.35,946.05 190.55,946.01 190.75,946.36 190.95,946.36 191.15,946.64 191.34,946.33 191.54,946.27 191.74,946.62 191.94,945.73 192.14,946.46 192.34,946.41 192.54,946.50 192.74,946.18 192.94,946.64 193.14,946.36 193.34,946.50 193.54,946.18 193.74,946.65 193.94,946.58 194.14,946.20 194.34,946.25 194.54,946.27 194.74,946.35 194.94,946.57 195.13,946.53 195.33,945.87 195.53,946.15 195.73,946.65 195.93,946.54 196.13,945.66 196.33,946.63 196.53,946.37 196.73,946.67 196.93,946.44 197.13,946.33 197.33,946.67 197.53,946.30 197.73,946.38 197.93,946.32 198.13,946.22 198.33,946.69 198.53,946.47 198.73,946.68 198.93,946.32 199.12,946.30 199.32,946.61 199.52,946.54 199.72,946.17 199.92,946.28 200.12,946.61 200.32,946.68 200.52,946.10 200.72,946.37 200.92,946.62 201.12,945.74 201.32,946.42 201.52,946.27 201.72,946.33 201.92,945.92 202.12,946.63 202.32,946.17 202.52,946.44 202.72,946.53 202.92,946.09 203.12,945.71 203.31,946.59 203.51,946.36 203.71,946.40 203.91,946.52 204.11,946.46 204.31,946.46 204.51,945.89 204.71,945.92 204.91,946.35 205.11,946.54 205.31,946.25 205.51,946.52 205.71,945.94 205.91,946.49 206.11,946.57 206.31,946.14 206.51,946.62 206.71,946.30 206.91,946.69 207.11,946.36 207.30,946.21 207.50,946.64 207.70,946.54 207.90,946.60 208.10,945.87 208.30,946.53 208.50,946.06 208.70,945.99 208.90,946.58 209.10,945.10 209.30,946.49 209.50,946.66 209.70,946.56 209.90,946.53 210.10,946.43 210.30,946.02 210.50,945.82 210.70,946.64 210.90,946.46 211.09,946.43 211.29,945.73 211.49,946.34 211.69,946.20 211.89,946.47 212.09,946.56 212.29,946.60 212.49,946.61 212.69,946.36 212.89,946.42 213.09,946.56 213.29,946.63 213.49,946.04 213.69,946.36 213.89,946.53 214.09,946.53 214.29,946.34 214.49,946.43 214.69,945.68 214.84,945.45 214.89,945.31 215.09,945.36 215.23,944.72 215.28,945.22 215.48,945.89 215.68,946.14 215.88,945.71 216.08,946.66 216.28,946.11 216.48,946.49 216.68,946.63 216.88,945.87 217.08,945.66 217.13,944.69 217.28,944.76 217.36,945.03 217.48,945.50 217.68,946.02 217.88,946.66 218.08,946.42 218.28,946.55 218.48,946.06 218.68,946.13 218.88,946.36 219.07,946.50 219.27,946.57 219.47,946.42 219.67,946.52 219.87,946.33 220.07,946.34 220.27,946.34 220.47,945.98 220.67,945.99 220.87,946.57 221.07,946.46 221.27,946.61 221.47,946.05 221.67,946.50 221.87,946.66 222.07,946.48 222.27,946.04 222.47,946.59 222.67,946.59 222.87,946.48 223.06,946.40 223.26,946.40 223.46,946.66 223.66,946.30 223.86,946.39 224.06,946.43 224.26,946.52 224.46,946.54 224.66,946.38 224.86,946.13 225.06,946.54 225.26,946.25 225.46,946.38 225.66,946.26 225.86,946.21 226.06,946.38 226.26,946.67 226.46,946.25 226.66,946.60 226.86,946.63 227.06,946.66 227.25,946.58 227.45,946.30 227.65,946.37 227.85,946.70 228.05,946.69 228.25,945.77 228.45,946.52 228.65,946.35 228.85,946.38 229.05,946.50 229.25,946.66 229.45,946.55 229.65,946.48 229.85,946.39 230.05,946.39 230.25,946.51 230.45,946.52 230.65,946.69 230.85,946.34 231.05,946.50 231.24,946.39 231.44,946.65 231.64,946.19 231.84,945.70 232.04,946.50 232.24,945.98 232.44,945.92 232.64,946.44 232.84,946.08 233.04,945.63 233.24,946.51 233.44,946.21 233.64,946.25 233.84,946.53 234.04,946.05 234.24,946.67 234.44,946.43 234.64,946.67 234.84,946.60 235.04,946.68 235.23,946.52 235.43,945.71 235.63,945.99 235.83,946.44 236.03,946.41 236.23,946.34 236.43,946.63 236.63,946.62 236.83,945.99 237.03,946.53 237.23,946.41 237.43,946.20 237.63,945.76 237.83,946.41 238.03,946.32 238.23,946.65 238.43,946.69 238.63,945.97 238.83,946.41 239.03,946.58 239.22,946.63 239.42,945.40 239.62,946.29 239.82,946.29 240.02,946.65 240.22,946.56 240.42,946.60 240.62,946.28 240.82,946.39 241.02,946.56 241.22,946.64 241.42,946.69 241.62,946.56 241.82,946.57 242.02,946.60 242.22,946.68 242.42,946.24 242.62,946.65 242.82,946.56 243.01,945.53 243.21,946.42 243.41,946.47 243.61,946.22 243.81,946.25 244.01,946.38 244.21,946.36 244.41,946.50 244.61,946.26 244.81,946.35 245.01,946.17 245.21,946.41 245.41,946.51 245.61,946.46 245.81,946.14 246.01,946.64 246.21,946.12 246.41,946.65 246.61,946.25 246.81,946.26 247.00,946.55 247.20,945.72 247.40,946.53 247.60,946.24 247.80,946.55 248.00,946.42 248.20,946.41 248.40,946.44 248.60,946.04 248.80,946.29 249.00,946.54 249.20,946.35 249.40,946.57 249.60,946.56 249.80,946.69 250.00,946.51 250.20,946.17 250.40,946.44 250.60,946.70 250.80,946.54 251.00,946.66 251.19,946.57 251.39,946.59 251.59,946.35 251.79,946.55 251.99,946.50 252.19,945.91 252.39,945.52 252.41,945.70 252.59,945.55 252.79,946.09 252.99,946.30 253.19,946.66 253.39,946.03 253.59,945.12 253.79,944.39 253.83,944.00 253.99,944.43 254.19,946.37 254.39,946.00 254.59,946.61 254.79,945.88 254.99,946.52 255.18,946.54 255.38,946.45 255.58,946.59 255.78,946.65 255.98,945.98 256.18,946.23 256.38,945.20 256.41,945.20 256.58,944.69 256.58,945.12 256.78,946.13 256.98,946.35 257.18,946.39 257.38,946.00 257.58,945.85 257.78,946.45 257.98,946.49 258.18,946.31 258.38,946.52 258.58,946.67 258.78,946.64 258.98,945.97 259.17,946.27 259.37,946.67 259.57,946.50 259.77,946.43 259.97,946.65 260.17,946.58 260.37,946.23 260.57,945.96 260.77,946.40 260.97,946.41 261.17,946.43 261.37,946.27 261.57,946.45 261.77,946.26 261.97,946.50 262.17,946.58 262.37,945.65 262.57,945.54 262.77,946.46 262.97,946.53 263.16,946.58 263.36,946.52 263.56,946.27 263.76,945.52 263.96,946.30 264.16,946.12 264.36,946.58 264.56,945.78 264.76,946.60 264.96,946.45 265.16,946.50 265.36,946.65 265.56,946.40 265.76,946.31 265.96,946.54 266.16,946.70 266.36,946.37 266.56,946.50 266.76,946.43 266.96,945.84 267.15,946.61 267.35,946.33 267.55,946.19 267.75,946.50 267.95,946.55 268.15,946.44 268.35,946.24 268.55,946.43 268.75,946.64 268.95,946.12 269.15,946.28 269.35,946.46 269.55,946.52 269.75,946.58 269.95,946.32 270.15,946.33 270.35,945.88 270.55,946.12 270.75,946.14 270.94,946.65 271.14,946.66 271.34,946.10 271.54,946.66 271.74,946.52 271.94,946.29 272.14,946.66 272.34,946.60 272.54,946.53 272.74,946.29 272.94,946.01 273.14,946.60 273.34,945.67 273.54,945.94 273.74,946.29 273.94,945.76 274.14,946.46 274.34,946.07 274.54,945.92 274.74,946.52 274.94,946.31 275.13,946.24 275.33,946.47 275.53,946.21 275.73,946.66 275.93,946.52 276.13,946.34 276.33,946.48 276.53,946.04 276.73,946.33 276.93,946.61 277.13,946.32 277.33,946.37 277.53,946.54 277.73,946.66 277.93,946.53 278.13,946.69 278.33,946.03 278.53,945.78 278.73,946.44 278.93,946.37 279.12,945.91 279.32,946.66 279.52,946.08 279.72,946.56 279.92,946.18 280.12,946.44 280.32,946.50 280.52,946.14 280.72,946.61 280.92,946.67 281.12,946.68 281.32,946.48 281.52,946.52 281.72,946.15 281.92,945.91 282.12,946.18 282.32,946.37 282.52,946.54 282.72,946.56 282.92,946.49 283.11,946.17 283.31,946.61 283.51,946.27 283.71,946.46 283.91,946.50 284.11,946.58 284.31,946.37 284.51,946.01 284.71,946.03 284.91,946.38 285.11,946.15 285.31,946.67 285.51,946.38 285.71,946.16 285.91,946.48 286.11,946.25 286.31,945.89 286.51,946.64 286.71,946.24 286.90,946.21 287.10,946.45 287.30,946.38 287.50,946.48 287.70,946.58 287.90,946.10 288.10,946.42 288.30,946.64 288.50,946.48 288.70,946.66 288.90,946.13 289.10,946.47 289.30,946.58 289.50,946.43 289.70,946.16 289.90,946.34 290.10,946.43 290.30,946.02 290.50,946.22 290.70,946.51 290.89,946.13 291.09,945.73 291.29,946.33 291.49,945.90 291.69,946.07 291.89,945.89 292.09,946.61 292.29,946.01 292.49,946.42 292.69,946.27 292.89,946.46 293.09,946.53 293.29,946.59 293.49,946.53 293.69,946.34 293.89,946.19 294.09,946.10 294.29,946.24 294.49,946.63 294.69,945.87 294.88,946.46 295.08,946.03 295.28,945.70 295.48,946.18 295.68,945.88 295.88,945.88 296.08,946.53 296.28,946.57 296.48,946.41 296.68,946.46 296.88,945.12 297.08,941.32 297.28,937.83 297.30,937.43 297.48,940.26 297.68,944.69 297.88,946.06 298.08,946.57 298.28,946.25 298.48,946.29 298.68,946.22 298.88,946.22 299.07,945.55 299.27,946.67 299.47,946.54 299.67,946.64 299.87,946.66 300.07,945.98 300.27,946.64 300.47,946.48 300.67,946.28 300.87,946.64 301.07,946.62 301.27,945.70 301.47,946.42 301.67,946.45 301.87,946.00 302.07,946.69 302.27,946.56 302.47,946.13 302.67,946.58 302.87,946.31 303.06,946.39 303.26,946.26 303.46,946.25 303.66,946.55 303.86,946.65 304.06,946.04 304.26,946.38 304.46,946.54 304.66,946.28 304.86,946.41 305.06,946.14 305.26,946.65 305.46,945.91 305.66,946.01 305.86,946.35 306.06,946.47 306.26,946.68 306.46,946.66 306.66,946.66 306.86,946.28 307.05,946.36 307.25,946.66 307.45,946.27 307.65,946.59 307.85,946.55 308.05,946.68 308.25,946.46 308.45,945.51 308.65,946.22 308.85,946.52 309.05,946.39 309.25,946.51 309.45,946.04 309.65,946.51 309.85,946.55 310.05,946.69 310.25,946.09 310.45,946.21 310.65,946.15 310.85,946.46 311.04,946.17 311.24,946.33 311.44,946.62 311.64,946.61 311.84,945.94 312.04,946.59 312.24,945.92 312.44,946.22 312.64,946.24 312.84,945.81 313.04,945.49 313.24,945.54 313.44,946.66 313.64,945.75 313.84,946.23 314.04,946.07 314.24,945.64 314.44,946.13 314.64,946.39 314.84,946.69 315.03,946.39 315.23,946.53 315.43,946.34 315.63,946.63 315.83,946.58 316.03,946.50 316.23,946.46 316.43,946.26 316.63,946.31 316.83,946.50 317.03,945.95 317.23,946.14 317.43,946.67 317.63,946.62 317.83,946.16 318.03,945.69 318.23,946.50 318.43,946.56 318.63,946.61 318.83,945.69 319.02,946.60 319.22,946.66 319.42,946.51 319.62,946.26 319.82,946.62 320.02,945.95 320.22,946.16 320.42,946.14 320.62,946.39 320.82,946.26 321.02,946.01 321.22,946.59 321.42,946.52 321.62,946.58 321.82,946.43 322.02,946.36 322.22,946.35 322.42,946.32 322.62,945.68 322.81,946.13 323.01,946.67 323.21,946.12 323.41,946.65 323.61,946.14 323.81,946.67 324.01,946.46 324.21,946.00 324.41,946.62 324.61,945.93 324.81,946.66 325.01,946.23 325.21,946.44 325.41,946.09 325.61,946.19 325.81,946.20 326.01,946.52 326.21,946.27 326.41,946.59 326.61,946.65 326.81,946.62 327.00,946.55 327.20,946.23 327.40,946.12 327.60,945.85 327.80,946.32 328.00,946.30 328.20,946.46 328.40,945.67 328.60,945.43 328.80,946.28 329.00,946.61 329.20,946.44 329.40,946.54 329.60,946.63 329.80,946.00 330.00,946.47 330.20,946.26 330.40,946.62 330.60,946.36 330.80,946.53 330.99,945.90 331.19,946.43 331.39,946.43 331.59,946.38 331.79,946.12 331.99,946.68 332.19,946.57 332.39,946.22 332.59,946.52 332.79,946.63 332.99,946.56 333.19,946.49 333.39,946.36 333.59,946.63 333.79,946.57 333.99,945.92 334.19,946.68 334.39,946.35 334.59,946.40 334.78,946.15 334.98,946.22 335.18,946.29 335.38,946.69 335.58,946.35 335.78,946.35 335.98,946.36 336.18,946.48 336.38,946.53 336.58,946.60 336.78,946.59 336.98,946.66 337.18,946.12 337.38,946.57 337.58,946.69 337.78,946.46 337.98,946.18 338.18,945.79 338.38,941.27 338.58,932.18 338.70,929.58 338.77,930.61 338.97,938.69 339.17,945.03 339.37,946.38 339.57,946.49 339.77,946.63 339.97,946.07 340.17,946.43 340.37,946.56 340.57,946.61 340.77,946.07 340.97,946.54 341.17,946.11 341.37,945.83 341.57,943.33 341.77,938.67 341.90,937.08 341.97,937.33 342.17,940.84 342.35,942.61 342.37,943.12 342.57,945.36 342.76,946.52 342.96,946.13 343.16,945.96 343.36,945.23 343.45,945.17 343.56,945.33 343.76,946.33 343.96,945.60 344.16,946.65 344.36,946.51 344.56,946.59 344.76,946.55 344.96,946.14 345.16,946.38 345.36,946.18 345.56,945.39 345.62,945.20 345.76,945.43 345.96,946.33 346.16,946.24 346.36,945.81 346.56,946.26 346.75,946.48 346.95,946.41 347.15,945.98 347.35,945.40 347.55,943.51 347.57,943.63 347.75,944.92 347.95,946.07 348.15,946.51 348.35,945.86 348.55,946.64 348.75,946.49 348.95,946.68 349.15,946.28 349.35,946.43 349.55,946.47 349.75,946.26 349.95,946.23 350.15,946.48 350.35,946.64 350.55,946.65 350.75,946.30 350.94,946.19 351.14,946.32 351.34,946.37 351.54,946.21 351.74,945.55 351.94,946.33 352.14,946.22 352.34,946.27 352.54,946.64 352.74,946.35 352.94,946.36 353.14,946.48 353.34,946.56 353.54,946.61 353.74,946.60 353.94,946.25 354.14,946.59 354.34,946.58 354.54,946.61 354.74,946.43 354.93,945.95 355.13,946.42 355.33,946.27 355.53,946.38 355.73,946.33 355.93,946.42 356.13,946.68 356.33,946.60 356.53,946.36 356.73,946.55 356.93,946.28 357.13,946.36 357.33,945.71 357.53,946.26 357.73,946.50 357.93,946.66 358.13,946.67 358.33,946.48 358.53,946.52 358.73,946.66 358.92,946.14 359.12,946.65 359.32,946.37 359.52,946.56 359.72,945.55 359.92,946.32 360.12,946.42 360.32,946.56 360.52,945.70 360.72,946.61 360.92,946.23 361.12,946.27 361.32,946.35 361.52,946.50 361.72,946.49 361.92,946.19 362.12,946.60 362.32,946.59 362.52,946.23 362.72,946.51 362.91,945.76 363.11,946.35 363.31,946.23 363.51,946.46 363.71,946.54 363.91,945.97 364.11,946.68 364.31,946.19 364.51,946.67 364.71,946.09 364.91,946.50 365.11,946.47 365.31,946.45 365.51,946.02 365.71,945.45 365.91,945.76 366.11,946.52 366.31,946.50 366.51,946.29 366.71,946.44 366.90,946.05 367.10,946.09 367.30,946.34 367.50,946.10 367.70,946.23 367.90,946.34 368.10,946.70 368.30,946.28 368.50,946.02 368.70,946.47 368.90,946.15 369.10,946.17 369.30,946.39 369.50,946.18 369.70,946.37 369.90,946.30 370.10,945.99 370.30,945.98 370.50,946.62 370.70,946.30 370.89,946.53 371.09,946.53 371.29,946.29 371.49,946.48 371.69,946.47 371.89,946.67 372.09,946.27 372.29,946.07 372.49,946.70 372.69,946.68 372.89,946.33 373.09,946.56 373.29,946.30 373.49,946.17 373.69,945.95 373.89,946.29 374.09,946.52 374.29,946.33 374.49,946.64 374.69,946.17 374.88,946.55 375.08,946.10 375.28,946.62 375.48,946.45 375.68,946.68 375.88,946.70 376.08,946.50 376.28,945.95 376.48,946.63 376.68,946.59 376.88,946.20 377.08,946.59 377.28,946.48 377.48,946.49 377.68,945.83 377.88,946.56 378.08,946.64 378.28,945.86 378.48,946.44 378.68,946.34 378.87,946.50 379.07,946.44 379.27,946.69 379.47,946.64 379.67,946.37 379.87,946.21 380.07,946.68 380.27,946.17 380.47,946.35 380.67,946.55 380.87,946.66 381.07,946.27 381.27,946.08 381.47,946.27 381.67,946.06 381.87,946.45 382.07,945.96 382.27,942.17 382.47,927.38 382.67,911.76 382.70,911.43 382.86,920.56 383.06,938.53 383.26,945.43 383.46,946.18 383.66,946.57 383.86,946.53 384.06,946.22 384.26,946.60 384.46,946.69 384.66,946.48 384.86,945.96 385.06,946.09 385.26,946.10 385.46,946.16 385.66,946.23 385.86,946.33 386.06,946.20 386.26,945.77 386.46,946.58 386.65,946.40 386.85,946.68 387.05,946.32 387.25,946.53 387.45,946.35 387.65,946.45 387.85,946.43 388.05,946.53 388.25,946.20 388.45,946.58 388.65,946.03 388.85,944.81 389.05,944.24 389.25,943.56 389.30,942.79 389.45,943.71 389.65,944.85 389.85,945.62 390.05,945.81 390.25,944.72 390.43,943.63 390.45,943.65 390.64,943.47 390.84,943.47 390.88,943.37 391.04,944.01 391.24,946.07 391.44,945.99 391.64,946.00 391.84,945.73 392.04,945.12 392.21,943.93 392.24,944.06 392.44,945.19 392.64,945.79 392.84,944.46 393.01,943.50 393.04,943.70 393.24,945.28 393.44,946.25 393.64,946.38 393.84,946.00 394.04,946.50 394.24,946.18 394.44,946.47 394.63,946.34 394.83,946.19 395.03,946.36 395.23,946.54 395.43,946.51 395.63,946.69 395.83,946.65 396.03,946.42 396.23,946.32 396.43,946.66 396.63,946.67 396.83,945.62 397.03,946.35 397.23,946.50 397.43,946.35 397.63,946.54 397.83,946.62 398.03,946.67 398.23,946.66 398.43,946.13 398.62,946.48 398.82,946.68 399.02,946.19 399.22,946.54 399.42,946.23 399.62,946.16 399.82,946.40 400.02,946.43 400.22,946.64 400.42,946.27 400.62,946.48 400.82,946.56 401.02,946.41 401.22,946.47 401.42,945.90 401.62,946.20 401.82,946.46 402.02,946.57 402.22,946.05 402.42,946.53 402.62,946.59 402.81,946.64 403.01,946.24 403.21,946.32 403.41,945.90 403.61,946.63 403.81,946.32 404.01,946.60 404.21,946.49 404.41,946.51 404.61,946.68 404.81,946.07 405.01,945.93 405.21,946.62 405.41,946.60 405.61,946.20 405.81,946.66 406.01,946.46 406.21,946.61 406.41,946.61 406.61,946.22 406.80,946.09 407.00,946.41 407.20,946.68 407.40,946.33 407.60,946.38 407.80,946.49 408.00,946.36 408.20,946.54 408.40,946.36 408.60,946.46 408.80,946.52 409.00,946.63 409.20,946.53 409.40,946.44 409.60,946.49 409.80,946.24 410.00,945.97 410.20,946.18 410.40,946.38 410.60,946.10 410.79,945.83 410.99,946.43 411.19,946.40 411.39,946.58 411.59,946.62 411.79,946.36 411.99,946.47 412.19,946.22 412.39,946.39 412.59,946.26 412.79,946.37 412.99,946.22 413.19,946.07 413.39,946.50 413.59,946.36 413.79,946.40 413.99,946.49 414.19,946.59 414.39,945.84 414.59,946.35 414.78,946.55 414.98,946.30 415.18,946.22 415.38,946.34 415.58,946.48 415.78,946.26 415.98,946.69 416.18,946.57 416.38,946.11 416.58,946.22 416.78,946.56 416.98,946.61 417.18,946.15 417.38,946.39 417.58,946.56 417.78,946.06 417.98,946.21 418.18,946.59 418.38,946.49 418.57,946.36 418.77,946.51 418.97,946.20 419.17,946.18 419.37,946.01 419.57,946.06 419.77,946.10 419.97,946.48 420.17,946.24 420.37,946.43 420.57,946.13 420.77,945.98 420.97,946.10 421.17,946.16 421.37,946.13 421.57,945.70 421.77,946.32 421.97,946.02 422.17,946.14 422.37,946.46 422.56,946.70 422.76,946.69 422.96,945.97 423.16,946.35 423.36,946.60 423.56,946.49 423.76,946.29 423.96,946.28 424.16,946.51 424.36,946.68 424.56,946.07 424.76,946.13 424.96,946.46 425.16,946.33 425.36,946.36 425.56,944.25 425.76,941.73 425.90,940.52 425.96,940.62 426.16,943.20 426.36,946.09 426.56,945.68 426.75,946.68 426.95,946.63 427.15,946.32 427.35,946.37 427.55,946.17 427.75,946.15 427.95,945.81 428.15,946.19 428.35,946.55 428.55,946.62 428.75,946.16 428.95,946.39 429.15,946.61 429.35,945.91 429.55,946.65 429.75,946.61 429.95,946.21 430.15,946.48 430.35,946.65 430.55,946.24 430.74,945.49 430.94,946.57 431.14,946.39 431.34,946.50 431.54,946.61 431.74,945.96 431.94,946.68 432.14,945.95 432.34,946.29 432.54,946.63 432.74,946.36 432.94,946.53 433.14,946.39 433.34,946.44 433.54,946.59 433.74,946.60 433.94,946.19 434.14,946.32 434.34,946.67 434.54,946.19 434.73,945.99 434.93,946.61 435.13,945.98 435.33,946.21 435.53,946.40 435.73,946.26 435.93,946.31 436.13,946.68 436.33,946.58 436.53,946.67 436.73,946.20 436.93,946.57 437.13,946.57 437.33,946.69 437.53,946.27 437.73,946.20 437.93,946.56 438.13,946.31 438.33,946.06 438.53,946.37 438.72,946.48 438.92,946.39 439.12,946.45 439.32,946.11 439.52,946.04 439.72,946.61 439.92,946.34 440.12,946.66 440.32,946.65 440.52,946.42 440.72,946.54 440.92,946.32 441.12,946.69 441.32,946.66 441.52,946.40 441.72,946.39 441.92,946.19 442.12,946.56 442.32,945.99 442.52,946.43 442.71,945.72 442.91,946.26 443.11,946.29 443.31,946.50 443.51,946.00 443.71,945.79 443.91,946.63 444.11,946.23 444.31,946.20 444.51,946.45 444.71,946.56 444.91,946.15 445.11,946.58 445.31,946.09 445.51,946.28 445.71,946.41 445.91,946.28 446.11,945.85 446.31,946.58 446.50,946.51 446.70,946.15 446.90,946.18 447.10,946.30 447.30,946.56 447.50,946.36 447.70,946.10 447.90,946.59 448.10,946.55 448.30,946.51 448.50,946.16 448.70,946.51 448.90,946.63 449.10,946.50 449.30,946.62 449.50,946.66 449.70,946.32 449.90,946.70 450.10,946.35 450.30,946.63 450.50,946.46 450.69,946.31 450.89,946.55 451.09,946.60 451.29,946.29 451.49,946.14 451.69,946.63 451.89,946.63 452.09,946.65 452.29,946.34 452.49,946.32 452.69,946.40 452.89,946.68 453.09,946.19 453.29,946.45 453.49,946.68 453.69,946.34 453.89,946.08 454.09,946.15 454.29,946.62 454.49,946.56 454.68,945.58 454.88,946.60 455.08,946.61 455.28,946.04 455.48,946.68 455.68,946.37 455.88,946.10 456.08,946.28 456.28,946.24 456.48,946.20 456.68,946.26 456.88,946.07 457.08,946.38 457.28,946.52 457.48,946.02 457.68,946.62 457.88,946.08 458.08,946.58 458.28,946.59 458.48,946.69 458.67,946.38 458.87,946.15 459.07,946.67 459.27,946.57 459.47,945.95 459.67,945.66 459.87,946.49 460.07,946.16 460.27,946.50 460.47,946.30 460.67,946.68 460.87,946.45 461.07,945.60 461.27,946.03 461.47,946.31 461.67,946.38 461.87,946.24 462.07,946.48 462.27,945.84 462.47,946.39 462.66,946.29 462.86,946.18 463.06,946.24 463.26,945.92 463.46,946.49 463.66,946.62 463.86,946.56 464.06,945.81 464.26,946.26 464.46,945.99 464.66,946.45 464.86,946.31 465.06,946.03 465.26,946.05 465.46,946.57 465.66,946.11 465.86,946.01 466.06,946.43 466.26,945.54 466.46,946.18 466.65,946.68 466.85,946.38 467.05,946.22 467.25,945.62 467.45,946.35 467.65,946.48 467.85,946.22 468.05,946.42 468.25,946.62 468.45,946.37 468.65,946.54 468.85,946.45 469.05,945.92 469.25,946.66 469.45,946.03 469.65,945.83 469.85,946.30 470.05,946.30 470.25,946.64 470.44,946.68 470.64,946.27 470.84,946.47 471.04,946.70 471.24,946.47 471.44,946.39 471.64,946.58 471.84,945.63 472.04,946.49 472.24,946.43 472.44,946.53 472.64,946.09 472.84,946.48 473.04,946.67 473.24,946.35 473.44,946.65 473.64,946.21 473.84,946.08 474.04,946.32 474.24,946.40 474.44,946.64 474.63,946.14 474.83,946.42 475.03,946.42 475.23,946.57 475.43,946.66 475.63,946.33 475.83,946.41 476.03,946.35 476.23,946.69 476.43,945.99 476.63,946.65 476.83,946.63 477.03,945.88 477.23,946.32 477.43,946.68 477.63,945.74 477.83,946.49 478.03,946.49 478.23,946.56 478.43,946.13 478.62,946.65 478.82,946.64 479.02,946.52 479.22,946.21 479.42,946.46 479.62,946.33 479.82,946.59 480.02,946.22 480.22,946.54 480.42,946.42 480.62,945.97 480.82,946.68 481.02,946.23 481.22,946.44 481.42,946.50 481.62,946.07 481.82,946.69 482.02,946.03 482.22,946.60 482.42,946.44 482.61,946.22 482.81,946.53 483.01,946.51 483.21,946.48 483.41,946.66 483.61,946.65 483.81,946.66 484.01,946.51 484.21,946.34 484.41,946.66 484.61,946.31 484.81,946.39 485.01,946.69 485.21,946.39 485.41,946.29 485.61,946.53 485.81,946.62 486.01,946.24 486.21,946.32 486.41,946.52 486.60,946.01 486.80,945.80 487.00,946.43 487.20,946.09 487.40,946.44 487.60,946.25 487.80,946.55 488.00,946.39 488.20,946.18 488.40,946.62 488.60,946.38 488.80,946.20 489.00,946.49 489.20,946.50 489.40,946.26 489.60,945.93 489.80,946.11 490.00,945.91 490.20,946.66 490.40,945.97 490.59,945.88 490.79,946.36 490.99,946.31 491.19,946.41 491.39,946.45 491.59,946.31 491.79,946.65 491.99,945.94 492.19,946.31 492.39,946.04 492.59,946.41 492.79,946.37 492.99,946.54 493.19,946.15 493.39,945.88 493.59,946.65 493.79,946.58 493.99,946.46 494.19,946.36 494.38,946.55 494.58,946.42 494.78,946.27 494.98,946.66 495.18,946.65 495.38,946.24 495.58,946.13 495.78,946.50 495.98,946.69 496.18,945.65 496.38,945.79 496.58,946.52 496.78,946.45 496.98,946.53 497.18,946.65 497.38,945.95 497.58,946.32 497.78,946.36 497.98,946.62 498.18,946.23 498.38,946.59 498.57,946.40 498.77,946.61 498.97,946.62 499.17,945.65 499.37,946.37 499.57,946.43 499.77,946.32 499.97,946.56 500.17,945.93 500.37,946.43 500.57,946.69 500.77,945.93 500.97,946.01 501.17,946.22 501.37,946.56 501.57,946.58 501.77,946.07 501.97,946.46 502.17,946.41 502.37,946.50 502.56,946.12 502.76,946.18 502.96,946.69 503.16,946.48 503.36,946.24 503.56,946.24 503.76,946.54 503.96,946.43 504.16,945.70 504.36,946.27 504.56,946.28 504.76,946.52 504.96,946.01 505.16,946.54 505.36,946.26 505.56,946.65 505.76,946.62 505.96,946.55 506.16,946.33 506.36,946.70 506.55,946.60 506.75,946.04 506.95,946.61 507.15,946.40 507.35,946.32 507.55,946.26 507.75,945.82 507.95,946.60 508.15,946.40 508.35,946.41 508.55,946.68 508.75,946.13 508.95,946.39 509.15,946.48 509.35,945.78 509.55,946.15 509.75,946.25 509.95,946.15 510.15,946.05 510.35,946.56 510.54,946.09 510.74,946.67 510.94,946.30 511.14,946.66 511.34,946.30 511.54,946.05 511.74,946.61 511.94,946.13 512.14,946.60 512.34,946.50 512.54,946.41 512.74,946.51 512.94,946.60 513.14,946.17 513.34,946.40 513.54,946.08 513.74,946.61 513.94,945.90 514.14,945.64 514.34,946.23 514.53,946.69 514.73,946.27 514.93,946.62 515.13,946.66 515.33,946.11 515.53,945.89 515.73,945.92 515.93,945.96 516.13,946.58 516.33,946.13 516.53,946.52 516.73,946.50 516.93,946.60 517.13,946.20 517.33,946.17 517.53,946.56 517.73,946.51 517.93,946.40 518.13,946.02 518.33,946.66 518.52,946.26 518.72,946.19 518.92,946.14 519.12,946.56 519.32,946.05 519.52,946.58 519.72,946.36 519.92,946.10 520.12,946.69 520.32,946.55 520.52,946.12 520.72,946.38 520.92,946.67 521.12,946.64 521.32,946.22 521.52,946.37 521.72,946.52 521.92,946.63 522.12,946.14 522.32,945.93 522.51,946.08 522.71,946.28 522.91,946.38 523.11,946.33 523.31,946.19 523.51,946.40 523.71,946.51 523.91,946.52 524.11,946.29 524.31,946.43 524.51,946.64 524.71,946.27 524.91,946.17 525.11,946.41 525.31,946.27 525.51,946.54 525.71,946.33 525.91,946.25 526.11,946.10 526.31,946.50 526.50,946.27 526.70,946.62 526.90,946.63 527.10,945.83 527.30,946.50 527.50,946.49 527.70,946.50 527.90,946.50 528.10,946.18 528.30,946.33 528.50,946.54 528.70,946.37 528.90,946.15 529.10,946.29 529.30,946.68 529.50,946.52 529.70,946.55 529.90,946.63 530.10,946.54 530.30,946.55 530.49,946.49 530.69,946.30 530.89,945.67 531.09,945.95 531.29,946.69 531.49,946.51 531.69,946.42 531.89,945.83 532.09,945.76 532.29,946.35 532.49,945.79 532.69,946.20 532.89,946.24 533.09,946.63 533.29,945.97 533.49,946.20 533.69,946.36 533.89,946.58 534.09,946.09 534.29,946.12 534.48,946.54 534.68,946.52 534.88,946.46 535.08,946.60 535.28,946.60 535.48,946.26 535.68,946.70 535.88,946.68 536.08,946.18 536.28,946.18 536.48,946.44 536.68,946.52 536.88,946.35 537.08,946.22 537.28,946.43 537.48,946.56 537.68,946.13 537.88,946.33 538.08,946.26 538.28,946.61 538.47,946.52 538.67,946.02 538.87,946.11 539.07,946.67 539.27,946.65 539.47,946.21 539.67,946.32 539.87,946.27 540.07,946.15 540.27,946.54 540.47,946.54 540.67,946.63 540.87,945.99 541.07,946.35 541.27,946.63 541.47,946.01 541.67,945.90 541.87,946.40 542.07,946.63 542.27,945.46 542.46,946.59 542.66,946.57 542.86,946.43 543.06,946.64 543.26,946.26 543.46,946.03 543.66,946.59 543.86,946.61 544.06,946.10 544.26,946.61 544.46,946.39 544.66,946.24 544.86,946.57 545.06,946.50 545.26,946.55 545.46,946.40 545.66,946.52 545.86,946.58 546.06,946.52 546.25,946.19 546.45,945.54 546.65,946.15 546.85,946.05 547.05,946.01 547.25,946.60 547.45,946.51 547.65,946.26 547.85,946.53 548.05,946.40 548.25,946.56 548.45,946.47 548.65,946.47 548.85,946.21 549.05,946.61 549.25,946.37 549.45,946.56 549.65,946.53 549.85,946.54 550.05,946.63 550.25,946.36 550.44,946.65 550.64,946.65 550.84,946.35 551.04,946.03 551.24,945.85 551.44,946.41 551.64,946.56 551.84,946.24 552.04,946.48 552.24,946.32 552.44,946.37 552.64,946.36 552.84,946.61 553.04,946.68 553.24,946.27 553.44,946.17 553.64,946.23 553.84,946.60 554.04,946.65 554.24,946.65 554.43,946.24 554.63,946.29 554.83,946.27 555.03,946.20 555.23,946.68 555.43,945.83 555.63,946.00 555.83,946.44 556.03,946.06 556.23,945.34 556.43,945.67 556.63,946.58 556.83,946.22 557.03,945.63 557.23,946.67 557.43,946.12 557.63,946.51 557.83,946.46 558.03,946.08 558.23,945.62 558.42,946.62 558.62,945.20 558.82,946.70 559.02,946.57 559.22,946.66 559.42,946.33 559.62,946.52 559.82,946.43 560.02,946.19 560.22,946.69 560.42,946.49 560.62,946.70 560.82,946.47 561.02,946.24 561.22,946.12 561.42,946.60 561.62,946.45 561.82,946.53 562.02,946.54 562.22,946.37 562.41,946.14 562.61,946.18 562.81,946.20 563.01,946.66 563.21,946.35 563.41,946.31 563.61,946.49 563.81,945.93 564.01,946.08 564.21,945.96 564.41,946.38 564.61,946.57 564.81,946.56 565.01,946.55 565.21,946.13 565.41,946.62 565.61,946.38 565.81,946.70 566.01,946.26 566.21,946.25 566.40,946.58 566.60,946.15 566.80,946.42 567.00,946.63 567.20,946.29 567.40,946.43 567.60,946.69 567.80,946.57 568.00,946.60 568.20,946.20 568.40,945.95 568.60,946.21 568.80,946.34 569.00,946.27 569.20,946.32 569.40,946.44 569.60,946.60 569.80,946.19 570.00,946.57 570.20,946.54 570.39,946.24 570.59,946.37 570.79,946.15 570.99,946.54 571.19,946.41 571.39,946.31 571.59,946.28 571.79,946.55 571.99,946.21 572.19,946.17 572.39,946.35 572.59,946.39 572.79,946.40 572.99,946.14 573.19,946.56 573.39,946.53 573.59,946.41 573.79,946.68 573.99,945.68 574.18,946.28 574.38,946.16 574.58,946.67 574.78,946.18 574.98,946.38 575.18,946.60 575.38,946.19 575.58,945.69 575.78,946.46 575.98,946.64 576.18,946.67 576.38,946.27 576.58,946.44 576.78,945.97 576.98,946.40 577.18,946.66 577.38,946.58 577.58,946.26 577.78,946.09 577.98,946.69 578.17,946.18 578.37,946.29 578.57,946.37 578.77,946.34 578.97,946.63 579.17,946.45 579.37,945.53 579.57,945.98 579.77,946.12 579.97,946.40 580.17,946.06 580.37,946.43 580.57,945.92 580.77,946.64 580.97,946.60 581.17,946.23 581.37,946.01 581.57,945.94 581.77,946.52 581.97,946.70 582.16,946.02 582.36,945.82 582.56,946.43 582.76,945.68 582.96,946.57 583.16,946.53 583.36,946.51 583.56,946.27 583.76,946.38 583.96,946.62 584.16,946.63 584.36,945.92 584.56,946.63 584.76,946.23 584.96,946.25 585.16,946.67 585.36,946.31 585.56,946.61 585.76,945.57 585.96,946.48 586.15,946.62 586.35,946.47 586.55,946.30 586.75,945.97 586.95,946.17 587.15,945.92 587.35,946.54 587.55,946.64 587.75,946.39 587.95,946.39 588.15,946.15 588.35,946.58 588.55,946.30 588.75,946.21 588.95,946.44 589.15,946.48 589.35,946.57 589.55,946.27 589.75,946.37 589.95,945.96 590.14,946.42 590.34,946.55 590.54,946.29 590.74,946.38 590.94,946.10 591.14,945.54 591.34,946.44 591.54,946.20 591.74,946.35 591.94,946.59 592.14,945.56 592.34,946.45 592.54,946.59 592.74,946.37 592.94,946.45 593.14,946.13 593.34,946.24 593.54,946.21 593.74,946.14 593.94,946.15 594.13,946.06 594.33,946.16 594.53,946.62 594.73,946.44 594.93,946.59 595.13,946.50 595.33,945.65 595.53,945.65 595.73,946.41 595.93,946.53 596.13,946.05 596.33,946.11 596.53,946.69 596.73,946.32 596.93,946.46 597.13,946.70 597.33,946.59 597.53,946.26 597.73,946.52 597.93,946.53 598.12,946.40 598.32,946.47 598.52,945.71 598.72,946.12 598.92,946.53 599.12,946.38 599.32,946.68 599.52,946.29 599.72,946.38 599.92,946.36 600.12,946.43 600.32,946.00 600.52,946.48 600.72,945.98 600.92,946.56 601.12,946.48 601.32,945.93 601.52,945.86 601.72,946.34 601.92,946.62 602.12,946.52 602.31,946.25 602.51,946.51 602.71,946.50 602.91,946.63 603.11,946.65 603.31,946.31 603.51,946.09 603.71,946.08 603.91,946.51 604.11,946.28 604.31,946.67 604.51,946.59 604.71,946.63 604.91,946.00 605.11,946.48 605.31,946.45 605.51,946.53 605.71,946.59 605.91,946.18 606.11,946.69 606.30,945.95 606.50,946.19 606.70,946.04 606.90,946.63 607.10,946.47 607.30,946.69 607.50,945.87 607.70,946.56 607.90,946.28 608.10,946.66 608.30,946.33 608.50,945.38 608.70,946.22 608.90,945.96 609.10,945.92 609.30,945.54 609.50,945.71 609.70,946.69 609.90,946.40 610.10,946.45 610.29,946.59 610.49,946.18 610.69,946.43 610.89,946.41 611.09,946.26 611.29,945.58 611.49,946.69 611.69,946.47 611.89,946.47 612.09,946.33 612.29,946.23 612.49,946.41 612.69,945.26 612.89,946.62 613.09,946.09 613.29,946.70 613.49,946.15 613.69,946.62 613.89,946.31 614.09,946.21 614.28,946.45 614.48,946.07 614.68,946.57 614.88,946.07 615.08,946.67 615.28,946.20 615.48,946.68 615.68,946.28 615.88,946.24 616.08,945.73 616.28,946.63 616.48,946.10 616.68,946.19 616.88,946.59 617.08,945.99 617.28,946.53 617.48,946.21 617.68,946.67 617.88,946.40 618.08,946.39 618.27,946.60 618.47,946.36 618.67,945.92 618.87,946.62 619.07,946.64 619.27,946.41 619.47,946.12 619.67,946.59 619.87,946.29 620.07,946.48 620.27,946.54 620.47,946.27 620.67,946.04 620.87,946.58 621.07,946.13 621.27,946.67 621.47,946.69 621.67,946.65 621.87,946.24 622.07,946.54 622.26,946.62 622.46,946.04 622.66,946.52 622.86,946.06 623.06,946.44 623.26,946.27 623.46,946.23 623.66,946.30 623.86,946.50 624.06,945.60 624.26,946.49 624.46,946.22 624.66,946.02 624.86,946.44 625.06,946.38 625.26,946.58 625.46,946.36 625.66,946.68 625.86,946.12 626.06,946.57 626.25,946.62 626.45,945.78 626.65,946.06 626.85,946.67 627.05,946.33 627.25,946.66 627.45,946.48 627.65,946.30 627.85,946.58 628.05,946.33 628.25,946.63 628.45,946.27 628.65,946.49 628.85,946.68 629.05,946.42 629.25,946.59 629.45,946.50 629.65,945.50 629.85,946.53 630.05,945.81 630.24,946.38 630.44,946.50 630.64,946.59 630.84,946.22 631.04,946.47 631.24,946.17 631.44,946.51 631.64,946.32 631.84,946.68 632.04,946.49 632.24,945.86 632.44,946.50 632.64,946.29 632.84,946.33 633.04,946.57 633.24,946.45 633.44,946.47 633.64,946.43 633.84,946.39 634.04,946.16 634.23,945.79 634.43,946.48 634.63,946.49 634.83,946.30 635.03,946.65 635.23,946.08 635.43,946.62 635.63,946.02 635.83,946.60 636.03,945.88 636.23,946.66 636.43,946.41 636.63,946.69 636.83,946.53 637.03,946.39 637.23,946.60 637.43,946.27 637.63,946.59 637.83,946.69 638.03,945.97 638.22,945.82 638.42,946.27 638.62,946.67 638.82,946.03 639.02,946.51 639.22,946.24 639.42,946.69 639.62,946.38 639.82,946.52 640.02,946.51 640.22,946.27 640.42,946.58 640.62,946.30 640.82,946.51 641.02,946.47 641.22,946.18" fill="none" stroke="#6ccb4e" stroke-width="1.2" stroke-linejoin="round"/>
<polyline points="149.25,1011.65 149.45,1011.71 149.65,1011.44 149.85,1011.47 150.05,1011.36 150.25,1011.40 150.45,1011.70 150.65,1011.56 150.85,1011.58 151.05,1011.78 151.25,1011.60 151.44,1011.02 151.64,1011.78 151.84,1011.74 152.04,1011.79 152.24,1011.73 152.44,1011.37 152.64,1011.05 152.84,1011.55 153.04,1011.57 153.24,1011.51 153.44,1011.52 153.64,1010.61 153.84,1010.59 154.04,1011.40 154.24,1011.66 154.44,1011.79 154.64,1011.40 154.84,1011.50 155.04,1011.76 155.24,1010.96 155.43,1011.69 155.63,1011.40 155.83,1011.06 156.03,1011.09 156.23,1011.55 156.43,1011.66 156.63,1011.34 156.83,1011.18 157.03,1011.69 157.23,1011.66 157.43,1011.71 157.63,1011.79 157.83,1011.49 158.03,1011.10 158.23,1011.75 158.43,1011.76 158.63,1011.73 158.83,1011.42 159.03,1011.43 159.22,1011.60 159.42,1011.56 159.62,1010.93 159.82,1011.53 160.02,1011.79 160.22,1011.39 160.42,1011.40 160.62,1011.42 160.82,1011.75 161.02,1011.35 161.22,1011.58 161.42,1011.77 161.62,1011.55 161.82,1011.56 162.02,1011.68 162.22,1011.47 162.42,1011.23 162.62,1010.91 162.82,1011.46 163.02,1011.62 163.22,1011.52 163.41,1011.59 163.61,1011.43 163.81,1011.52 164.01,1011.55 164.21,1010.90 164.41,1011.79 164.61,1011.76 164.81,1011.67 165.01,1011.76 165.21,1011.12 165.41,1011.67 165.61,1011.31 165.81,1011.39 166.01,1011.19 166.21,1011.08 166.41,1011.71 166.61,1011.69 166.81,1011.46 167.01,1010.89 167.21,1011.48 167.40,1011.53 167.60,1011.65 167.80,1011.08 168.00,1011.35 168.20,1011.78 168.40,1011.49 168.60,1011.58 168.80,1011.46 169.00,1011.36 169.20,1011.62 169.40,1011.66 169.60,1011.67 169.80,1011.67 170.00,1011.35 170.20,1011.45 170.40,1010.97 170.60,1011.60 170.80,1011.37 171.00,1011.35 171.19,1011.27 171.39,1011.26 171.59,1011.32 171.79,1011.52 171.99,1011.06 172.19,1011.34 172.39,1011.46 172.59,1011.53 172.79,1011.56 172.99,1011.14 173.19,1011.18 173.39,1011.07 173.59,1011.44 173.79,1011.57 173.99,1011.72 174.19,1011.37 174.39,1011.70 174.59,1011.18 174.79,1011.14 174.99,1011.52 175.19,1011.47 175.38,1011.75 175.58,1011.64 175.78,1011.74 175.98,1011.60 176.18,1011.55 176.38,1011.38 176.58,1011.71 176.78,1011.71 176.98,1011.75 177.18,1011.17 177.38,1011.42 177.58,1011.48 177.78,1011.42 177.98,1011.56 178.18,1011.75 178.38,1011.71 178.58,1011.70 178.78,1011.12 178.98,1011.77 179.18,1011.21 179.37,1011.61 179.57,1011.71 179.77,1011.67 179.97,1011.78 180.17,1011.60 180.37,1011.37 180.57,1011.67 180.77,1011.64 180.97,1011.79 181.17,1011.37 181.37,1011.58 181.57,1011.32 181.77,1011.71 181.97,1011.61 182.17,1011.54 182.37,1011.50 182.57,1011.38 182.77,1011.58 182.97,1011.62 183.16,1011.71 183.36,1011.29 183.56,1011.45 183.76,1011.58 183.96,1011.62 184.16,1011.50 184.36,1011.77 184.56,1011.28 184.76,1011.68 184.96,1011.29 185.16,1011.67 185.36,1011.47 185.56,1011.48 185.76,1011.51 185.96,1010.69 186.16,1010.97 186.36,1011.24 186.56,1011.61 186.76,1011.68 186.96,1011.24 187.16,1011.67 187.35,1011.44 187.55,1011.26 187.75,1010.87 187.95,1011.51 188.15,1011.32 188.35,1011.69 188.55,1011.71 188.75,1011.15 188.95,1011.63 189.15,1011.33 189.35,1011.38 189.55,1011.49 189.75,1011.57 189.95,1011.31 190.15,1011.70 190.35,1011.74 190.55,1011.52 190.75,1010.97 190.95,1011.44 191.15,1011.68 191.34,1011.37 191.54,1011.67 191.74,1011.01 191.94,1011.51 192.14,1011.29 192.34,1011.66 192.54,1011.67 192.74,1011.67 192.94,1011.79 193.14,1011.22 193.34,1011.48 193.54,1011.51 193.74,1011.22 193.94,1011.61 194.14,1011.53 194.34,1011.55 194.54,1011.71 194.74,1011.36 194.94,1011.26 195.13,1011.74 195.33,1011.53 195.53,1011.54 195.73,1011.63 195.93,1011.63 196.13,1011.16 196.33,1011.17 196.53,1011.78 196.73,1011.52 196.93,1011.17 197.13,1011.35 197.33,1011.50 197.53,1011.43 197.73,1011.72 197.93,1011.08 198.13,1011.15 198.33,1010.91 198.53,1011.64 198.73,1011.39 198.93,1011.66 199.12,1011.74 199.32,1011.69 199.52,1011.76 199.72,1011.76 199.92,1011.77 200.12,1011.79 200.32,1011.72 200.52,1011.65 200.72,1011.53 200.92,1011.63 201.12,1011.52 201.32,1011.49 201.52,1011.34 201.72,1010.80 201.92,1011.40 202.12,1011.44 202.32,1011.28 202.52,1011.58 202.72,1011.48 202.92,1011.76 203.12,1011.25 203.31,1011.17 203.51,1011.65 203.71,1011.39 203.91,1011.61 204.11,1011.31 204.31,1011.11 204.51,1011.57 204.71,1011.60 204.91,1011.78 205.11,1011.42 205.31,1011.55 205.51,1011.46 205.71,1011.08 205.91,1010.25 206.01,1009.59 206.11,1009.76 206.31,1011.32 206.51,1011.59 206.71,1011.66 206.91,1011.09 207.11,1011.41 207.30,1011.57 207.50,1011.32 207.70,1010.44 207.88,1009.01 207.90,1008.66 207.94,1008.69 208.10,1010.42 208.30,1011.57 208.50,1011.74 208.70,1011.60 208.90,1010.79 209.10,1009.71 209.17,1009.89 209.30,1010.40 209.50,1011.36 209.70,1011.64 209.90,1011.16 210.10,1011.39 210.30,1010.81 210.50,1011.68 210.70,1011.11 210.90,1011.71 211.09,1011.42 211.29,1011.77 211.49,1011.03 211.69,1011.77 211.89,1011.13 212.09,1011.36 212.29,1011.38 212.49,1011.22 212.69,1011.61 212.89,1011.71 213.09,1011.38 213.29,1011.45 213.49,1011.76 213.69,1011.57 213.89,1011.60 214.09,1011.79 214.29,1011.53 214.49,1011.16 214.69,1010.84 214.89,1011.22 215.09,1011.69 215.28,1011.62 215.48,1011.66 215.68,1011.61 215.88,1011.68 216.08,1010.92 216.28,1011.68 216.48,1011.57 216.68,1011.25 216.88,1011.23 217.08,1011.77 217.28,1011.36 217.48,1011.38 217.68,1011.45 217.88,1011.11 218.08,1011.60 218.28,1011.21 218.48,1011.52 218.68,1011.25 218.88,1011.70 219.07,1011.53 219.27,1011.63 219.47,1010.97 219.67,1011.79 219.87,1010.55 220.07,1011.56 220.27,1011.66 220.47,1011.76 220.67,1011.70 220.87,1011.17 221.07,1011.38 221.27,1011.43 221.47,1011.19 221.67,1011.35 221.87,1011.27 222.07,1011.26 222.27,1011.44 222.47,1011.33 222.67,1011.40 222.87,1011.72 223.06,1011.31 223.26,1011.74 223.46,1011.70 223.66,1011.64 223.86,1011.74 224.06,1011.78 224.26,1010.74 224.46,1011.76 224.66,1011.60 224.86,1011.39 225.06,1011.62 225.26,1011.71 225.46,1011.60 225.66,1011.12 225.86,1011.01 226.06,1011.75 226.26,1011.52 226.46,1011.68 226.66,1011.44 226.86,1011.70 227.06,1011.00 227.25,1011.57 227.45,1010.72 227.65,1011.47 227.85,1011.78 228.05,1011.68 228.25,1011.79 228.45,1011.21 228.65,1011.78 228.85,1011.78 229.05,1011.46 229.25,1011.48 229.45,1011.56 229.65,1011.74 229.85,1011.73 230.05,1011.79 230.25,1011.71 230.45,1011.47 230.65,1011.72 230.85,1011.69 231.05,1011.71 231.24,1011.18 231.44,1011.59 231.64,1011.61 231.84,1011.73 232.04,1011.27 232.24,1011.11 232.44,1011.36 232.64,1011.64 232.84,1011.60 233.04,1011.43 233.24,1010.97 233.44,1011.73 233.64,1011.41 233.84,1011.44 234.04,1011.69 234.24,1011.70 234.44,1011.66 234.64,1011.32 234.84,1011.57 235.04,1011.40 235.23,1011.43 235.43,1011.73 235.63,1011.23 235.83,1011.35 236.03,1011.72 236.23,1011.33 236.43,1011.20 236.63,1011.80 236.83,1011.49 237.03,1011.47 237.23,1011.74 237.43,1011.46 237.63,1011.63 237.83,1011.30 238.03,1011.78 238.23,1011.61 238.43,1011.66 238.63,1011.70 238.83,1011.23 239.03,1011.55 239.22,1011.26 239.42,1011.64 239.62,1011.79 239.82,1011.47 240.02,1011.52 240.22,1011.56 240.42,1011.75 240.62,1011.80 240.82,1011.78 241.02,1011.77 241.22,1011.46 241.42,1011.39 241.62,1011.45 241.82,1011.42 242.02,1011.29 242.22,1011.78 242.42,1011.47 242.62,1011.16 242.82,1011.78 243.01,1011.57 243.21,1011.62 243.41,1011.67 243.61,1011.79 243.81,1010.99 244.01,1011.72 244.21,1011.40 244.41,1011.23 244.61,1011.30 244.81,1011.18 245.01,1011.65 245.21,1011.69 245.41,1011.74 245.61,1011.59 245.81,1011.50 246.01,1011.53 246.21,1011.65 246.41,1011.79 246.61,1011.76 246.81,1011.55 247.00,1011.68 247.20,1011.66 247.40,1011.52 247.60,1011.76 247.80,1011.61 248.00,1011.43 248.20,1011.61 248.40,1011.28 248.60,1011.45 248.80,1011.77 249.00,1011.60 249.20,1011.60 249.40,1011.28 249.60,1009.06 249.80,1005.45 249.90,1004.61 250.00,1005.43 250.20,1008.79 250.40,1010.81 250.60,1011.54 250.80,1011.35 251.00,1011.50 251.19,1011.49 251.39,1010.97 251.59,1011.76 251.79,1011.36 251.99,1011.26 252.19,1011.10 252.39,1010.44 252.59,1009.63 252.79,1008.87 252.99,1008.58 253.00,1008.49 253.19,1009.12 253.39,1009.61 253.59,1010.54 253.79,1010.42 253.99,1009.00 254.09,1008.37 254.19,1008.39 254.39,1008.65 254.49,1008.82 254.59,1009.38 254.79,1010.45 254.99,1010.11 255.15,1009.43 255.18,1009.32 255.38,1010.68 255.58,1010.89 255.78,1010.21 255.92,1009.68 255.98,1010.08 256.18,1009.75 256.38,1011.30 256.58,1010.97 256.78,1011.74 256.98,1011.44 257.18,1011.51 257.38,1011.43 257.58,1011.36 257.78,1011.27 257.98,1010.84 258.18,1011.43 258.38,1011.76 258.58,1011.23 258.78,1011.13 258.98,1011.65 259.17,1011.78 259.37,1011.63 259.57,1011.70 259.77,1011.47 259.97,1011.32 260.17,1011.42 260.37,1011.48 260.57,1011.54 260.77,1011.32 260.97,1011.08 261.17,1011.66 261.37,1011.74 261.57,1011.11 261.77,1011.18 261.97,1011.06 262.17,1011.50 262.37,1011.52 262.57,1011.45 262.77,1011.11 262.97,1011.76 263.16,1011.74 263.36,1011.78 263.56,1011.76 263.76,1011.70 263.96,1011.77 264.16,1011.48 264.36,1011.39 264.56,1010.87 264.76,1011.70 264.96,1011.53 265.16,1011.75 265.36,1011.61 265.56,1011.80 265.76,1011.53 265.96,1011.71 266.16,1011.39 266.36,1011.74 266.56,1011.56 266.76,1011.50 266.96,1011.34 267.15,1011.31 267.35,1011.59 267.55,1011.55 267.75,1011.53 267.95,1011.11 268.15,1011.36 268.35,1011.62 268.55,1011.47 268.75,1010.76 268.95,1010.92 269.15,1011.64 269.35,1011.54 269.55,1011.29 269.75,1010.92 269.95,1011.66 270.15,1011.70 270.35,1011.67 270.55,1011.28 270.75,1011.51 270.94,1011.67 271.14,1011.57 271.34,1011.62 271.54,1011.79 271.74,1011.38 271.94,1011.61 272.14,1011.51 272.34,1011.28 272.54,1011.16 272.74,1011.55 272.94,1011.79 273.14,1011.75 273.34,1011.57 273.54,1011.36 273.74,1011.64 273.94,1011.28 274.14,1011.61 274.34,1011.77 274.54,1011.52 274.74,1011.78 274.94,1011.69 275.13,1011.40 275.33,1011.32 275.53,1011.47 275.73,1011.42 275.93,1011.53 276.13,1011.06 276.33,1011.47 276.53,1011.24 276.73,1011.15 276.93,1011.24 277.13,1011.59 277.33,1011.61 277.53,1011.21 277.73,1011.73 277.93,1011.47 278.13,1011.72 278.33,1011.74 278.53,1011.56 278.73,1011.70 278.93,1011.75 279.12,1011.38 279.32,1011.78 279.52,1011.22 279.72,1011.55 279.92,1011.21 280.12,1011.49 280.32,1011.59 280.52,1011.52 280.72,1011.62 280.92,1011.20 281.12,1010.94 281.32,1011.32 281.52,1011.47 281.72,1011.44 281.92,1011.50 282.12,1011.77 282.32,1011.76 282.52,1011.35 282.72,1011.60 282.92,1011.74 283.11,1011.79 283.31,1011.72 283.51,1011.47 283.71,1011.05 283.91,1011.65 284.11,1011.42 284.31,1011.70 284.51,1011.67 284.71,1011.62 284.91,1011.50 285.11,1010.63 285.31,1011.52 285.51,1011.64 285.71,1011.76 285.91,1011.59 286.11,1011.69 286.31,1011.67 286.51,1011.46 286.71,1011.38 286.90,1011.27 287.10,1011.78 287.30,1011.55 287.50,1011.64 287.70,1011.61 287.90,1011.61 288.10,1010.77 288.30,1011.32 288.50,1011.43 288.70,1011.74 288.90,1011.69 289.10,1011.55 289.30,1011.38 289.50,1011.27 289.70,1011.42 289.90,1011.45 290.10,1011.73 290.30,1011.68 290.50,1011.36 290.70,1011.15 290.89,1011.42 291.09,1011.49 291.29,1011.68 291.49,1010.90 291.69,1009.58 291.89,1007.78 292.00,1007.65 292.09,1007.35 292.29,1009.49 292.49,1010.90 292.69,1011.53 292.89,1011.37 293.09,1011.25 293.29,1011.32 293.49,1011.43 293.69,1011.70 293.89,1011.40 294.09,1011.53 294.29,1011.70 294.49,1010.38 294.69,1009.69 294.78,1009.56 294.88,1009.86 295.08,1011.08 295.28,1011.25 295.48,1011.25 295.68,1009.57 295.88,1005.24 296.00,1004.32 296.08,1005.06 296.28,1008.58 296.48,1011.06 296.68,1011.35 296.88,1010.88 297.08,1008.33 297.21,1006.50 297.22,1006.87 297.28,1006.72 297.37,1006.96 297.48,1008.92 297.68,1011.19 297.88,1011.20 298.08,1011.71 298.28,1011.11 298.48,1011.23 298.68,1011.78 298.88,1011.74 299.07,1011.71 299.27,1010.97 299.47,1011.76 299.67,1011.58 299.87,1011.21 300.07,1011.74 300.27,1011.25 300.47,1011.73 300.67,1011.58 300.87,1011.22 301.07,1011.74 301.27,1011.17 301.47,1010.74 301.67,1011.79 301.87,1011.58 302.07,1011.11 302.27,1011.14 302.47,1011.73 302.67,1010.98 302.87,1011.36 303.06,1011.28 303.26,1011.26 303.46,1011.32 303.66,1011.27 303.86,1011.41 304.06,1011.48 304.26,1011.70 304.46,1011.51 304.66,1011.67 304.86,1011.62 305.06,1011.75 305.26,1011.78 305.46,1011.23 305.66,1011.28 305.86,1010.83 306.06,1011.57 306.26,1011.55 306.46,1011.34 306.66,1011.47 306.86,1011.36 307.05,1010.78 307.25,1011.64 307.45,1011.29 307.65,1011.58 307.85,1011.57 308.05,1011.75 308.25,1011.32 308.45,1011.35 308.65,1011.17 308.85,1011.41 309.05,1011.30 309.25,1011.01 309.45,1011.38 309.65,1011.76 309.85,1011.74 310.05,1011.72 310.25,1011.80 310.45,1011.55 310.65,1011.73 310.85,1011.48 311.04,1011.77 311.24,1011.23 311.44,1011.03 311.64,1011.77 311.84,1011.61 312.04,1011.68 312.24,1011.24 312.44,1011.67 312.64,1011.47 312.84,1011.77 313.04,1011.65 313.24,1011.42 313.44,1011.74 313.64,1011.38 313.84,1011.15 314.04,1010.97 314.24,1011.52 314.44,1011.26 314.64,1011.70 314.84,1011.68 315.03,1011.75 315.23,1010.99 315.43,1011.43 315.63,1011.70 315.83,1011.36 316.03,1011.37 316.23,1011.27 316.43,1011.16 316.63,1011.78 316.83,1010.95 317.03,1011.26 317.23,1011.79 317.43,1011.80 317.63,1011.48 317.83,1011.73 318.03,1011.46 318.23,1011.80 318.43,1011.78 318.63,1011.78 318.83,1011.67 319.02,1011.44 319.22,1011.32 319.42,1011.38 319.62,1011.69 319.82,1011.45 320.02,1011.51 320.22,1011.61 320.42,1011.77 320.62,1011.54 320.82,1011.63 321.02,1011.39 321.22,1011.48 321.42,1011.65 321.62,1011.54 321.82,1011.65 322.02,1011.53 322.22,1011.64 322.42,1011.74 322.62,1011.74 322.81,1011.49 323.01,1011.13 323.21,1011.62 323.41,1011.41 323.61,1011.75 323.81,1011.68 324.01,1011.70 324.21,1011.15 324.41,1011.80 324.61,1011.50 324.81,1011.49 325.01,1011.74 325.21,1011.73 325.41,1011.69 325.61,1011.07 325.81,1011.73 326.01,1011.79 326.21,1011.60 326.41,1011.31 326.61,1011.74 326.81,1011.44 327.00,1011.65 327.20,1011.27 327.40,1011.23 327.60,1011.62 327.80,1011.56 328.00,1011.65 328.20,1011.01 328.40,1011.42 328.60,1011.71 328.80,1011.38 329.00,1011.34 329.20,1011.10 329.40,1011.59 329.60,1011.54 329.80,1011.20 330.00,1011.69 330.20,1011.61 330.40,1011.66 330.60,1011.59 330.80,1011.51 330.99,1011.73 331.19,1011.76 331.39,1011.75 331.59,1011.35 331.79,1011.31 331.99,1011.21 332.19,1010.77 332.39,1011.14 332.59,1011.66 332.79,1011.10 332.99,1011.14 333.19,1011.45 333.39,1011.78 333.59,1011.37 333.79,1011.66 333.99,1011.75 334.19,1011.66 334.39,1011.74 334.59,1011.75 334.78,1011.13 334.98,1011.60 335.18,1011.67 335.38,1011.79 335.58,1011.67 335.78,1011.68 335.98,1011.66 336.18,1011.56 336.38,1011.34 336.58,1011.73 336.78,1011.80 336.98,1010.63 337.18,1011.40 337.38,1011.53 337.58,1011.53 337.78,1011.31 337.98,1011.14 338.18,1010.12 338.38,1006.28 338.58,1000.25 338.70,999.24 338.77,999.84 338.97,1005.02 339.17,1009.51 339.37,1011.22 339.57,1009.56 339.77,1006.83 339.84,1005.91 339.84,1006.29 339.97,1007.66 340.17,1009.84 340.37,1010.14 340.57,1009.45 340.77,1008.14 340.97,1007.18 341.00,1007.32 341.17,1007.98 341.37,1008.96 341.57,1009.86 341.77,1011.04 341.97,1011.16 342.17,1011.49 342.37,1011.38 342.57,1010.29 342.72,1009.38 342.76,1009.47 342.96,1010.61 343.16,1011.46 343.36,1010.88 343.56,1009.07 343.62,1009.33 343.76,1009.20 343.96,1011.39 344.16,1011.77 344.36,1011.61 344.56,1011.69 344.76,1011.52 344.96,1011.30 345.16,1011.31 345.36,1011.52 345.56,1011.16 345.76,1011.37 345.96,1011.49 346.16,1011.72 346.36,1011.78 346.56,1011.38 346.75,1011.45 346.95,1011.43 347.15,1011.47 347.35,1011.67 347.55,1011.51 347.75,1011.67 347.95,1011.34 348.15,1011.32 348.35,1011.42 348.55,1011.02 348.75,1011.55 348.95,1011.58 349.15,1011.69 349.35,1011.51 349.55,1011.44 349.75,1011.75 349.95,1011.74 350.15,1011.79 350.35,1011.41 350.55,1011.32 350.75,1011.51 350.94,1011.33 351.14,1011.66 351.34,1011.36 351.54,1011.04 351.74,1011.79 351.94,1011.41 352.14,1011.60 352.34,1011.46 352.54,1011.62 352.74,1011.61 352.94,1011.60 353.14,1011.72 353.34,1011.76 353.54,1011.47 353.74,1011.36 353.94,1011.45 354.14,1011.30 354.34,1011.50 354.54,1011.44 354.74,1011.00 354.93,1011.72 355.13,1011.67 355.33,1010.68 355.53,1011.57 355.73,1011.79 355.93,1011.64 356.13,1011.59 356.33,1011.41 356.53,1011.69 356.73,1011.17 356.93,1011.71 357.13,1011.48 357.33,1011.09 357.53,1011.57 357.73,1011.05 357.93,1010.64 358.12,1010.54 358.13,1010.12 358.33,1011.25 358.53,1011.00 358.73,1011.26 358.92,1011.03 359.12,1011.78 359.32,1011.63 359.52,1011.79 359.72,1011.18 359.92,1011.25 360.12,1011.11 360.32,1010.17 360.41,1009.59 360.52,1009.26 360.58,1009.51 360.72,1009.99 360.92,1010.78 361.12,1009.85 361.22,1009.41 361.32,1009.98 361.52,1010.87 361.72,1011.62 361.92,1011.66 362.12,1010.99 362.32,1011.25 362.52,1011.55 362.72,1011.74 362.91,1011.54 363.11,1011.47 363.31,1011.76 363.51,1011.59 363.71,1011.25 363.91,1011.57 364.11,1011.72 364.31,1010.72 364.51,1011.14 364.71,1011.79 364.91,1011.16 365.11,1011.48 365.31,1011.25 365.51,1010.81 365.71,1011.28 365.91,1011.61 366.11,1011.53 366.31,1011.68 366.51,1011.64 366.71,1011.56 366.90,1011.25 367.10,1011.41 367.30,1011.73 367.50,1011.44 367.70,1011.51 367.90,1011.01 368.10,1011.34 368.30,1011.49 368.50,1011.32 368.70,1011.57 368.90,1011.25 369.10,1011.25 369.30,1011.00 369.50,1011.75 369.70,1011.68 369.90,1010.91 370.10,1011.41 370.30,1011.66 370.50,1011.39 370.70,1011.15 370.89,1011.64 371.09,1011.77 371.29,1011.68 371.49,1011.72 371.69,1011.41 371.89,1011.22 372.09,1011.75 372.29,1011.56 372.49,1011.59 372.69,1010.90 372.89,1011.20 373.09,1011.55 373.29,1011.74 373.49,1011.22 373.69,1011.63 373.89,1011.52 374.09,1011.29 374.29,1011.76 374.49,1011.76 374.69,1011.71 374.88,1011.80 375.08,1011.53 375.28,1011.69 375.48,1011.49 375.68,1011.52 375.88,1011.73 376.08,1011.70 376.28,1011.72 376.48,1011.41 376.68,1011.33 376.88,1011.60 377.08,1011.61 377.28,1011.79 377.48,1011.50 377.68,1011.68 377.88,1011.24 378.08,1011.79 378.28,1011.34 378.48,1011.52 378.68,1011.51 378.87,1011.77 379.07,1011.46 379.27,1010.87 379.47,1009.70 379.67,1001.17 379.87,982.38 380.00,976.70 380.07,979.05 380.27,996.02 380.47,1008.56 380.67,1010.91 380.87,1011.26 381.07,1011.46 381.27,1011.42 381.47,1011.22 381.67,1011.54 381.87,1011.30 382.07,1010.22 382.27,1008.26 382.47,1005.49 382.67,1003.82 382.70,1003.58 382.86,1004.36 383.06,1006.64 383.26,1009.78 383.46,1011.02 383.66,1011.35 383.86,1011.13 384.06,1010.57 384.26,1009.93 384.46,1009.29 384.66,1008.14 384.86,1007.21 385.00,1007.68 385.06,1007.73 385.26,1007.64 385.46,1008.92 385.66,1009.34 385.86,1009.94 386.06,1010.53 386.26,1009.10 386.41,1007.94 386.46,1008.13 386.65,1010.55 386.85,1011.14 387.05,1009.54 387.25,1007.86 387.26,1007.35 387.45,1009.57 387.65,1011.18 387.85,1011.30 388.05,1011.57 388.25,1011.06 388.45,1011.66 388.65,1011.66 388.85,1011.60 389.05,1011.72 389.25,1011.79 389.45,1011.57 389.65,1011.44 389.85,1011.34 390.05,1009.41 390.18,1007.18 390.25,1007.45 390.40,1007.78 390.45,1007.84 390.64,1010.29 390.84,1011.36 391.04,1010.85 391.24,1011.73 391.44,1011.67 391.64,1011.50 391.84,1010.92 392.04,1011.58 392.24,1011.77 392.44,1011.66 392.64,1011.17 392.84,1011.57 393.04,1011.66 393.24,1011.54 393.44,1011.26 393.64,1011.37 393.84,1011.73 394.04,1011.47 394.24,1011.70 394.44,1011.76 394.63,1010.95 394.83,1011.67 395.03,1011.74 395.23,1011.67 395.43,1011.76 395.63,1011.58 395.83,1011.47 396.03,1010.96 396.23,1011.74 396.43,1011.76 396.63,1011.53 396.83,1011.41 397.03,1011.63 397.23,1011.66 397.43,1011.70 397.63,1011.52 397.83,1011.26 398.03,1011.74 398.23,1011.56 398.43,1011.50 398.62,1011.55 398.82,1011.32 399.02,1011.38 399.22,1011.50 399.42,1011.21 399.62,1011.74 399.82,1011.78 400.02,1011.70 400.22,1011.72 400.42,1011.42 400.62,1011.63 400.82,1011.67 401.02,1011.48 401.22,1011.46 401.42,1011.36 401.62,1011.40 401.82,1011.10 402.02,1011.41 402.22,1011.78 402.42,1011.47 402.62,1011.29 402.81,1011.66 403.01,1011.50 403.21,1011.47 403.41,1011.37 403.61,1011.22 403.81,1011.40 404.01,1011.53 404.21,1011.69 404.41,1011.76 404.61,1011.10 404.81,1011.63 405.01,1011.25 405.21,1011.61 405.41,1011.45 405.61,1011.56 405.81,1011.66 406.01,1011.39 406.21,1011.72 406.41,1011.70 406.61,1011.70 406.80,1011.47 407.00,1011.68 407.20,1011.75 407.40,1011.66 407.60,1011.71 407.80,1011.73 408.00,1011.62 408.20,1011.25 408.40,1011.73 408.60,1011.23 408.80,1011.47 409.00,1011.73 409.20,1011.22 409.40,1011.79 409.60,1011.72 409.80,1011.57 410.00,1011.29 410.20,1011.47 410.40,1011.66 410.60,1011.60 410.79,1011.33 410.99,1011.02 411.19,1011.72 411.39,1010.39 411.59,1011.79 411.79,1011.22 411.99,1011.39 412.19,1011.79 412.39,1011.52 412.59,1011.72 412.79,1011.74 412.99,1011.72 413.19,1011.67 413.39,1011.65 413.59,1011.55 413.79,1011.70 413.99,1011.42 414.19,1011.79 414.39,1011.48 414.59,1011.28 414.78,1011.39 414.98,1011.48 415.18,1011.08 415.38,1011.67 415.58,1011.77 415.78,1011.07 415.98,1011.67 416.18,1011.53 416.38,1011.20 416.58,1011.64 416.78,1011.49 416.98,1011.78 417.18,1011.75 417.38,1011.66 417.58,1011.50 417.78,1011.75 417.98,1011.66 418.18,1010.96 418.38,1011.39 418.57,1010.81 418.77,1011.57 418.97,1011.79 419.17,1010.56 419.37,1011.28 419.57,1011.46 419.77,1011.40 419.97,1011.60 420.17,1011.50 420.37,1011.53 420.57,1011.38 420.77,1011.36 420.97,1011.74 421.17,1011.68 421.37,1011.61 421.57,1011.54 421.77,1011.65 421.97,1011.68 422.17,1011.30 422.37,1011.42 422.56,1011.51 422.76,1011.59 422.96,1011.08 423.16,1011.35 423.36,1011.64 423.56,1011.47 423.76,1011.68 423.96,1011.46 424.16,1011.78 424.36,1011.24 424.56,1011.76 424.76,1011.16 424.96,1011.78 425.16,1011.78 425.36,1011.47 425.56,1011.59 425.76,1011.16 425.96,1011.53 426.16,1011.36 426.36,1011.75 426.56,1011.69 426.75,1011.75 426.95,1011.42 427.15,1011.37 427.35,1011.25 427.55,1011.79 427.75,1011.77 427.95,1011.51 428.15,1011.74 428.35,1011.52 428.55,1011.65 428.75,1011.62 428.95,1011.45 429.15,1011.49 429.35,1011.17 429.55,1011.62 429.75,1011.17 429.95,1011.03 430.15,1011.36 430.35,1011.22 430.55,1011.15 430.74,1011.77 430.94,1011.62 431.14,1011.59 431.34,1011.35 431.54,1011.76 431.74,1011.75 431.94,1011.54 432.14,1011.16 432.34,1011.38 432.54,1011.13 432.74,1011.19 432.94,1011.52 433.14,1011.36 433.34,1011.38 433.54,1011.70 433.74,1011.74 433.94,1011.66 434.14,1011.71 434.34,1011.60 434.54,1011.68 434.73,1011.41 434.93,1011.23 435.13,1011.52 435.33,1010.84 435.53,1011.71 435.73,1011.65 435.93,1011.73 436.13,1011.45 436.33,1011.44 436.53,1011.73 436.73,1011.74 436.93,1011.33 437.13,1011.32 437.33,1011.50 437.53,1011.40 437.73,1011.65 437.93,1010.75 438.13,1011.33 438.33,1011.12 438.53,1011.55 438.72,1011.70 438.92,1011.45 439.12,1011.56 439.32,1011.35 439.52,1011.46 439.72,1011.74 439.92,1011.39 440.12,1011.80 440.32,1011.37 440.52,1011.62 440.72,1011.28 440.92,1011.50 441.12,1011.28 441.32,1011.41 441.52,1011.50 441.72,1011.75 441.92,1011.59 442.12,1011.25 442.32,1011.61 442.52,1011.75 442.71,1011.49 442.91,1011.71 443.11,1011.00 443.31,1011.79 443.51,1011.21 443.71,1011.68 443.91,1011.71 444.11,1011.47 444.31,1011.47 444.51,1011.41 444.71,1011.51 444.91,1011.61 445.11,1011.52 445.31,1011.53 445.51,1011.18 445.71,1010.99 445.91,1010.74 446.11,1011.76 446.31,1011.51 446.50,1011.38 446.70,1011.64 446.90,1011.63 447.10,1011.42 447.30,1011.77 447.50,1011.78 447.70,1011.45 447.90,1011.60 448.10,1011.73 448.30,1011.79 448.50,1010.96 448.70,1011.41 448.90,1010.85 449.10,1011.53 449.30,1011.76 449.50,1011.54 449.70,1011.66 449.90,1011.69 450.10,1011.46 450.30,1011.65 450.50,1011.17 450.69,1011.72 450.89,1011.04 451.09,1011.67 451.29,1011.61 451.49,1011.36 451.69,1011.59 451.89,1011.15 452.09,1010.28 452.29,1011.58 452.49,1011.26 452.69,1011.33 452.89,1011.51 453.09,1011.69 453.29,1011.52 453.49,1011.50 453.69,1011.75 453.89,1011.49 454.09,1011.05 454.29,1011.74 454.49,1011.41 454.68,1010.96 454.88,1011.75 455.08,1011.57 455.28,1011.64 455.48,1011.39 455.68,1011.03 455.88,1011.54 456.08,1011.13 456.28,1011.24 456.48,1011.17 456.68,1011.45 456.88,1011.67 457.08,1011.65 457.28,1011.37 457.48,1011.60 457.68,1011.55 457.88,1011.07 458.08,1011.55 458.28,1011.63 458.48,1011.55 458.67,1011.67 458.87,1011.58 459.07,1011.43 459.27,1011.71 459.47,1011.48 459.67,1011.66 459.87,1011.30 460.07,1011.45 460.27,1011.28 460.47,1011.52 460.67,1011.77 460.87,1011.67 461.07,1011.57 461.27,1011.40 461.47,1011.79 461.67,1011.72 461.87,1011.58 462.07,1011.74 462.27,1011.59 462.47,1011.57 462.66,1011.58 462.86,1011.31 463.06,1011.50 463.26,1011.77 463.46,1011.06 463.66,1011.73 463.86,1010.81 464.06,1011.79 464.26,1011.78 464.46,1011.49 464.66,1011.52 464.86,1011.77 465.06,1011.68 465.26,1011.65 465.46,1011.78 465.66,1011.52 465.86,1011.65 466.06,1011.73 466.26,1011.68 466.46,1011.49 466.65,1011.46 466.85,1011.37 467.05,1011.69 467.25,1011.46 467.45,1011.70 467.65,1011.59 467.85,1011.55 468.05,1011.47 468.25,1011.16 468.45,1011.57 468.65,1011.30 468.85,1011.23 469.05,1011.36 469.25,1011.67 469.45,1011.60 469.65,1011.75 469.85,1011.44 470.05,1011.79 470.25,1010.72 470.44,1011.68 470.64,1011.54 470.84,1011.76 471.04,1011.73 471.24,1010.99 471.44,1011.72 471.64,1010.80 471.84,1011.52 472.04,1011.51 472.24,1011.47 472.44,1011.46 472.64,1011.75 472.84,1011.17 473.04,1011.50 473.24,1011.47 473.44,1011.64 473.64,1011.74 473.84,1011.65 474.04,1011.59 474.24,1011.62 474.44,1010.85 474.63,1011.50 474.83,1011.62 475.03,1011.54 475.23,1011.35 475.43,1011.80 475.63,1011.45 475.83,1011.66 476.03,1011.04 476.23,1011.34 476.43,1011.51 476.63,1011.51 476.83,1011.74 477.03,1011.31 477.23,1011.59 477.43,1011.77 477.63,1011.72 477.83,1011.71 478.03,1011.44 478.23,1011.37 478.43,1010.99 478.62,1011.50 478.82,1011.55 479.02,1010.99 479.22,1011.68 479.42,1011.79 479.62,1011.62 479.82,1011.76 480.02,1011.34 480.22,1011.59 480.42,1011.60 480.62,1011.48 480.82,1011.70 481.02,1011.55 481.22,1011.27 481.42,1011.60 481.62,1011.29 481.82,1011.01 482.02,1011.32 482.22,1011.51 482.42,1011.58 482.61,1011.26 482.81,1011.66 483.01,1011.39 483.21,1011.73 483.41,1011.76 483.61,1011.75 483.81,1011.68 484.01,1011.67 484.21,1011.75 484.41,1011.67 484.61,1011.63 484.81,1010.88 485.01,1011.37 485.21,1011.50 485.41,1011.52 485.61,1011.79 485.81,1011.70 486.01,1011.73 486.21,1011.35 486.41,1011.43 486.60,1011.03 486.80,1011.15 487.00,1011.26 487.20,1011.43 487.40,1011.72 487.60,1011.25 487.80,1011.36 488.00,1011.19 488.20,1011.51 488.40,1011.75 488.60,1011.26 488.80,1011.53 489.00,1011.80 489.20,1011.77 489.40,1011.53 489.60,1011.26 489.80,1011.53 490.00,1011.70 490.20,1011.78 490.40,1011.50 490.59,1011.71 490.79,1011.26 490.99,1011.58 491.19,1011.44 491.39,1011.62 491.59,1011.46 491.79,1011.64 491.99,1011.69 492.19,1011.69 492.39,1011.48 492.59,1011.73 492.79,1011.50 492.99,1011.63 493.19,1011.80 493.39,1011.55 493.59,1011.75 493.79,1011.76 493.99,1011.61 494.19,1011.68 494.38,1011.03 494.58,1011.69 494.78,1011.20 494.98,1011.51 495.18,1011.04 495.38,1011.18 495.58,1011.39 495.78,1011.59 495.98,1011.74 496.18,1011.51 496.38,1011.47 496.58,1010.69 496.78,1011.42 496.98,1011.64 497.18,1011.78 497.38,1011.52 497.58,1011.74 497.78,1011.80 497.98,1011.39 498.18,1011.34 498.38,1011.21 498.57,1011.37 498.77,1010.78 498.97,1011.61 499.17,1011.16 499.37,1011.34 499.57,1011.43 499.77,1011.56 499.97,1011.46 500.17,1011.80 500.37,1011.40 500.57,1011.60 500.77,1011.58 500.97,1011.61 501.17,1011.79 501.37,1011.68 501.57,1011.43 501.77,1011.49 501.97,1011.36 502.17,1011.21 502.37,1011.66 502.56,1011.79 502.76,1011.42 502.96,1011.04 503.16,1011.22 503.36,1011.61 503.56,1011.65 503.76,1011.78 503.96,1011.26 504.16,1011.26 504.36,1011.22 504.56,1011.66 504.76,1011.24 504.96,1011.39 505.16,1011.61 505.36,1011.67 505.56,1011.47 505.76,1011.80 505.96,1011.72 506.16,1011.13 506.36,1011.46 506.55,1011.42 506.75,1011.72 506.95,1011.23 507.15,1011.64 507.35,1011.76 507.55,1010.91 507.75,1011.51 507.95,1011.35 508.15,1011.69 508.35,1011.55 508.55,1011.72 508.75,1011.65 508.95,1011.71 509.15,1011.62 509.35,1011.34 509.55,1011.63 509.75,1011.55 509.95,1011.26 510.15,1011.42 510.35,1011.65 510.54,1011.78 510.74,1011.27 510.94,1011.04 511.14,1011.28 511.34,1011.77 511.54,1011.49 511.74,1011.55 511.94,1011.60 512.14,1011.48 512.34,1011.31 512.54,1011.19 512.74,1011.18 512.94,1011.79 513.14,1011.58 513.34,1011.30 513.54,1011.79 513.74,1011.42 513.94,1011.41 514.14,1011.59 514.34,1011.75 514.53,1011.36 514.73,1011.57 514.93,1011.36 515.13,1011.63 515.33,1011.37 515.53,1011.42 515.73,1011.63 515.93,1011.66 516.13,1011.51 516.33,1011.52 516.53,1011.54 516.73,1011.73 516.93,1011.39 517.13,1011.70 517.33,1011.48 517.53,1011.56 517.73,1010.88 517.93,1011.67 518.13,1011.39 518.33,1011.27 518.52,1011.40 518.72,1011.58 518.92,1011.47 519.12,1011.62 519.32,1011.62 519.52,1011.71 519.72,1011.18 519.92,1011.44 520.12,1011.78 520.32,1011.22 520.52,1011.48 520.72,1011.60 520.92,1011.43 521.12,1010.73 521.32,1011.73 521.52,1011.49 521.72,1011.46 521.92,1011.53 522.12,1011.34 522.32,1011.54 522.51,1011.66 522.71,1011.66 522.91,1010.92 523.11,1011.47 523.31,1011.19 523.51,1011.43 523.71,1011.61 523.91,1010.89 524.11,1011.79 524.31,1011.37 524.51,1010.93 524.71,1011.59 524.91,1011.74 525.11,1011.75 525.31,1011.46 525.51,1011.61 525.71,1011.71 525.91,1011.73 526.11,1011.80 526.31,1011.05 526.50,1011.42 526.70,1011.32 526.90,1011.57 527.10,1011.61 527.30,1011.57 527.50,1011.80 527.70,1011.71 527.90,1010.87 528.10,1011.24 528.30,1011.45 528.50,1011.79 528.70,1011.00 528.90,1010.60 529.10,1011.40 529.30,1011.54 529.50,1011.19 529.70,1011.29 529.90,1011.32 530.10,1011.69 530.30,1011.73 530.49,1011.49 530.69,1011.25 530.89,1011.71 531.09,1011.63 531.29,1011.56 531.49,1010.83 531.69,1011.70 531.89,1011.53 532.09,1011.67 532.29,1011.67 532.49,1011.67 532.69,1011.32 532.89,1011.67 533.09,1011.54 533.29,1011.74 533.49,1011.17 533.69,1011.77 533.89,1011.80 534.09,1011.64 534.29,1011.20 534.48,1011.41 534.68,1011.64 534.88,1011.52 535.08,1011.57 535.28,1010.93 535.48,1011.61 535.68,1011.47 535.88,1011.40 536.08,1011.72 536.28,1011.37 536.48,1011.74 536.68,1011.76 536.88,1011.50 537.08,1011.49 537.28,1011.15 537.48,1011.41 537.68,1011.76 537.88,1011.71 538.08,1011.78 538.28,1011.70 538.47,1011.62 538.67,1011.74 538.87,1011.54 539.07,1011.73 539.27,1011.50 539.47,1011.17 539.67,1011.43 539.87,1011.69 540.07,1011.35 540.27,1011.11 540.47,1011.73 540.67,1011.06 540.87,1011.26 541.07,1011.45 541.27,1011.58 541.47,1011.03 541.67,1011.35 541.87,1011.57 542.07,1011.79 542.27,1011.70 542.46,1011.70 542.66,1011.22 542.86,1011.68 543.06,1011.67 543.26,1011.67 543.46,1011.22 543.66,1011.01 543.86,1011.11 544.06,1011.62 544.26,1011.62 544.46,1011.37 544.66,1010.94 544.86,1011.68 545.06,1011.17 545.26,1011.79 545.46,1011.62 545.66,1011.05 545.86,1011.59 546.06,1011.69 546.25,1011.55 546.45,1011.65 546.65,1011.73 546.85,1011.27 547.05,1011.45 547.25,1011.35 547.45,1011.75 547.65,1011.58 547.85,1011.36 548.05,1010.71 548.25,1011.64 548.45,1011.63 548.65,1011.63 548.85,1011.63 549.05,1011.75 549.25,1011.72 549.45,1011.41 549.65,1011.43 549.85,1011.44 550.05,1011.50 550.25,1011.33 550.44,1011.27 550.64,1011.20 550.84,1011.45 551.04,1011.71 551.24,1011.22 551.44,1011.54 551.64,1011.29 551.84,1011.55 552.04,1011.65 552.24,1011.46 552.44,1011.27 552.64,1011.72 552.84,1011.76 553.04,1011.54 553.24,1011.73 553.44,1011.75 553.64,1011.31 553.84,1011.45 554.04,1011.20 554.24,1011.53 554.43,1011.45 554.63,1011.40 554.83,1011.63 555.03,1011.67 555.23,1011.43 555.43,1011.48 555.63,1011.29 555.83,1011.71 556.03,1011.41 556.23,1011.71 556.43,1011.75 556.63,1011.41 556.83,1011.64 557.03,1011.45 557.23,1011.46 557.43,1011.42 557.63,1011.77 557.83,1011.30 558.03,1011.76 558.23,1011.50 558.42,1011.44 558.62,1011.41 558.82,1011.79 559.02,1011.30 559.22,1011.45 559.42,1011.56 559.62,1011.71 559.82,1011.35 560.02,1011.56 560.22,1011.35 560.42,1011.38 560.62,1011.54 560.82,1011.04 561.02,1011.17 561.22,1011.57 561.42,1011.61 561.62,1011.33 561.82,1011.68 562.02,1010.86 562.22,1011.59 562.41,1010.62 562.61,1011.07 562.81,1011.14 563.01,1011.51 563.21,1011.09 563.41,1011.48 563.61,1011.53 563.81,1011.46 564.01,1011.49 564.21,1011.33 564.41,1011.05 564.61,1011.33 564.81,1011.63 565.01,1011.58 565.21,1011.45 565.41,1011.34 565.61,1011.43 565.81,1011.46 566.01,1011.57 566.21,1011.44 566.40,1011.30 566.60,1011.17 566.80,1010.77 567.00,1011.74 567.20,1011.67 567.40,1011.49 567.60,1010.86 567.80,1011.77 568.00,1011.66 568.20,1011.06 568.40,1011.71 568.60,1011.24 568.80,1011.38 569.00,1011.46 569.20,1011.80 569.40,1011.33 569.60,1011.59 569.80,1011.21 570.00,1011.15 570.20,1011.50 570.39,1011.43 570.59,1011.31 570.79,1010.68 570.99,1011.28 571.19,1011.53 571.39,1010.73 571.59,1011.03 571.79,1011.66 571.99,1011.56 572.19,1010.90 572.39,1011.36 572.59,1011.27 572.79,1011.69 572.99,1011.05 573.19,1011.77 573.39,1011.76 573.59,1011.67 573.79,1011.62 573.99,1011.35 574.18,1011.59 574.38,1011.48 574.58,1011.13 574.78,1011.44 574.98,1011.67 575.18,1011.50 575.38,1011.47 575.58,1011.43 575.78,1011.66 575.98,1011.40 576.18,1011.41 576.38,1011.73 576.58,1010.83 576.78,1011.75 576.98,1011.36 577.18,1011.32 577.38,1011.53 577.58,1011.48 577.78,1011.51 577.98,1011.72 578.17,1011.29 578.37,1011.52 578.57,1011.10 578.77,1011.22 578.97,1011.37 579.17,1011.56 579.37,1011.23 579.57,1011.01 579.77,1011.43 579.97,1011.58 580.17,1011.45 580.37,1011.24 580.57,1011.36 580.77,1011.74 580.97,1011.23 581.17,1011.73 581.37,1011.71 581.57,1011.67 581.77,1011.41 581.97,1011.34 582.16,1011.79 582.36,1011.28 582.56,1011.79 582.76,1011.11 582.96,1011.57 583.16,1011.48 583.36,1010.91 583.56,1011.57 583.76,1011.68 583.96,1011.62 584.16,1011.66 584.36,1011.22 584.56,1011.56 584.76,1011.58 584.96,1011.23 585.16,1011.38 585.36,1011.63 585.56,1011.00 585.76,1011.44 585.96,1010.95 586.15,1011.53 586.35,1011.57 586.55,1011.33 586.75,1011.66 586.95,1011.63 587.15,1011.58 587.35,1011.79 587.55,1011.04 587.75,1011.64 587.95,1011.48 588.15,1010.78 588.35,1011.27 588.55,1011.39 588.75,1011.52 588.95,1011.37 589.15,1011.42 589.35,1011.39 589.55,1011.40 589.75,1011.46 589.95,1011.73 590.14,1010.92 590.34,1011.57 590.54,1011.17 590.74,1011.74 590.94,1011.65 591.14,1011.75 591.34,1011.34 591.54,1011.29 591.74,1011.20 591.94,1011.51 592.14,1011.27 592.34,1011.54 592.54,1011.79 592.74,1011.65 592.94,1011.78 593.14,1011.75 593.34,1011.70 593.54,1011.35 593.74,1011.53 593.94,1011.35 594.13,1011.78 594.33,1011.51 594.53,1011.78 594.73,1011.12 594.93,1011.45 595.13,1011.18 595.33,1011.70 595.53,1011.07 595.73,1011.35 595.93,1011.59 596.13,1011.73 596.33,1010.85 596.53,1011.53 596.73,1011.72 596.93,1011.45 597.13,1011.62 597.33,1011.71 597.53,1011.57 597.73,1011.10 597.93,1011.54 598.12,1011.53 598.32,1011.15 598.52,1011.50 598.72,1011.59 598.92,1011.74 599.12,1011.69 599.32,1011.74 599.52,1011.76 599.72,1011.50 599.92,1011.61 600.12,1011.53 600.32,1011.43 600.52,1011.33 600.72,1011.50 600.92,1011.75 601.12,1011.33 601.32,1011.64 601.52,1010.73 601.72,1011.42 601.92,1011.73 602.12,1011.70 602.31,1011.70 602.51,1011.42 602.71,1011.58 602.91,1011.02 603.11,1010.86 603.31,1011.79 603.51,1011.53 603.71,1011.42 603.91,1011.38 604.11,1011.73 604.31,1011.62 604.51,1010.92 604.71,1011.18 604.91,1011.43 605.11,1011.15 605.31,1011.44 605.51,1011.73 605.71,1011.63 605.91,1011.80 606.11,1011.66 606.30,1011.60 606.50,1011.51 606.70,1011.64 606.90,1011.52 607.10,1011.12 607.30,1011.71 607.50,1011.57 607.70,1011.40 607.90,1011.67 608.10,1011.77 608.30,1010.99 608.50,1011.73 608.70,1011.07 608.90,1011.73 609.10,1011.43 609.30,1011.73 609.50,1011.59 609.70,1011.67 609.90,1011.20 610.10,1011.68 610.29,1011.17 610.49,1011.66 610.69,1011.61 610.89,1011.34 611.09,1011.33 611.29,1011.74 611.49,1011.08 611.69,1011.52 611.89,1011.67 612.09,1011.24 612.29,1011.74 612.49,1011.51 612.69,1011.27 612.89,1011.59 613.09,1010.99 613.29,1011.80 613.49,1011.69 613.69,1011.65 613.89,1011.66 614.09,1011.72 614.28,1011.58 614.48,1011.39 614.68,1011.37 614.88,1011.12 615.08,1010.73 615.28,1011.75 615.48,1011.55 615.68,1011.42 615.88,1011.75 616.08,1011.47 616.28,1011.67 616.48,1011.78 616.68,1011.59 616.88,1011.42 617.08,1011.30 617.28,1011.78 617.48,1011.39 617.68,1011.44 617.88,1011.56 618.08,1011.77 618.27,1011.52 618.47,1011.59 618.67,1011.80 618.87,1011.42 619.07,1011.25 619.27,1011.35 619.47,1011.49 619.67,1011.31 619.87,1011.66 620.07,1011.56 620.27,1011.58 620.47,1011.70 620.67,1011.74 620.87,1011.67 621.07,1011.72 621.27,1011.53 621.47,1011.77 621.67,1011.46 621.87,1011.71 622.07,1011.31 622.26,1011.21 622.46,1011.46 622.66,1011.31 622.86,1011.49 623.06,1011.78 623.26,1011.79 623.46,1010.99 623.66,1011.66 623.86,1011.54 624.06,1011.29 624.26,1011.64 624.46,1011.26 624.66,1011.55 624.86,1011.51 625.06,1011.76 625.26,1011.27 625.46,1011.71 625.66,1011.66 625.86,1011.28 626.06,1011.64 626.25,1011.65 626.45,1011.14 626.65,1011.69 626.85,1011.55 627.05,1011.36 627.25,1011.36 627.45,1011.73 627.65,1011.59 627.85,1011.64 628.05,1011.51 628.25,1011.63 628.45,1011.22 628.65,1011.35 628.85,1011.52 629.05,1011.63 629.25,1011.33 629.45,1011.73 629.65,1011.79 629.85,1011.62 630.05,1011.65 630.24,1010.86 630.44,1011.75 630.64,1011.57 630.84,1011.58 631.04,1011.41 631.24,1011.17 631.44,1011.37 631.64,1011.77 631.84,1011.62 632.04,1011.49 632.24,1011.31 632.44,1011.48 632.64,1011.66 632.84,1011.46 633.04,1011.55 633.24,1011.73 633.44,1011.23 633.64,1011.35 633.84,1011.53 634.04,1011.28 634.23,1010.82 634.43,1011.40 634.63,1011.35 634.83,1011.53 635.03,1011.50 635.23,1011.56 635.43,1011.48 635.63,1011.71 635.83,1011.34 636.03,1011.72 636.23,1011.32 636.43,1011.66 636.63,1011.65 636.83,1011.34 637.03,1011.54 637.23,1011.51 637.43,1011.53 637.63,1011.62 637.83,1011.50 638.03,1011.27 638.22,1011.63 638.42,1011.48 638.62,1011.52 638.82,1011.69 639.02,1010.95 639.22,1011.41 639.42,1011.77 639.62,1011.13 639.82,1011.18 640.02,1011.42 640.22,1011.33 640.42,1011.32 640.62,1011.31 640.82,1011.47 641.02,1011.12 641.22,1011.24" fill="none" stroke="#b84fc6" stroke-width="1.2" stroke-linejoin="round"/>
<line x1="141.25" y1="634.7" x2="641" y2="634.7" stroke="#333" stroke-width="1.4"/>
<line x1="141.25" y1="695.3" x2="641" y2="695.3" stroke="#2b2b2b" stroke-width="2.2"/>
<line x1="141.25" y1="759.4" x2="641" y2="759.4" stroke="#2b2b2b" stroke-width="2.2"/>
<line x1="141.25" y1="823.9" x2="641" y2="823.9" stroke="#2b2b2b" stroke-width="2.2"/>
<line x1="141.25" y1="887.3" x2="641" y2="887.3" stroke="#2b2b2b" stroke-width="2.2"/>
<line x1="141.25" y1="950.8" x2="641" y2="950.8" stroke="#2b2b2b" stroke-width="2.2"/>
<line x1="141.25" y1="1012.5" x2="641" y2="1012.5" stroke="#333" stroke-width="1.2"/>
<line x1="141.25" y1="634.7" x2="141.25" y2="1012.5" stroke="#333" stroke-width="1.4"/>
<line x1="641" y1="634.7" x2="641" y2="1012.5" stroke="#333" stroke-width="1.4"/>
<text x="167.80" y="654.40" font-size="10.5" text-anchor="middle" fill="#1a1a1a" stroke="#1a1a1a" stroke-width="0.25" textLength="43.6" lengthAdjust="spacingAndGlyphs">5,136.226</text>
<line x1="148.30" y1="656.60" x2="185.30" y2="656.60" stroke="#555" stroke-width="1"/>
<text x="383.00" y="717.50" font-size="10.5" text-anchor="middle" fill="#1a1a1a" stroke="#1a1a1a" stroke-width="0.25" textLength="46" lengthAdjust="spacingAndGlyphs">6,749.856</text>
<line x1="363.50" y1="719.70" x2="400.50" y2="719.70" stroke="#555" stroke-width="1"/>
<text x="387.80" y="786.10" font-size="10.5" text-anchor="middle" fill="#1a1a1a" stroke="#1a1a1a" stroke-width="0.25" textLength="45" lengthAdjust="spacingAndGlyphs">6,789.972</text>
<line x1="368.30" y1="788.30" x2="405.30" y2="788.30" stroke="#555" stroke-width="1"/>
<text x="382.30" y="849.50" font-size="10.5" text-anchor="middle" fill="#1a1a1a" stroke="#1a1a1a" stroke-width="0.25" textLength="44" lengthAdjust="spacingAndGlyphs">6,747.781</text>
<line x1="362.80" y1="851.70" x2="399.80" y2="851.70" stroke="#555" stroke-width="1"/>
<text x="383.70" y="909.30" font-size="10.5" text-anchor="middle" fill="#1a1a1a" stroke="#1a1a1a" stroke-width="0.25" textLength="44" lengthAdjust="spacingAndGlyphs">6,757.723</text>
<line x1="364.20" y1="911.50" x2="401.20" y2="911.50" stroke="#555" stroke-width="1"/>
<text x="381.00" y="975.10" font-size="10.5" text-anchor="middle" fill="#1a1a1a" stroke="#1a1a1a" stroke-width="0.25" textLength="46" lengthAdjust="spacingAndGlyphs">6,739.643</text>
<line x1="361.50" y1="977.30" x2="398.50" y2="977.30" stroke="#555" stroke-width="1"/>
<text x="441.3" y="659.5" font-size="17" stroke="#111" stroke-width="0.12" fill="#111" textLength="178.7" lengthAdjust="spacingAndGlyphs">Cleaved product (<tspan font-style="italic">N</tspan> + 0)</text>
<text x="441.3" y="722.7" font-size="17" stroke="#111" stroke-width="0.12" fill="#111" textLength="157.5" lengthAdjust="spacingAndGlyphs">Oligo. 1: <tspan font-style="italic">N</tspan> + AAUUC*</text>
<text x="441.3" y="784" font-size="17" stroke="#111" stroke-width="0.12" fill="#111" textLength="159" lengthAdjust="spacingAndGlyphs">Oligo. 2: <tspan font-style="italic">N</tspan> + AACUG*</text>
<text x="441.3" y="848" font-size="17" stroke="#111" stroke-width="0.12" fill="#111" textLength="157" lengthAdjust="spacingAndGlyphs">Oligo. 3: <tspan font-style="italic">N</tspan> + CCAAU*</text>
<text x="441.3" y="912" font-size="17" stroke="#111" stroke-width="0.12" fill="#111" textLength="169.4" lengthAdjust="spacingAndGlyphs">Oligo. 4: <tspan font-style="italic">N</tspan> + U<tspan font-size="11" dy="4">f</tspan><tspan dy="-4">AU</tspan><tspan font-size="11" dy="4">f</tspan><tspan dy="-4">AU</tspan><tspan font-size="11" dy="4">f</tspan><tspan dy="-4.5">*</tspan></text>
<text x="441.3" y="975.2" font-size="17" stroke="#111" stroke-width="0.12" fill="#111" textLength="188.7" lengthAdjust="spacingAndGlyphs">Oligo. 5: <tspan font-style="italic">N</tspan> + U<tspan font-size="11" dy="4.5">f</tspan><tspan dy="-4.5">U</tspan><tspan font-size="11" dy="4.5">m</tspan><tspan dy="-4.5">U</tspan><tspan font-size="11" dy="4.5">f</tspan><tspan dy="-4.5">U</tspan><tspan font-size="11" dy="4.5">m</tspan><tspan dy="-4.5">U</tspan><tspan font-size="11" dy="4.5">f</tspan><tspan dy="-5">*</tspan></text>
<text transform="translate(87.3,665.0) rotate(-90)" font-size="11.8" text-anchor="middle" fill="#222" stroke="#222" stroke-width="0.3" textLength="37" lengthAdjust="spacingAndGlyphs">Intens.</text>
<text transform="translate(100.3,665.0) rotate(-90)" font-size="11.8" text-anchor="middle" fill="#222" stroke="#222" stroke-width="0.3" textLength="28.5" lengthAdjust="spacingAndGlyphs">(a.u.)</text>
<text transform="translate(87.3,727.3499999999999) rotate(-90)" font-size="11.8" text-anchor="middle" fill="#222" stroke="#222" stroke-width="0.3" textLength="37" lengthAdjust="spacingAndGlyphs">Intens.</text>
<text transform="translate(100.3,727.3499999999999) rotate(-90)" font-size="11.8" text-anchor="middle" fill="#222" stroke="#222" stroke-width="0.3" textLength="28.5" lengthAdjust="spacingAndGlyphs">(a.u.)</text>
<text transform="translate(87.3,791.65) rotate(-90)" font-size="11.8" text-anchor="middle" fill="#222" stroke="#222" stroke-width="0.3" textLength="37" lengthAdjust="spacingAndGlyphs">Intens.</text>
<text transform="translate(100.3,791.65) rotate(-90)" font-size="11.8" text-anchor="middle" fill="#222" stroke="#222" stroke-width="0.3" textLength="28.5" lengthAdjust="spacingAndGlyphs">(a.u.)</text>
<text transform="translate(87.3,855.5999999999999) rotate(-90)" font-size="11.8" text-anchor="middle" fill="#222" stroke="#222" stroke-width="0.3" textLength="37" lengthAdjust="spacingAndGlyphs">Intens.</text>
<text transform="translate(100.3,855.5999999999999) rotate(-90)" font-size="11.8" text-anchor="middle" fill="#222" stroke="#222" stroke-width="0.3" textLength="28.5" lengthAdjust="spacingAndGlyphs">(a.u.)</text>
<text transform="translate(87.3,919.05) rotate(-90)" font-size="11.8" text-anchor="middle" fill="#222" stroke="#222" stroke-width="0.3" textLength="37" lengthAdjust="spacingAndGlyphs">Intens.</text>
<text transform="translate(100.3,919.05) rotate(-90)" font-size="11.8" text-anchor="middle" fill="#222" stroke="#222" stroke-width="0.3" textLength="28.5" lengthAdjust="spacingAndGlyphs">(a.u.)</text>
<text transform="translate(87.3,981.65) rotate(-90)" font-size="11.8" text-anchor="middle" fill="#222" stroke="#222" stroke-width="0.3" textLength="37" lengthAdjust="spacingAndGlyphs">Intens.</text>
<text transform="translate(100.3,981.65) rotate(-90)" font-size="11.8" text-anchor="middle" fill="#222" stroke="#222" stroke-width="0.3" textLength="28.5" lengthAdjust="spacingAndGlyphs">(a.u.)</text>
<text x="112" y="642" font-size="9.5" fill="#222">×10<tspan font-size="6.5" dy="-4">6</tspan></text>
<line x1="136" y1="654.5" x2="141.25" y2="654.5" stroke="#222" stroke-width="1"/>
<text x="131.5" y="658.30" font-size="10.5" stroke="#222" stroke-width="0.25" text-anchor="end" fill="#222">1.0</text>
<line x1="136" y1="675" x2="141.25" y2="675" stroke="#222" stroke-width="1"/>
<text x="131.5" y="678.80" font-size="10.5" stroke="#222" stroke-width="0.25" text-anchor="end" fill="#222">0.5</text>
<line x1="136" y1="694.5" x2="141.25" y2="694.5" stroke="#222" stroke-width="1"/>
<text x="131.5" y="698.30" font-size="10.5" stroke="#222" stroke-width="0.25" text-anchor="end" fill="#222">0</text>
<text x="112" y="707" font-size="9.5" fill="#222">×10<tspan font-size="6.5" dy="-4">5</tspan></text>
<line x1="136" y1="713" x2="141.25" y2="713" stroke="#222" stroke-width="1"/>
<text x="131.5" y="716.80" font-size="10.5" stroke="#222" stroke-width="0.25" text-anchor="end" fill="#222">4</text>
<line x1="136" y1="734.5" x2="141.25" y2="734.5" stroke="#222" stroke-width="1"/>
<text x="131.5" y="738.30" font-size="10.5" stroke="#222" stroke-width="0.25" text-anchor="end" fill="#222">2</text>
<line x1="136" y1="757" x2="141.25" y2="757" stroke="#222" stroke-width="1"/>
<text x="131.5" y="760.80" font-size="10.5" stroke="#222" stroke-width="0.25" text-anchor="end" fill="#222">0</text>
<text x="112" y="771" font-size="9.5" fill="#222">×10<tspan font-size="6.5" dy="-4">5</tspan></text>
<line x1="136" y1="775" x2="141.25" y2="775" stroke="#222" stroke-width="1"/>
<text x="131.5" y="778.80" font-size="10.5" stroke="#222" stroke-width="0.25" text-anchor="end" fill="#222">2</text>
<line x1="136" y1="799.5" x2="141.25" y2="799.5" stroke="#222" stroke-width="1"/>
<text x="131.5" y="803.30" font-size="10.5" stroke="#222" stroke-width="0.25" text-anchor="end" fill="#222">1</text>
<line x1="136" y1="822" x2="141.25" y2="822" stroke="#222" stroke-width="1"/>
<text x="112" y="835" font-size="9.5" fill="#222">×10<tspan font-size="6.5" dy="-4">6</tspan></text>
<line x1="136" y1="837.5" x2="141.25" y2="837.5" stroke="#222" stroke-width="1"/>
<text x="131.5" y="841.30" font-size="10.5" stroke="#222" stroke-width="0.25" text-anchor="end" fill="#222">1.0</text>
<line x1="136" y1="861" x2="141.25" y2="861" stroke="#222" stroke-width="1"/>
<text x="131.5" y="864.80" font-size="10.5" stroke="#222" stroke-width="0.25" text-anchor="end" fill="#222">0.5</text>
<line x1="136" y1="885" x2="141.25" y2="885" stroke="#222" stroke-width="1"/>
<text x="131.5" y="888.80" font-size="10.5" stroke="#222" stroke-width="0.25" text-anchor="end" fill="#222">0</text>
<text x="112" y="897" font-size="9.5" fill="#222">×10<tspan font-size="6.5" dy="-4">5</tspan></text>
<line x1="136" y1="897.5" x2="141.25" y2="897.5" stroke="#222" stroke-width="1"/>
<line x1="136" y1="910" x2="141.25" y2="910" stroke="#222" stroke-width="1"/>
<text x="131.5" y="913.80" font-size="10.5" stroke="#222" stroke-width="0.25" text-anchor="end" fill="#222">1.5</text>
<line x1="136" y1="922.5" x2="141.25" y2="922.5" stroke="#222" stroke-width="1"/>
<text x="131.5" y="926.30" font-size="10.5" stroke="#222" stroke-width="0.25" text-anchor="end" fill="#222">1.0</text>
<line x1="136" y1="935" x2="141.25" y2="935" stroke="#222" stroke-width="1"/>
<text x="131.5" y="938.80" font-size="10.5" stroke="#222" stroke-width="0.25" text-anchor="end" fill="#222">0.5</text>
<line x1="136" y1="948" x2="141.25" y2="948" stroke="#222" stroke-width="1"/>
<text x="131.5" y="951.80" font-size="10.5" stroke="#222" stroke-width="0.25" text-anchor="end" fill="#222">0</text>
<text x="112" y="959" font-size="9.5" fill="#222">×10<tspan font-size="6.5" dy="-4">6</tspan></text>
<line x1="136" y1="965" x2="141.25" y2="965" stroke="#222" stroke-width="1"/>
<text x="131.5" y="968.80" font-size="10.5" stroke="#222" stroke-width="0.25" text-anchor="end" fill="#222">1.0</text>
<line x1="136" y1="988.75" x2="141.25" y2="988.75" stroke="#222" stroke-width="1"/>
<text x="131.5" y="992.55" font-size="10.5" stroke="#222" stroke-width="0.25" text-anchor="end" fill="#222">0.5</text>
<line x1="136" y1="1012" x2="141.25" y2="1012" stroke="#222" stroke-width="1"/>
<text x="131.5" y="1015.80" font-size="10.5" stroke="#222" stroke-width="0.25" text-anchor="end" fill="#222">0</text>
<line x1="149.25" y1="1012.5" x2="149.25" y2="1018" stroke="#222" stroke-width="1"/>
<text x="149.25" y="1034" font-size="11" text-anchor="middle" fill="#222" textLength="28" lengthAdjust="spacingAndGlyphs">5,000</text>
<line x1="215.75" y1="1012.5" x2="215.75" y2="1018" stroke="#222" stroke-width="1"/>
<text x="215.75" y="1034" font-size="11" text-anchor="middle" fill="#222" textLength="28" lengthAdjust="spacingAndGlyphs">5,500</text>
<line x1="282.25" y1="1012.5" x2="282.25" y2="1018" stroke="#222" stroke-width="1"/>
<text x="282.25" y="1034" font-size="11" text-anchor="middle" fill="#222" textLength="28" lengthAdjust="spacingAndGlyphs">6,000</text>
<line x1="348.75" y1="1012.5" x2="348.75" y2="1018" stroke="#222" stroke-width="1"/>
<text x="348.75" y="1034" font-size="11" text-anchor="middle" fill="#222" textLength="28" lengthAdjust="spacingAndGlyphs">6,500</text>
<line x1="415.25" y1="1012.5" x2="415.25" y2="1018" stroke="#222" stroke-width="1"/>
<text x="415.25" y="1034" font-size="11" text-anchor="middle" fill="#222" textLength="28" lengthAdjust="spacingAndGlyphs">7,000</text>
<line x1="481.75" y1="1012.5" x2="481.75" y2="1018" stroke="#222" stroke-width="1"/>
<text x="481.75" y="1034" font-size="11" text-anchor="middle" fill="#222" textLength="28" lengthAdjust="spacingAndGlyphs">7,500</text>
<line x1="548.25" y1="1012.5" x2="548.25" y2="1018" stroke="#222" stroke-width="1"/>
<text x="548.25" y="1034" font-size="11" text-anchor="middle" fill="#222" textLength="28" lengthAdjust="spacingAndGlyphs">8,000</text>
<line x1="614.75" y1="1012.5" x2="614.75" y2="1018" stroke="#222" stroke-width="1"/>
<text x="614.75" y="1034" font-size="11" text-anchor="middle" fill="#222" textLength="28" lengthAdjust="spacingAndGlyphs">8,500</text>
<text x="391" y="1054" font-size="11.5" font-style="italic" text-anchor="middle" fill="#222">m/z</text>
<text x="657.5" y="629" font-size="21" text-anchor="start" fill="#111" font-weight="bold" font-style="normal" stroke="#111" stroke-width="0.7" >d</text>
<rect x="657" y="637.5" width="482.70000000000005" height="60.8" fill="#000"/>
<rect x="711.1" y="637.5" width="1.2" height="60.8" fill="#fff"/>
<rect x="842.4" y="637.5" width="1.2" height="60.8" fill="#fff"/>
<rect x="966.9" y="637.5" width="1.2" height="60.8" fill="#fff"/>
<rect x="657" y="700.8" width="482.70000000000005" height="61.700000000000045" fill="#c9c9c9"/>
<rect x="657" y="763.8" width="482.70000000000005" height="61.700000000000045" fill="#e5e5e5"/>
<rect x="657" y="826.5" width="482.70000000000005" height="61.5" fill="#c9c9c9"/>
<rect x="657" y="889.3" width="482.70000000000005" height="63.200000000000045" fill="#e5e5e5"/>
<rect x="657" y="953.6" width="482.70000000000005" height="61.0" fill="#c9c9c9"/>
<rect x="710.9000000000001" y="700.8" width="1.6" height="313.8" fill="#f4f4f4"/>
<rect x="842.2" y="700.8" width="1.6" height="313.8" fill="#f4f4f4"/>
<rect x="966.7" y="700.8" width="1.6" height="313.8" fill="#f4f4f4"/>
<rect x="1051.2" y="700.8" width="1.6" height="313.8" fill="#f4f4f4"/>
<text x="684" y="674.3" font-size="16" text-anchor="middle" fill="#fff" stroke="#fff" stroke-width="0.15" textLength="41" lengthAdjust="spacingAndGlyphs">Index</text>
<text x="777.5" y="674.3" font-size="16" text-anchor="middle" fill="#fff" stroke="#fff" stroke-width="0.15" textLength="33" lengthAdjust="spacingAndGlyphs">Seq.</text>
<text x="905.3" y="665" font-size="16" text-anchor="middle" fill="#fff" stroke="#fff" stroke-width="0.15" textLength="106" lengthAdjust="spacingAndGlyphs">Major product</text>
<text x="905.3" y="683.3" font-size="16" text-anchor="middle" fill="#fff" stroke="#fff" stroke-width="0.15" textLength="38" lengthAdjust="spacingAndGlyphs">(<tspan font-style="italic">m/z</tspan>)</text>
<text x="1054" y="665" font-size="16" text-anchor="middle" fill="#fff" stroke="#fff" stroke-width="0.15" textLength="124" lengthAdjust="spacingAndGlyphs">Minor product(s)</text>
<text x="1054" y="683.3" font-size="16" text-anchor="middle" fill="#fff" stroke="#fff" stroke-width="0.15" textLength="38" lengthAdjust="spacingAndGlyphs">(<tspan font-style="italic">m/z</tspan>)</text>
<text x="686.5" y="738.9499999999999" font-size="16" text-anchor="middle" fill="#111" stroke="#111" stroke-width="0.15">1</text>
<text x="720.3" y="738.9499999999999" font-size="16" text-anchor="start" fill="#111" stroke="#111" stroke-width="0.15"><tspan font-style="italic">N</tspan> + AAUUC*</text>
<text x="906.2" y="738.9499999999999" font-size="16" text-anchor="middle" fill="#111" stroke="#111" stroke-width="0.15" textLength="63.5" lengthAdjust="spacingAndGlyphs">6,749.85</text>
<text x="1009.5" y="727.4499999999999" font-size="16" text-anchor="middle" fill="#111" stroke="#111" stroke-width="0.15" textLength="65" lengthAdjust="spacingAndGlyphs">6,425.03</text>
<text x="1009.5" y="750.7499999999999" font-size="16" text-anchor="middle" fill="#111" stroke="#111" stroke-width="0.15" textLength="65" lengthAdjust="spacingAndGlyphs">7,056.77</text>
<text x="1095.5" y="727.4499999999999" font-size="16" text-anchor="middle" fill="#111" stroke="#111" stroke-width="0.15" textLength="37.5" lengthAdjust="spacingAndGlyphs"><tspan font-style="italic">N</tspan> + 4</text>
<text x="1095.5" y="750.7499999999999" font-size="16" text-anchor="middle" fill="#111" stroke="#111" stroke-width="0.15" textLength="37.5" lengthAdjust="spacingAndGlyphs"><tspan font-style="italic">N</tspan> + 6</text>
<text x="686.5" y="801.9499999999999" font-size="16" text-anchor="middle" fill="#111" stroke="#111" stroke-width="0.15">2</text>
<text x="720.3" y="801.9499999999999" font-size="16" text-anchor="start" fill="#111" stroke="#111" stroke-width="0.15"><tspan font-style="italic">N</tspan> + AACUG*</text>
<text x="906.2" y="801.9499999999999" font-size="16" text-anchor="middle" fill="#111" stroke="#111" stroke-width="0.15" textLength="63.5" lengthAdjust="spacingAndGlyphs">6,789.97</text>
<text x="1009.5" y="790.4499999999999" font-size="16" text-anchor="middle" fill="#111" stroke="#111" stroke-width="0.15" textLength="65" lengthAdjust="spacingAndGlyphs">6,405.01</text>
<text x="1009.5" y="813.7499999999999" font-size="16" text-anchor="middle" fill="#111" stroke="#111" stroke-width="0.15" textLength="65" lengthAdjust="spacingAndGlyphs">7,096.07</text>
<text x="1095.5" y="801.9499999999999" font-size="16" text-anchor="middle" fill="#111" stroke="#111" stroke-width="0.15" textLength="37.5" lengthAdjust="spacingAndGlyphs"><tspan font-style="italic">N</tspan> + 4</text>
<text x="686.5" y="864.55" font-size="16" text-anchor="middle" fill="#111" stroke="#111" stroke-width="0.15">3</text>
<text x="720.3" y="864.55" font-size="16" text-anchor="start" fill="#111" stroke="#111" stroke-width="0.15"><tspan font-style="italic">N</tspan> + CCAAU*</text>
<text x="906.2" y="864.55" font-size="16" text-anchor="middle" fill="#111" stroke="#111" stroke-width="0.15" textLength="63.5" lengthAdjust="spacingAndGlyphs">6,747.78</text>
<text x="1009.5" y="853.05" font-size="16" text-anchor="middle" fill="#111" stroke="#111" stroke-width="0.15" textLength="65" lengthAdjust="spacingAndGlyphs">6,419.80</text>
<text x="1009.5" y="876.3499999999999" font-size="16" text-anchor="middle" fill="#111" stroke="#111" stroke-width="0.15" textLength="65" lengthAdjust="spacingAndGlyphs">7,077.78</text>
<text x="1095.5" y="853.05" font-size="16" text-anchor="middle" fill="#111" stroke="#111" stroke-width="0.15" textLength="37.5" lengthAdjust="spacingAndGlyphs"><tspan font-style="italic">N</tspan> + 4</text>
<text x="1095.5" y="876.3499999999999" font-size="16" text-anchor="middle" fill="#111" stroke="#111" stroke-width="0.15" textLength="37.5" lengthAdjust="spacingAndGlyphs"><tspan font-style="italic">N</tspan> + 6</text>
<text x="686.5" y="928.1999999999999" font-size="16" text-anchor="middle" fill="#111" stroke="#111" stroke-width="0.15">4</text>
<text x="720.3" y="928.1999999999999" font-size="16" fill="#111" stroke="#111" stroke-width="0.15"><tspan font-style="italic">N</tspan> + U<tspan font-size="11" dy="4">f</tspan><tspan dy="-4">AU</tspan><tspan font-size="11" dy="4">f</tspan><tspan dy="-4">AU</tspan><tspan font-size="11" dy="4">f</tspan><tspan dy="-4">*</tspan></text>
<text x="906.2" y="928.1999999999999" font-size="16" text-anchor="middle" fill="#111" stroke="#111" stroke-width="0.15" textLength="63.5" lengthAdjust="spacingAndGlyphs">6,757.72</text>
<text x="1009.5" y="916.6999999999999" font-size="16" text-anchor="middle" fill="#111" stroke="#111" stroke-width="0.15" textLength="65" lengthAdjust="spacingAndGlyphs">6,428.79</text>
<text x="1009.5" y="939.9999999999999" font-size="16" text-anchor="middle" fill="#111" stroke="#111" stroke-width="0.15" textLength="65" lengthAdjust="spacingAndGlyphs">7,086.67</text>
<text x="1095.5" y="916.6999999999999" font-size="16" text-anchor="middle" fill="#111" stroke="#111" stroke-width="0.15" textLength="37.5" lengthAdjust="spacingAndGlyphs"><tspan font-style="italic">N</tspan> + 4</text>
<text x="1095.5" y="939.9999999999999" font-size="16" text-anchor="middle" fill="#111" stroke="#111" stroke-width="0.15" textLength="37.5" lengthAdjust="spacingAndGlyphs"><tspan font-style="italic">N</tspan> + 6</text>
<text x="686.5" y="991.4" font-size="16" text-anchor="middle" fill="#111" stroke="#111" stroke-width="0.15">5</text>
<text x="720.3" y="991.4" font-size="16" fill="#111" stroke="#111" stroke-width="0.15" textLength="122" lengthAdjust="spacingAndGlyphs"><tspan font-style="italic">N</tspan> + U<tspan font-size="11" dy="4">f</tspan><tspan dy="-4">U</tspan><tspan font-size="11" dy="4">m</tspan><tspan dy="-4">U</tspan><tspan font-size="11" dy="4">f</tspan><tspan dy="-4">U</tspan><tspan font-size="11" dy="4">m</tspan><tspan dy="-4">U</tspan><tspan font-size="11" dy="4">f</tspan><tspan dy="-4">*</tspan></text>
<text x="906.2" y="991.4" font-size="16" text-anchor="middle" fill="#111" stroke="#111" stroke-width="0.15" textLength="63.5" lengthAdjust="spacingAndGlyphs">6,739.64</text>
<text x="1009.5" y="991.4" font-size="16" text-anchor="middle" fill="#111" stroke="#111" stroke-width="0.15" textLength="65" lengthAdjust="spacingAndGlyphs">6,431.76</text>
<text x="1095.5" y="991.4" font-size="16" text-anchor="middle" fill="#111" stroke="#111" stroke-width="0.15" textLength="37.5" lengthAdjust="spacingAndGlyphs"><tspan font-style="italic">N</tspan> + 4</text>
</svg>
</body></html>
